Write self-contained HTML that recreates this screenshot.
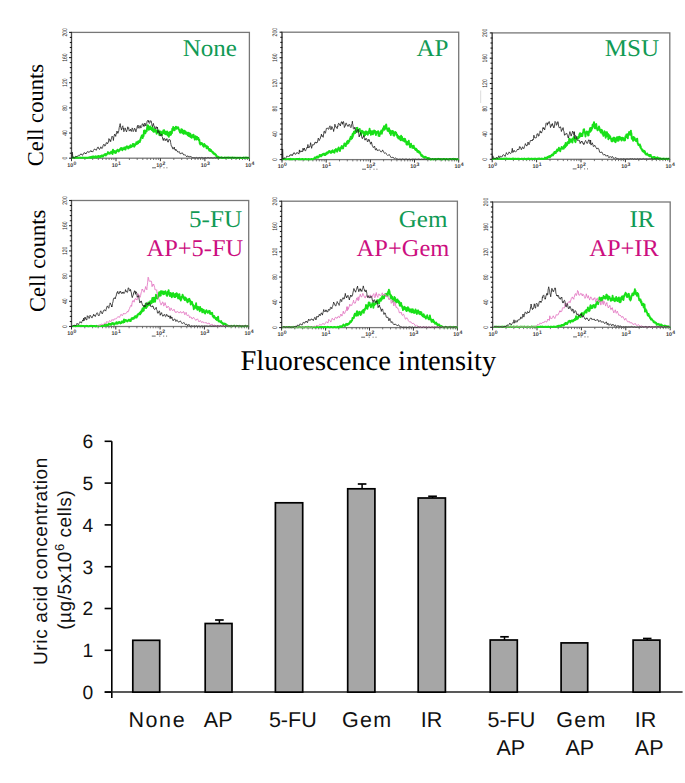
<!DOCTYPE html>
<html><head><meta charset="utf-8"><style>
html,body{margin:0;padding:0;background:#fff;}
svg{display:block;font-family:"Liberation Sans",sans-serif;}
text{text-rendering:geometricPrecision;}

</style></head><body>
<svg width="685" height="783" viewBox="0 0 685 783">
<rect width="685" height="783" fill="#fff"/>
<line x1="480.7" y1="90.5" x2="480.7" y2="103" stroke="#d8d8d8" stroke-width="0.9"/>
<rect x="71.5" y="32.4" width="177.9" height="125.8" fill="none" stroke="#777" stroke-width="1.3"/>
<line x1="71.5" y1="32.4" x2="71.5" y2="159.2" stroke="#4a4a4a" stroke-width="1.1"/>
<line x1="69.1" y1="158.2" x2="71.8" y2="158.2" stroke="#1a1a1a" stroke-width="1.1"/>
<line x1="69.8" y1="153.2" x2="71.8" y2="153.2" stroke="#1a1a1a" stroke-width="1.1"/>
<line x1="69.8" y1="148.1" x2="71.8" y2="148.1" stroke="#1a1a1a" stroke-width="1.1"/>
<line x1="69.8" y1="143.1" x2="71.8" y2="143.1" stroke="#1a1a1a" stroke-width="1.1"/>
<line x1="69.8" y1="138.1" x2="71.8" y2="138.1" stroke="#1a1a1a" stroke-width="1.1"/>
<line x1="69.1" y1="133.0" x2="71.8" y2="133.0" stroke="#1a1a1a" stroke-width="1.1"/>
<line x1="69.8" y1="128.0" x2="71.8" y2="128.0" stroke="#1a1a1a" stroke-width="1.1"/>
<line x1="69.8" y1="123.0" x2="71.8" y2="123.0" stroke="#1a1a1a" stroke-width="1.1"/>
<line x1="69.8" y1="117.9" x2="71.8" y2="117.9" stroke="#1a1a1a" stroke-width="1.1"/>
<line x1="69.8" y1="112.9" x2="71.8" y2="112.9" stroke="#1a1a1a" stroke-width="1.1"/>
<line x1="69.1" y1="107.9" x2="71.8" y2="107.9" stroke="#1a1a1a" stroke-width="1.1"/>
<line x1="69.8" y1="102.8" x2="71.8" y2="102.8" stroke="#1a1a1a" stroke-width="1.1"/>
<line x1="69.8" y1="97.8" x2="71.8" y2="97.8" stroke="#1a1a1a" stroke-width="1.1"/>
<line x1="69.8" y1="92.8" x2="71.8" y2="92.8" stroke="#1a1a1a" stroke-width="1.1"/>
<line x1="69.8" y1="87.8" x2="71.8" y2="87.8" stroke="#1a1a1a" stroke-width="1.1"/>
<line x1="69.1" y1="82.7" x2="71.8" y2="82.7" stroke="#1a1a1a" stroke-width="1.1"/>
<line x1="69.8" y1="77.7" x2="71.8" y2="77.7" stroke="#1a1a1a" stroke-width="1.1"/>
<line x1="69.8" y1="72.7" x2="71.8" y2="72.7" stroke="#1a1a1a" stroke-width="1.1"/>
<line x1="69.8" y1="67.6" x2="71.8" y2="67.6" stroke="#1a1a1a" stroke-width="1.1"/>
<line x1="69.8" y1="62.6" x2="71.8" y2="62.6" stroke="#1a1a1a" stroke-width="1.1"/>
<line x1="69.1" y1="57.6" x2="71.8" y2="57.6" stroke="#1a1a1a" stroke-width="1.1"/>
<line x1="69.8" y1="52.5" x2="71.8" y2="52.5" stroke="#1a1a1a" stroke-width="1.1"/>
<line x1="69.8" y1="47.5" x2="71.8" y2="47.5" stroke="#1a1a1a" stroke-width="1.1"/>
<line x1="69.8" y1="42.5" x2="71.8" y2="42.5" stroke="#1a1a1a" stroke-width="1.1"/>
<line x1="69.8" y1="37.4" x2="71.8" y2="37.4" stroke="#1a1a1a" stroke-width="1.1"/>
<line x1="69.1" y1="32.4" x2="71.8" y2="32.4" stroke="#1a1a1a" stroke-width="1.1"/>
<text x="0" y="0" transform="translate(66.6 158.2) rotate(-90) scale(0.76 1)" text-anchor="middle" font-size="6.6" fill="#2a2a2a" font-family="Liberation Sans">0</text>
<text x="0" y="0" transform="translate(66.6 133.0) rotate(-90) scale(0.76 1)" text-anchor="middle" font-size="6.6" fill="#2a2a2a" font-family="Liberation Sans">40</text>
<text x="0" y="0" transform="translate(66.6 107.9) rotate(-90) scale(0.76 1)" text-anchor="middle" font-size="6.6" fill="#2a2a2a" font-family="Liberation Sans">80</text>
<text x="0" y="0" transform="translate(66.6 82.7) rotate(-90) scale(0.76 1)" text-anchor="middle" font-size="6.6" fill="#2a2a2a" font-family="Liberation Sans">120</text>
<text x="0" y="0" transform="translate(66.6 57.6) rotate(-90) scale(0.76 1)" text-anchor="middle" font-size="6.6" fill="#2a2a2a" font-family="Liberation Sans">160</text>
<text x="0" y="0" transform="translate(66.6 32.4) rotate(-90) scale(0.76 1)" text-anchor="middle" font-size="6.6" fill="#2a2a2a" font-family="Liberation Sans">200</text>
<line x1="71.5" y1="158.2" x2="71.5" y2="161.2" stroke="#333" stroke-width="1"/>
<text x="67.3" y="166.6" font-size="5.4" font-weight="bold" fill="#3a3a3a" font-family="Liberation Sans">10<tspan dx="0.3" dy="-2.1" font-size="5.1">0</tspan></text>
<line x1="84.9" y1="158.2" x2="84.9" y2="160.0" stroke="#555" stroke-width="0.8"/>
<line x1="92.7" y1="158.2" x2="92.7" y2="160.0" stroke="#555" stroke-width="0.8"/>
<line x1="98.3" y1="158.2" x2="98.3" y2="160.0" stroke="#555" stroke-width="0.8"/>
<line x1="102.6" y1="158.2" x2="102.6" y2="160.0" stroke="#555" stroke-width="0.8"/>
<line x1="106.1" y1="158.2" x2="106.1" y2="160.0" stroke="#555" stroke-width="0.8"/>
<line x1="109.1" y1="158.2" x2="109.1" y2="160.0" stroke="#555" stroke-width="0.8"/>
<line x1="111.7" y1="158.2" x2="111.7" y2="160.0" stroke="#555" stroke-width="0.8"/>
<line x1="113.9" y1="158.2" x2="113.9" y2="160.0" stroke="#555" stroke-width="0.8"/>
<line x1="116.0" y1="158.2" x2="116.0" y2="161.2" stroke="#333" stroke-width="1"/>
<text x="111.8" y="166.6" font-size="5.4" font-weight="bold" fill="#3a3a3a" font-family="Liberation Sans">10<tspan dx="0.3" dy="-2.1" font-size="5.1">1</tspan></text>
<line x1="129.4" y1="158.2" x2="129.4" y2="160.0" stroke="#555" stroke-width="0.8"/>
<line x1="137.2" y1="158.2" x2="137.2" y2="160.0" stroke="#555" stroke-width="0.8"/>
<line x1="142.8" y1="158.2" x2="142.8" y2="160.0" stroke="#555" stroke-width="0.8"/>
<line x1="147.1" y1="158.2" x2="147.1" y2="160.0" stroke="#555" stroke-width="0.8"/>
<line x1="150.6" y1="158.2" x2="150.6" y2="160.0" stroke="#555" stroke-width="0.8"/>
<line x1="153.6" y1="158.2" x2="153.6" y2="160.0" stroke="#555" stroke-width="0.8"/>
<line x1="156.1" y1="158.2" x2="156.1" y2="160.0" stroke="#555" stroke-width="0.8"/>
<line x1="158.4" y1="158.2" x2="158.4" y2="160.0" stroke="#555" stroke-width="0.8"/>
<line x1="160.4" y1="158.2" x2="160.4" y2="161.2" stroke="#333" stroke-width="1"/>
<text x="156.2" y="166.6" font-size="5.4" font-weight="bold" fill="#3a3a3a" font-family="Liberation Sans">10<tspan dx="0.3" dy="-2.1" font-size="5.1">2</tspan></text>
<line x1="173.8" y1="158.2" x2="173.8" y2="160.0" stroke="#555" stroke-width="0.8"/>
<line x1="181.7" y1="158.2" x2="181.7" y2="160.0" stroke="#555" stroke-width="0.8"/>
<line x1="187.2" y1="158.2" x2="187.2" y2="160.0" stroke="#555" stroke-width="0.8"/>
<line x1="191.5" y1="158.2" x2="191.5" y2="160.0" stroke="#555" stroke-width="0.8"/>
<line x1="195.1" y1="158.2" x2="195.1" y2="160.0" stroke="#555" stroke-width="0.8"/>
<line x1="198.0" y1="158.2" x2="198.0" y2="160.0" stroke="#555" stroke-width="0.8"/>
<line x1="200.6" y1="158.2" x2="200.6" y2="160.0" stroke="#555" stroke-width="0.8"/>
<line x1="202.9" y1="158.2" x2="202.9" y2="160.0" stroke="#555" stroke-width="0.8"/>
<line x1="204.9" y1="158.2" x2="204.9" y2="161.2" stroke="#333" stroke-width="1"/>
<text x="200.7" y="166.6" font-size="5.4" font-weight="bold" fill="#3a3a3a" font-family="Liberation Sans">10<tspan dx="0.3" dy="-2.1" font-size="5.1">3</tspan></text>
<line x1="218.3" y1="158.2" x2="218.3" y2="160.0" stroke="#555" stroke-width="0.8"/>
<line x1="226.1" y1="158.2" x2="226.1" y2="160.0" stroke="#555" stroke-width="0.8"/>
<line x1="231.7" y1="158.2" x2="231.7" y2="160.0" stroke="#555" stroke-width="0.8"/>
<line x1="236.0" y1="158.2" x2="236.0" y2="160.0" stroke="#555" stroke-width="0.8"/>
<line x1="239.5" y1="158.2" x2="239.5" y2="160.0" stroke="#555" stroke-width="0.8"/>
<line x1="242.5" y1="158.2" x2="242.5" y2="160.0" stroke="#555" stroke-width="0.8"/>
<line x1="245.1" y1="158.2" x2="245.1" y2="160.0" stroke="#555" stroke-width="0.8"/>
<line x1="247.4" y1="158.2" x2="247.4" y2="160.0" stroke="#555" stroke-width="0.8"/>
<line x1="249.4" y1="158.2" x2="249.4" y2="161.2" stroke="#333" stroke-width="1"/>
<text x="245.2" y="166.6" font-size="5.4" font-weight="bold" fill="#3a3a3a" font-family="Liberation Sans">10<tspan dx="0.3" dy="-2.1" font-size="5.1">4</tspan></text>
<line x1="152.1" y1="167.8" x2="156.0" y2="167.8" stroke="#555" stroke-width="0.9"/>
<rect x="159.6" y="167.3" width="1" height="1" fill="#666"/>
<rect x="163.5" y="167.3" width="1" height="1" fill="#666"/>
<rect x="166.4" y="167.3" width="1" height="1" fill="#666"/>
<path d="M72.0,157.7 L72.5,157.8 L72.9,157.4 L73.3,157.5 L73.8,157.4 L74.2,157.9 L74.7,157.8 L75.2,157.9 L75.6,157.6 L76.0,157.8 L76.5,157.3 L77.0,157.7 L77.4,157.6 L77.8,157.9 L78.3,157.6 L78.8,157.8 L79.2,157.6 L79.7,157.6 L80.1,157.5 L80.5,157.8 L81.0,157.8 L81.5,157.9 L81.9,157.8 L82.3,157.8 L82.8,157.5 L83.2,157.7 L83.7,157.7 L84.2,157.8 L84.6,157.6 L85.0,157.8 L85.5,157.7 L86.0,157.8 L86.4,157.7 L86.8,157.9 L86.9,157.7 L87.3,158.0 L87.8,157.7 L88.2,157.6 L88.7,157.5 L89.1,157.5 L89.5,157.2 L90.0,157.5 L90.5,157.0 L90.9,157.9 L91.3,157.1 L91.8,157.7 L92.2,156.6 L92.7,157.4 L93.2,156.4 L93.6,157.3 L94.0,156.7 L94.5,157.5 L95.0,156.6 L95.4,157.0 L95.8,156.3 L96.3,157.7 L96.8,156.8 L97.2,157.1 L97.7,156.2 L98.1,156.7 L98.5,155.9 L99.0,157.1 L99.5,156.3 L99.9,157.0 L100.3,156.3 L100.8,157.0 L101.2,155.6 L101.5,155.7 L101.7,155.4 L102.2,156.2 L102.6,155.7 L103.0,156.7 L103.5,155.3 L104.0,155.3 L104.4,154.4 L104.8,154.6 L105.3,153.9 L105.8,155.6 L106.2,154.2 L106.7,154.6 L107.1,153.7 L107.5,153.6 L108.0,152.1 L108.5,153.6 L108.8,153.1 L108.9,153.2 L109.3,153.3 L109.8,153.8 L110.2,152.5 L110.7,152.5 L111.2,151.6 L111.6,153.1 L112.0,152.3 L112.5,154.1 L113.0,149.6 L113.4,152.2 L113.8,151.1 L114.3,152.3 L114.8,151.1 L115.2,153.1 L115.7,151.4 L116.1,152.7 L116.5,150.7 L117.0,151.2 L117.5,149.7 L117.9,150.7 L118.3,150.6 L118.8,151.5 L119.2,149.9 L119.7,150.3 L120.2,148.7 L120.6,149.0 L121.0,148.0 L121.5,149.4 L122.0,148.2 L122.4,150.2 L122.8,149.0 L123.3,149.0 L123.4,148.3 L123.8,148.7 L124.2,147.5 L124.7,149.3 L125.1,148.5 L125.5,149.6 L126.0,147.0 L126.5,147.5 L126.9,146.3 L127.3,147.2 L127.8,146.6 L128.2,148.5 L128.7,147.8 L129.2,147.8 L129.6,146.2 L130.1,147.4 L130.5,145.1 L130.7,147.4 L130.9,146.4 L131.4,146.7 L131.8,146.0 L132.3,146.3 L132.8,144.0 L133.2,144.9 L133.7,144.1 L134.1,146.7 L134.6,144.5 L135.0,145.5 L135.4,144.1 L135.9,144.5 L136.3,142.3 L136.8,144.1 L137.2,143.0 L137.7,142.7 L138.0,141.4 L138.2,143.3 L138.6,141.1 L139.1,141.9 L139.5,141.0 L139.9,142.0 L140.2,139.7 L140.4,140.4 L140.8,137.9 L141.3,137.1 L141.8,135.5 L142.2,137.3 L142.4,135.3 L142.7,138.1 L143.1,135.3 L143.6,136.0 L144.0,130.6 L144.4,133.4 L144.9,130.4 L145.3,133.4 L145.8,131.5 L146.0,131.8 L146.2,130.8 L146.7,131.3 L147.2,127.0 L147.6,125.1 L148.1,125.7 L148.2,128.4 L148.5,126.7 L148.9,129.8 L149.4,128.9 L149.8,129.1 L150.3,126.5 L150.8,129.1 L151.2,128.2 L151.7,130.1 L152.1,128.8 L152.6,130.3 L152.6,127.2 L153.0,131.2 L153.4,129.9 L153.9,131.9 L154.3,129.1 L154.8,131.6 L155.2,129.7 L155.7,131.1 L156.2,130.3 L156.6,133.7 L157.1,132.1 L157.5,132.7 L157.9,130.8 L158.4,132.5 L158.8,130.5 L159.3,135.0 L159.8,132.7 L160.2,134.3 L160.7,131.5 L161.1,133.3 L161.6,132.2 L162.0,135.1 L162.4,132.2 L162.9,133.0 L163.3,130.5 L163.8,133.2 L164.2,130.2 L164.7,133.7 L165.0,131.4 L165.2,134.0 L165.6,133.5 L166.1,134.4 L166.5,131.7 L166.9,133.0 L167.4,131.6 L167.8,135.3 L168.3,134.7 L168.8,136.9 L169.2,132.8 L169.6,135.2 L169.7,132.3 L170.1,135.0 L170.6,131.8 L171.0,134.7 L171.4,132.2 L171.9,133.2 L172.3,128.6 L172.8,130.7 L173.2,126.9 L173.7,129.3 L174.2,129.1 L174.6,130.3 L175.1,127.6 L175.5,128.1 L175.9,126.6 L176.4,128.8 L176.8,127.1 L176.9,128.5 L177.3,127.9 L177.8,128.2 L178.2,127.3 L178.7,129.3 L179.1,129.7 L179.6,131.6 L179.8,131.3 L180.0,132.6 L180.4,130.9 L180.9,132.7 L181.3,129.2 L181.8,130.7 L182.2,129.6 L182.7,133.1 L183.2,130.7 L183.6,133.9 L184.1,132.3 L184.2,132.7 L184.5,130.8 L184.9,133.3 L185.4,131.4 L185.8,133.8 L186.3,132.3 L186.8,134.1 L187.2,132.7 L187.7,135.4 L188.1,134.3 L188.6,135.7 L188.6,132.7 L189.0,136.1 L189.4,133.5 L189.9,136.6 L190.3,133.6 L190.8,137.2 L191.2,135.7 L191.7,137.8 L192.2,135.1 L192.6,136.9 L193.0,135.5 L193.1,136.4 L193.5,134.7 L193.9,137.5 L194.4,137.5 L194.8,139.7 L195.3,136.3 L195.8,137.7 L196.2,136.7 L196.7,139.6 L197.1,137.0 L197.3,138.7 L197.6,138.1 L198.0,139.1 L198.4,138.0 L198.9,140.3 L199.3,139.8 L199.8,143.7 L200.2,142.7 L200.3,144.5 L200.7,143.7 L201.2,144.0 L201.6,142.9 L202.1,143.4 L202.5,144.0 L202.9,145.8 L203.4,145.7 L203.8,146.8 L204.3,143.9 L204.8,145.7 L205.2,145.0 L205.7,146.0 L206.1,146.0 L206.6,148.2 L207.0,146.3 L207.4,147.8 L207.9,146.9 L208.3,148.8 L208.8,149.3 L209.2,150.5 L209.7,148.9 L210.2,151.1 L210.5,149.8 L210.6,150.7 L211.1,150.1 L211.5,151.4 L211.9,151.4 L212.4,152.4 L212.8,151.7 L213.3,153.4 L213.8,153.0 L214.2,154.3 L214.7,153.5 L214.9,154.4 L215.1,153.9 L215.6,154.9 L216.0,154.8 L216.4,156.6 L216.9,156.2 L217.3,157.6 L217.8,156.6 L218.2,156.8 L218.7,157.0 L219.2,157.8 L219.2,157.5 L219.6,157.9 L220.1,157.6 L220.5,157.7 L220.9,157.5 L221.4,157.6 L221.8,157.3 L222.3,157.8 L222.8,157.6 L223.2,158.1 L223.7,157.8 L224.1,157.7 L224.6,157.5 L225.0,157.7 L225.4,157.5 L225.9,157.9 L226.3,157.6 L226.8,157.8 L227.2,157.6 L227.7,157.6 L228.0,157.3 L228.2,157.6 L228.6,157.4 L229.1,157.7 L229.5,157.6 L229.9,157.8 L230.4,157.6 L230.8,157.8 L231.3,157.6 L231.8,157.6 L232.2,157.4 L232.7,157.7 L233.1,157.6 L233.6,157.8 L234.0,157.5 L234.4,157.8 L234.9,157.6 L235.3,157.8 L235.8,157.8 L236.2,157.9 L236.7,157.7 L237.2,157.8 L237.6,157.6 L238.1,157.9 L238.5,157.8 L238.9,157.9 L239.4,157.7 L239.8,157.7 L240.3,157.6 L240.8,157.9 L241.2,157.7 L241.7,158.0 L242.1,157.8 L242.6,158.0 L243.0,157.7 L243.4,157.7 L243.9,157.5 L244.3,157.8 L244.8,157.8 L245.2,158.0 L245.7,157.6 L246.2,157.8 L246.6,157.5 L247.1,157.6 L247.5,157.6 L247.9,157.9 L248.4,157.7 L248.8,157.7 L249.2,157.4" fill="none" stroke="#18e018" stroke-width="1.9" stroke-linejoin="round"/>
<path d="M72.0,157.9 L72.3,152.2 L72.5,153.5 L72.8,157.8 L72.9,157.7 L73.3,157.5 L73.8,157.4 L74.2,158.3 L74.7,157.7 L75.2,157.2 L75.6,156.3 L76.0,156.4 L76.5,156.6 L77.0,156.9 L77.4,156.0 L77.8,155.7 L78.3,155.3 L78.8,155.9 L79.2,155.7 L79.6,155.5 L79.7,155.2 L80.1,155.0 L80.5,154.0 L81.0,154.0 L81.5,154.0 L81.9,155.0 L82.3,155.3 L82.8,155.1 L83.2,153.7 L83.7,153.5 L84.2,152.5 L84.6,152.9 L85.0,152.9 L85.4,153.7 L85.5,153.0 L86.0,153.9 L86.4,152.7 L86.8,152.6 L87.3,151.7 L87.8,151.7 L88.2,151.5 L88.7,152.5 L89.1,152.5 L89.5,152.1 L90.0,151.1 L90.5,151.2 L90.9,150.5 L91.3,151.4 L91.3,151.0 L91.8,151.9 L92.2,151.5 L92.7,152.1 L93.2,150.8 L93.6,150.3 L94.0,149.3 L94.5,149.2 L95.0,149.1 L95.4,149.9 L95.8,149.8 L96.3,150.3 L96.8,148.9 L97.1,148.6 L97.2,147.8 L97.7,147.5 L98.1,146.9 L98.5,148.4 L99.0,148.6 L99.5,149.5 L99.9,148.4 L100.3,148.3 L100.8,146.8 L101.2,147.4 L101.5,147.6 L101.7,148.4 L102.2,148.4 L102.6,147.5 L103.0,145.7 L103.5,144.7 L104.0,144.1 L104.4,145.9 L104.8,146.0 L105.3,145.8 L105.8,144.4 L105.9,144.4 L106.2,142.7 L106.7,142.9 L107.1,142.5 L107.5,143.8 L108.0,142.8 L108.5,142.1 L108.9,138.6 L109.3,139.6 L109.8,139.4 L110.2,141.4 L110.3,140.5 L110.7,141.5 L111.2,139.0 L111.6,138.1 L112.0,136.1 L112.5,136.6 L113.0,137.7 L113.4,140.5 L113.8,137.0 L114.3,135.4 L114.6,134.2 L114.8,135.2 L115.2,135.0 L115.7,136.4 L116.1,133.5 L116.5,133.8 L117.0,131.0 L117.5,132.9 L117.6,132.5 L117.9,133.4 L118.3,132.6 L118.8,130.7 L119.2,127.6 L119.7,125.6 L120.2,123.6 L120.6,127.1 L121.0,128.2 L121.5,130.1 L122.0,127.7 L122.4,126.4 L122.8,125.8 L123.3,129.2 L123.4,128.3 L123.8,131.7 L124.2,131.0 L124.7,130.5 L125.1,127.9 L125.5,129.2 L126.0,130.3 L126.5,131.9 L126.9,130.4 L127.3,129.4 L127.8,126.8 L128.2,128.4 L128.7,127.8 L129.2,131.1 L129.6,130.5 L130.1,130.2 L130.5,129.1 L130.9,131.1 L131.4,131.4 L131.8,129.6 L132.2,127.9 L132.3,128.0 L132.8,128.9 L133.2,131.6 L133.7,130.7 L134.1,130.2 L134.6,128.2 L135.0,128.9 L135.4,129.4 L135.9,131.9 L136.3,129.8 L136.8,129.0 L137.2,126.7 L137.7,127.2 L138.0,125.0 L138.2,128.1 L138.6,127.7 L139.1,128.3 L139.5,126.2 L139.9,125.6 L140.4,125.7 L140.8,128.1 L141.3,127.3 L141.8,126.6 L142.2,123.8 L142.7,124.0 L143.1,123.8 L143.6,125.9 L143.8,125.0 L144.0,126.6 L144.4,124.1 L144.9,123.0 L145.3,124.0 L145.8,126.0 L146.2,124.6 L146.7,123.6 L147.2,121.0 L147.6,120.6 L148.1,120.1 L148.5,121.9 L148.9,120.8 L148.9,122.8 L149.4,123.4 L149.8,122.9 L150.3,120.8 L150.8,120.8 L151.2,120.9 L151.7,123.7 L152.1,125.8 L152.6,126.7 L152.6,125.4 L153.0,125.1 L153.4,123.4 L153.9,126.0 L154.3,126.1 L154.8,128.3 L155.2,127.9 L155.7,128.7 L156.2,126.6 L156.6,127.6 L157.0,127.5 L157.1,128.6 L157.5,127.1 L157.9,132.9 L158.4,130.8 L158.8,130.9 L159.3,131.7 L159.4,133.5 L159.8,133.1 L160.2,136.1 L160.7,135.3 L161.1,135.2 L161.6,134.3 L162.0,136.5 L162.4,136.9 L162.9,139.2 L163.0,138.7 L163.3,140.5 L163.8,138.7 L164.2,138.5 L164.7,138.5 L165.2,140.7 L165.6,139.6 L166.1,140.3 L166.5,139.1 L166.7,139.3 L166.9,138.6 L167.4,140.9 L167.8,142.1 L168.3,142.1 L168.8,139.6 L169.2,139.6 L169.7,139.4 L170.1,140.4 L170.3,140.2 L170.6,142.4 L171.0,144.5 L171.4,146.3 L171.8,146.7 L171.9,147.2 L172.3,146.9 L172.8,149.0 L173.2,148.8 L173.7,148.8 L174.2,147.0 L174.6,149.0 L175.1,150.0 L175.4,150.4 L175.5,149.4 L175.9,150.1 L176.4,149.7 L176.8,151.0 L177.3,151.1 L177.8,152.1 L178.2,151.8 L178.7,152.3 L179.1,151.5 L179.6,152.5 L179.8,152.7 L180.0,153.8 L180.4,153.7 L180.9,153.6 L181.3,153.1 L181.8,153.4 L182.2,152.7 L182.7,153.7 L183.2,153.8 L183.6,154.9 L184.1,154.9 L184.5,155.1 L184.9,154.6 L185.4,155.3 L185.7,155.5 L185.8,155.8 L186.3,156.2 L186.8,156.9 L187.2,156.0 L187.7,155.9 L188.1,155.9 L188.6,156.8 L189.0,156.9 L189.4,157.1 L189.9,156.2 L190.3,156.5 L190.8,156.4 L191.2,157.1 L191.7,157.2 L192.2,157.6 L192.6,157.6 L193.0,157.8 L193.1,157.6 L193.5,157.7 L193.9,157.6 L194.4,157.7 L194.8,157.7 L195.3,157.9 L195.8,157.6 L196.2,157.4 L196.7,157.5 L197.1,157.7 L197.6,157.9 L198.0,157.9 L198.4,157.8 L198.9,157.7 L199.3,157.5 L199.8,157.5 L200.2,157.6 L200.7,157.9 L201.2,157.6 L201.6,157.4 L202.1,157.4 L202.5,157.6 L202.9,157.6 L203.4,157.9 L203.8,157.9 L204.3,157.9 L204.8,157.6 L205.2,157.6 L205.7,157.6 L206.0,157.8 L206.1,157.9 L206.6,157.9 L207.0,157.7 L207.4,157.6 L207.9,157.4 L208.3,157.5 L208.8,157.6 L209.2,157.8 L209.7,157.9 L210.2,157.9 L210.6,157.6 L211.1,157.7 L211.5,157.6 L211.9,157.8 L212.4,157.8 L212.8,158.0 L213.3,157.9 L213.8,157.7 L214.2,157.4 L214.7,157.6 L215.1,157.7 L215.6,157.9 L216.0,157.7 L216.4,157.7 L216.9,157.5 L217.3,157.7 L217.8,157.8 L218.2,158.0 L218.7,157.8 L219.2,157.7 L219.6,157.5 L220.1,157.4 L220.5,157.4 L220.9,157.6 L221.4,157.7 L221.8,157.9 L222.3,157.7 L222.8,157.7 L223.2,157.5 L223.7,157.6 L224.1,157.5 L224.6,157.7 L225.0,157.7 L225.4,157.8 L225.9,157.6 L226.3,157.6 L226.8,157.4 L227.2,157.5 L227.7,157.6 L228.2,157.9 L228.6,157.8 L229.1,157.8 L229.5,157.5 L229.9,157.5 L230.4,157.6 L230.8,157.8 L231.3,157.9 L231.8,157.8 L232.2,157.4 L232.7,157.5 L233.1,157.6 L233.6,158.0 L234.0,158.0 L234.4,157.8 L234.9,157.5 L235.3,157.5 L235.8,157.7 L236.2,157.9 L236.7,158.0 L237.2,158.0 L237.6,157.7 L238.1,157.7 L238.5,157.5 L238.9,157.8 L239.4,157.8 L239.8,157.9 L240.3,157.7 L240.8,157.6 L241.2,157.7 L241.7,158.1 L242.1,157.7 L242.6,157.5 L243.0,157.4 L243.4,157.7 L243.9,157.7 L244.3,158.0 L244.8,157.6 L245.2,157.5 L245.7,157.3 L246.2,157.6 L246.6,157.7 L247.1,157.8 L247.5,157.6 L247.9,157.5 L248.4,157.5 L248.8,158.0 L249.0,157.9" fill="none" stroke="#1e1e1e" stroke-width="0.8"/>
<rect x="282.0" y="32.2" width="176.7" height="127.4" fill="none" stroke="#777" stroke-width="1.3"/>
<line x1="282.0" y1="32.2" x2="282.0" y2="160.6" stroke="#4a4a4a" stroke-width="1.1"/>
<line x1="279.6" y1="159.6" x2="282.3" y2="159.6" stroke="#1a1a1a" stroke-width="1.1"/>
<line x1="280.3" y1="154.5" x2="282.3" y2="154.5" stroke="#1a1a1a" stroke-width="1.1"/>
<line x1="280.3" y1="149.4" x2="282.3" y2="149.4" stroke="#1a1a1a" stroke-width="1.1"/>
<line x1="280.3" y1="144.3" x2="282.3" y2="144.3" stroke="#1a1a1a" stroke-width="1.1"/>
<line x1="280.3" y1="139.2" x2="282.3" y2="139.2" stroke="#1a1a1a" stroke-width="1.1"/>
<line x1="279.6" y1="134.1" x2="282.3" y2="134.1" stroke="#1a1a1a" stroke-width="1.1"/>
<line x1="280.3" y1="129.0" x2="282.3" y2="129.0" stroke="#1a1a1a" stroke-width="1.1"/>
<line x1="280.3" y1="123.9" x2="282.3" y2="123.9" stroke="#1a1a1a" stroke-width="1.1"/>
<line x1="280.3" y1="118.8" x2="282.3" y2="118.8" stroke="#1a1a1a" stroke-width="1.1"/>
<line x1="280.3" y1="113.7" x2="282.3" y2="113.7" stroke="#1a1a1a" stroke-width="1.1"/>
<line x1="279.6" y1="108.6" x2="282.3" y2="108.6" stroke="#1a1a1a" stroke-width="1.1"/>
<line x1="280.3" y1="103.5" x2="282.3" y2="103.5" stroke="#1a1a1a" stroke-width="1.1"/>
<line x1="280.3" y1="98.4" x2="282.3" y2="98.4" stroke="#1a1a1a" stroke-width="1.1"/>
<line x1="280.3" y1="93.4" x2="282.3" y2="93.4" stroke="#1a1a1a" stroke-width="1.1"/>
<line x1="280.3" y1="88.3" x2="282.3" y2="88.3" stroke="#1a1a1a" stroke-width="1.1"/>
<line x1="279.6" y1="83.2" x2="282.3" y2="83.2" stroke="#1a1a1a" stroke-width="1.1"/>
<line x1="280.3" y1="78.1" x2="282.3" y2="78.1" stroke="#1a1a1a" stroke-width="1.1"/>
<line x1="280.3" y1="73.0" x2="282.3" y2="73.0" stroke="#1a1a1a" stroke-width="1.1"/>
<line x1="280.3" y1="67.9" x2="282.3" y2="67.9" stroke="#1a1a1a" stroke-width="1.1"/>
<line x1="280.3" y1="62.8" x2="282.3" y2="62.8" stroke="#1a1a1a" stroke-width="1.1"/>
<line x1="279.6" y1="57.7" x2="282.3" y2="57.7" stroke="#1a1a1a" stroke-width="1.1"/>
<line x1="280.3" y1="52.6" x2="282.3" y2="52.6" stroke="#1a1a1a" stroke-width="1.1"/>
<line x1="280.3" y1="47.5" x2="282.3" y2="47.5" stroke="#1a1a1a" stroke-width="1.1"/>
<line x1="280.3" y1="42.4" x2="282.3" y2="42.4" stroke="#1a1a1a" stroke-width="1.1"/>
<line x1="280.3" y1="37.3" x2="282.3" y2="37.3" stroke="#1a1a1a" stroke-width="1.1"/>
<line x1="279.6" y1="32.2" x2="282.3" y2="32.2" stroke="#1a1a1a" stroke-width="1.1"/>
<text x="0" y="0" transform="translate(277.1 159.6) rotate(-90) scale(0.76 1)" text-anchor="middle" font-size="6.6" fill="#2a2a2a" font-family="Liberation Sans">0</text>
<text x="0" y="0" transform="translate(277.1 134.1) rotate(-90) scale(0.76 1)" text-anchor="middle" font-size="6.6" fill="#2a2a2a" font-family="Liberation Sans">40</text>
<text x="0" y="0" transform="translate(277.1 108.6) rotate(-90) scale(0.76 1)" text-anchor="middle" font-size="6.6" fill="#2a2a2a" font-family="Liberation Sans">80</text>
<text x="0" y="0" transform="translate(277.1 83.2) rotate(-90) scale(0.76 1)" text-anchor="middle" font-size="6.6" fill="#2a2a2a" font-family="Liberation Sans">120</text>
<text x="0" y="0" transform="translate(277.1 57.7) rotate(-90) scale(0.76 1)" text-anchor="middle" font-size="6.6" fill="#2a2a2a" font-family="Liberation Sans">160</text>
<text x="0" y="0" transform="translate(277.1 32.2) rotate(-90) scale(0.76 1)" text-anchor="middle" font-size="6.6" fill="#2a2a2a" font-family="Liberation Sans">200</text>
<line x1="282.0" y1="159.6" x2="282.0" y2="162.6" stroke="#333" stroke-width="1"/>
<text x="277.8" y="168.0" font-size="5.4" font-weight="bold" fill="#3a3a3a" font-family="Liberation Sans">10<tspan dx="0.3" dy="-2.1" font-size="5.1">0</tspan></text>
<line x1="295.3" y1="159.6" x2="295.3" y2="161.4" stroke="#555" stroke-width="0.8"/>
<line x1="303.1" y1="159.6" x2="303.1" y2="161.4" stroke="#555" stroke-width="0.8"/>
<line x1="308.6" y1="159.6" x2="308.6" y2="161.4" stroke="#555" stroke-width="0.8"/>
<line x1="312.9" y1="159.6" x2="312.9" y2="161.4" stroke="#555" stroke-width="0.8"/>
<line x1="316.4" y1="159.6" x2="316.4" y2="161.4" stroke="#555" stroke-width="0.8"/>
<line x1="319.3" y1="159.6" x2="319.3" y2="161.4" stroke="#555" stroke-width="0.8"/>
<line x1="321.9" y1="159.6" x2="321.9" y2="161.4" stroke="#555" stroke-width="0.8"/>
<line x1="324.2" y1="159.6" x2="324.2" y2="161.4" stroke="#555" stroke-width="0.8"/>
<line x1="326.2" y1="159.6" x2="326.2" y2="162.6" stroke="#333" stroke-width="1"/>
<text x="322.0" y="168.0" font-size="5.4" font-weight="bold" fill="#3a3a3a" font-family="Liberation Sans">10<tspan dx="0.3" dy="-2.1" font-size="5.1">1</tspan></text>
<line x1="339.5" y1="159.6" x2="339.5" y2="161.4" stroke="#555" stroke-width="0.8"/>
<line x1="347.3" y1="159.6" x2="347.3" y2="161.4" stroke="#555" stroke-width="0.8"/>
<line x1="352.8" y1="159.6" x2="352.8" y2="161.4" stroke="#555" stroke-width="0.8"/>
<line x1="357.1" y1="159.6" x2="357.1" y2="161.4" stroke="#555" stroke-width="0.8"/>
<line x1="360.5" y1="159.6" x2="360.5" y2="161.4" stroke="#555" stroke-width="0.8"/>
<line x1="363.5" y1="159.6" x2="363.5" y2="161.4" stroke="#555" stroke-width="0.8"/>
<line x1="366.1" y1="159.6" x2="366.1" y2="161.4" stroke="#555" stroke-width="0.8"/>
<line x1="368.3" y1="159.6" x2="368.3" y2="161.4" stroke="#555" stroke-width="0.8"/>
<line x1="370.4" y1="159.6" x2="370.4" y2="162.6" stroke="#333" stroke-width="1"/>
<text x="366.2" y="168.0" font-size="5.4" font-weight="bold" fill="#3a3a3a" font-family="Liberation Sans">10<tspan dx="0.3" dy="-2.1" font-size="5.1">2</tspan></text>
<line x1="383.6" y1="159.6" x2="383.6" y2="161.4" stroke="#555" stroke-width="0.8"/>
<line x1="391.4" y1="159.6" x2="391.4" y2="161.4" stroke="#555" stroke-width="0.8"/>
<line x1="396.9" y1="159.6" x2="396.9" y2="161.4" stroke="#555" stroke-width="0.8"/>
<line x1="401.2" y1="159.6" x2="401.2" y2="161.4" stroke="#555" stroke-width="0.8"/>
<line x1="404.7" y1="159.6" x2="404.7" y2="161.4" stroke="#555" stroke-width="0.8"/>
<line x1="407.7" y1="159.6" x2="407.7" y2="161.4" stroke="#555" stroke-width="0.8"/>
<line x1="410.2" y1="159.6" x2="410.2" y2="161.4" stroke="#555" stroke-width="0.8"/>
<line x1="412.5" y1="159.6" x2="412.5" y2="161.4" stroke="#555" stroke-width="0.8"/>
<line x1="414.5" y1="159.6" x2="414.5" y2="162.6" stroke="#333" stroke-width="1"/>
<text x="410.3" y="168.0" font-size="5.4" font-weight="bold" fill="#3a3a3a" font-family="Liberation Sans">10<tspan dx="0.3" dy="-2.1" font-size="5.1">3</tspan></text>
<line x1="427.8" y1="159.6" x2="427.8" y2="161.4" stroke="#555" stroke-width="0.8"/>
<line x1="435.6" y1="159.6" x2="435.6" y2="161.4" stroke="#555" stroke-width="0.8"/>
<line x1="441.1" y1="159.6" x2="441.1" y2="161.4" stroke="#555" stroke-width="0.8"/>
<line x1="445.4" y1="159.6" x2="445.4" y2="161.4" stroke="#555" stroke-width="0.8"/>
<line x1="448.9" y1="159.6" x2="448.9" y2="161.4" stroke="#555" stroke-width="0.8"/>
<line x1="451.9" y1="159.6" x2="451.9" y2="161.4" stroke="#555" stroke-width="0.8"/>
<line x1="454.4" y1="159.6" x2="454.4" y2="161.4" stroke="#555" stroke-width="0.8"/>
<line x1="456.7" y1="159.6" x2="456.7" y2="161.4" stroke="#555" stroke-width="0.8"/>
<line x1="458.7" y1="159.6" x2="458.7" y2="162.6" stroke="#333" stroke-width="1"/>
<text x="454.5" y="168.0" font-size="5.4" font-weight="bold" fill="#3a3a3a" font-family="Liberation Sans">10<tspan dx="0.3" dy="-2.1" font-size="5.1">4</tspan></text>
<line x1="362.1" y1="169.2" x2="366.0" y2="169.2" stroke="#555" stroke-width="0.9"/>
<rect x="369.6" y="168.7" width="1" height="1" fill="#666"/>
<rect x="373.5" y="168.7" width="1" height="1" fill="#666"/>
<rect x="376.4" y="168.7" width="1" height="1" fill="#666"/>
<path d="M282.3,159.1 L282.8,159.2 L283.2,158.7 L283.6,159.0 L284.1,158.8 L284.6,159.1 L285.0,159.0 L285.4,159.4 L285.9,159.2 L286.4,159.2 L286.8,159.0 L287.2,159.1 L287.7,159.1 L288.1,159.2 L288.6,159.0 L289.1,159.3 L289.5,158.9 L289.9,159.2 L290.4,158.8 L290.9,159.2 L291.3,159.0 L291.8,159.3 L292.2,159.0 L292.6,159.3 L293.1,158.9 L293.6,159.1 L294.0,159.1 L294.4,159.3 L294.9,159.0 L295.4,159.2 L295.8,159.1 L296.2,159.1 L296.7,158.9 L297.1,159.1 L297.6,159.0 L298.1,159.2 L298.5,159.0 L298.9,159.2 L299.4,158.8 L299.9,159.2 L300.3,159.2 L300.8,159.3 L301.2,159.1 L301.6,159.2 L302.1,158.9 L302.6,159.1 L303.0,159.0 L303.4,159.2 L303.9,159.2 L304.2,159.4 L304.4,159.2 L304.8,159.2 L305.2,158.9 L305.7,159.0 L306.1,159.1 L306.6,159.3 L307.1,159.1 L307.5,159.2 L307.9,159.1 L308.4,159.3 L308.9,158.9 L309.3,159.3 L309.8,159.1 L310.2,159.4 L310.6,159.1 L311.1,159.1 L311.6,158.9 L312.0,159.3 L312.4,159.1 L312.9,159.2 L313.0,159.0 L313.4,159.1 L313.8,158.7 L314.2,158.6 L314.7,157.4 L315.1,158.1 L315.6,158.0 L316.1,158.0 L316.5,156.8 L316.9,157.6 L317.4,156.4 L317.9,157.8 L318.3,157.1 L318.8,156.9 L318.8,156.4 L319.2,156.7 L319.6,155.0 L320.1,156.0 L320.6,155.1 L321.0,156.4 L321.4,154.9 L321.9,155.6 L322.4,154.2 L322.8,154.7 L323.2,154.1 L323.7,154.6 L324.1,153.6 L324.6,155.1 L325.1,154.3 L325.5,155.0 L325.9,153.4 L326.1,154.2 L326.4,152.8 L326.9,153.8 L327.3,152.2 L327.8,153.3 L328.2,152.7 L328.6,152.0 L329.1,150.9 L329.6,151.8 L330.0,151.2 L330.4,152.8 L330.9,152.7 L331.4,152.7 L331.8,150.9 L332.2,150.9 L332.7,150.2 L333.1,152.1 L333.4,151.5 L333.6,152.3 L334.1,151.7 L334.5,152.7 L334.9,150.0 L335.4,150.4 L335.9,149.1 L336.3,150.8 L336.8,150.5 L337.2,151.7 L337.6,149.0 L338.1,149.7 L338.6,147.5 L339.0,148.8 L339.4,149.0 L339.9,151.1 L340.4,148.4 L340.7,148.6 L340.8,147.5 L341.2,147.5 L341.7,146.1 L342.1,148.3 L342.6,147.0 L343.1,148.4 L343.5,145.8 L343.9,145.6 L344.4,143.5 L344.9,145.6 L345.3,144.9 L345.8,146.1 L346.2,143.3 L346.6,144.1 L347.1,141.4 L347.6,143.6 L348.0,140.7 L348.4,142.9 L348.9,141.1 L349.4,141.2 L349.8,139.1 L350.2,138.8 L350.7,136.8 L351.1,139.2 L351.6,136.5 L352.1,138.4 L352.5,134.2 L352.8,136.7 L352.9,133.5 L353.4,134.9 L353.9,131.8 L354.3,133.4 L354.8,131.2 L355.2,133.1 L355.6,130.5 L356.1,131.0 L356.6,127.9 L357.0,129.3 L357.4,127.8 L357.5,130.7 L357.9,130.0 L358.4,131.9 L358.8,130.2 L359.2,130.7 L359.7,128.9 L360.1,131.2 L360.6,131.5 L361.1,135.0 L361.1,131.6 L361.5,134.0 L361.9,130.8 L362.4,132.4 L362.9,131.3 L363.3,132.6 L363.8,132.0 L364.2,136.1 L364.6,133.2 L365.1,135.1 L365.6,131.4 L366.0,132.4 L366.4,131.5 L366.9,134.1 L367.4,132.3 L367.8,134.8 L368.2,132.7 L368.4,133.3 L368.7,131.2 L369.1,132.6 L369.6,128.8 L370.1,133.1 L370.5,130.7 L370.9,134.8 L371.4,132.7 L371.9,132.4 L372.3,131.2 L372.8,134.4 L373.2,132.9 L373.6,133.4 L374.1,130.5 L374.6,132.2 L375.0,131.0 L375.2,132.4 L375.4,131.7 L375.9,135.0 L376.4,132.1 L376.8,132.9 L377.2,131.7 L377.7,132.1 L378.1,131.2 L378.6,135.8 L379.1,134.1 L379.5,136.1 L379.6,133.8 L379.9,134.6 L380.4,131.8 L380.9,133.3 L381.3,130.5 L381.8,133.7 L382.2,131.6 L382.6,131.1 L383.1,128.1 L383.6,129.1 L384.0,126.2 L384.4,129.7 L384.9,128.9 L385.4,128.7 L385.8,125.2 L386.2,125.9 L386.2,124.4 L386.7,128.5 L387.1,128.2 L387.6,130.7 L388.1,129.2 L388.5,131.2 L388.9,128.1 L389.4,130.0 L389.8,130.2 L389.9,133.3 L390.3,130.8 L390.8,135.0 L391.2,132.5 L391.6,132.4 L392.1,130.9 L392.6,133.0 L393.0,131.2 L393.4,135.2 L393.9,133.5 L394.2,135.8 L394.4,132.5 L394.8,133.6 L395.2,131.9 L395.7,133.5 L396.1,132.6 L396.6,135.2 L397.1,134.6 L397.5,137.4 L397.9,136.1 L398.4,138.5 L398.6,136.1 L398.9,137.4 L399.3,136.8 L399.8,138.8 L400.2,139.3 L400.6,140.2 L401.1,135.7 L401.6,137.9 L402.0,136.8 L402.4,140.4 L402.9,138.7 L403.4,140.8 L403.8,140.0 L404.2,140.5 L404.4,138.7 L404.7,141.6 L405.1,138.9 L405.6,141.1 L406.1,141.4 L406.5,144.5 L406.9,142.9 L407.4,144.5 L407.9,141.6 L408.3,143.7 L408.8,140.8 L409.2,144.3 L409.6,145.1 L410.1,147.3 L410.3,144.9 L410.6,145.5 L411.0,143.7 L411.4,146.0 L411.9,146.1 L412.4,147.9 L412.8,146.0 L413.2,148.0 L413.7,145.8 L414.1,147.5 L414.6,148.0 L415.1,149.5 L415.5,149.1 L415.9,150.0 L416.1,148.7 L416.4,149.8 L416.9,149.6 L417.3,151.8 L417.8,151.7 L418.2,152.1 L418.6,151.0 L419.1,152.8 L419.6,151.8 L420.0,153.0 L420.4,153.2 L420.5,154.1 L420.9,154.6 L421.4,155.8 L421.8,154.9 L422.2,156.2 L422.7,155.7 L423.1,157.0 L423.4,156.9 L423.6,157.6 L424.1,157.5 L424.5,157.7 L424.9,156.7 L425.4,157.6 L425.9,156.9 L426.3,157.7 L426.8,157.6 L427.2,158.7 L427.6,158.0 L428.1,159.0 L428.6,158.1 L429.0,158.8 L429.4,158.3 L429.9,159.0 L430.4,159.0 L430.7,159.5 L430.8,159.2 L431.2,159.4 L431.7,159.0 L432.1,159.2 L432.6,158.9 L433.1,159.2 L433.5,159.1 L433.9,159.4 L434.4,158.9 L434.9,159.1 L435.3,159.0 L435.8,159.2 L436.2,159.2 L436.6,159.4 L437.1,158.9 L437.6,159.0 L438.0,158.8 L438.4,159.1 L438.9,159.0 L439.4,159.2 L439.8,158.9 L440.2,159.1 L440.7,158.9 L441.1,159.2 L441.6,159.1 L442.1,159.5 L442.5,159.2 L442.9,159.2 L443.4,159.0 L443.9,159.1 L444.3,159.0 L444.8,159.3 L445.2,159.2 L445.6,159.2 L446.1,158.9 L446.6,159.1 L447.0,159.0 L447.4,159.2 L447.9,159.1 L448.4,159.4 L448.8,159.1 L449.2,159.3 L449.7,158.9 L450.1,159.0 L450.6,158.9 L451.1,159.1 L451.5,159.1 L451.9,159.2 L452.4,158.9 L452.9,159.0 L453.3,158.8 L453.8,159.1 L454.2,159.0 L454.6,159.3 L455.1,159.0 L455.6,159.1 L456.0,159.0 L456.4,159.3 L456.9,159.2 L457.4,159.2 L457.8,159.0 L458.2,159.1 L458.4,158.9" fill="none" stroke="#18e018" stroke-width="1.9" stroke-linejoin="round"/>
<path d="M282.3,159.2 L282.6,149.1 L282.8,152.3 L283.0,159.2 L283.2,159.0 L283.6,158.7 L284.1,157.8 L284.6,158.1 L285.0,157.8 L285.4,158.3 L285.9,157.6 L286.4,157.3 L286.8,156.1 L287.2,156.4 L287.7,156.1 L288.1,156.5 L288.6,156.0 L289.1,156.5 L289.5,155.6 L289.6,155.8 L289.9,155.0 L290.4,155.3 L290.9,154.4 L291.3,155.1 L291.8,154.9 L292.2,155.8 L292.6,154.4 L293.1,154.5 L293.6,152.9 L294.0,152.5 L294.4,152.7 L294.9,154.1 L295.4,154.4 L295.8,154.2 L296.2,153.2 L296.7,153.3 L296.9,152.4 L297.1,152.6 L297.6,152.8 L298.1,153.6 L298.5,153.5 L298.9,154.1 L299.4,149.9 L299.9,152.4 L300.3,151.1 L300.8,151.1 L301.2,150.8 L301.6,151.9 L302.1,151.3 L302.6,151.8 L303.0,148.2 L303.4,150.3 L303.9,148.9 L304.2,148.7 L304.4,148.0 L304.8,150.2 L305.2,150.9 L305.7,150.7 L306.1,149.4 L306.6,148.3 L307.1,147.2 L307.5,148.1 L307.9,144.5 L308.4,148.0 L308.9,147.5 L309.3,147.5 L309.8,146.1 L310.0,146.4 L310.2,145.2 L310.6,142.7 L311.1,145.2 L311.6,148.3 L312.0,146.6 L312.4,145.8 L312.9,144.3 L313.4,144.9 L313.8,145.0 L314.2,144.7 L314.7,142.5 L315.1,142.2 L315.6,142.3 L315.9,143.2 L316.1,142.0 L316.5,142.8 L316.9,142.7 L317.4,142.5 L317.9,139.9 L318.3,138.1 L318.8,139.5 L319.2,140.6 L319.6,139.5 L320.1,139.2 L320.6,136.8 L321.0,137.0 L321.4,134.1 L321.7,135.4 L321.9,135.0 L322.4,136.5 L322.8,136.5 L323.2,137.3 L323.7,133.5 L324.1,131.2 L324.6,131.3 L325.1,133.4 L325.5,132.8 L325.9,131.0 L326.1,129.9 L326.4,128.3 L326.9,128.7 L327.3,128.3 L327.8,128.2 L328.2,129.1 L328.6,129.3 L329.0,129.0 L329.1,127.4 L329.6,126.5 L330.0,125.8 L330.4,128.4 L330.9,129.8 L331.4,129.2 L331.8,126.5 L332.2,127.1 L332.7,128.4 L333.1,129.6 L333.4,129.4 L333.6,131.5 L334.1,128.9 L334.5,128.2 L334.9,124.2 L335.4,126.5 L335.9,126.4 L336.3,127.7 L336.8,127.7 L337.2,128.6 L337.6,126.2 L337.8,126.8 L338.1,124.4 L338.6,123.3 L339.0,123.3 L339.4,124.8 L339.9,124.5 L340.4,126.0 L340.8,123.6 L341.2,122.5 L341.7,121.6 L342.1,123.4 L342.2,122.4 L342.6,124.3 L343.1,122.1 L343.5,121.5 L343.9,123.5 L344.4,127.5 L344.9,126.5 L345.3,126.0 L345.8,123.3 L346.2,122.9 L346.5,123.4 L346.6,124.4 L347.1,124.7 L347.6,126.2 L348.0,126.2 L348.4,126.2 L348.9,124.4 L349.4,124.5 L349.8,124.6 L350.2,126.7 L350.7,127.5 L351.1,127.5 L351.6,124.3 L352.1,123.5 L352.4,121.2 L352.5,123.1 L352.9,124.9 L353.4,128.8 L353.9,129.3 L354.3,129.0 L354.8,127.1 L355.2,128.2 L355.6,129.3 L356.1,131.8 L356.6,132.2 L356.8,132.7 L357.0,131.4 L357.4,130.9 L357.9,129.3 L358.4,129.4 L358.8,134.7 L359.2,137.0 L359.7,134.6 L360.1,134.3 L360.6,132.6 L361.1,134.7 L361.5,135.6 L361.9,137.8 L362.4,138.8 L362.6,138.6 L362.9,137.0 L363.3,137.1 L363.8,135.4 L364.2,137.3 L364.6,138.3 L365.0,140.2 L365.1,139.3 L365.6,139.9 L366.0,138.2 L366.4,138.8 L366.9,139.0 L367.4,141.8 L367.8,141.1 L368.2,141.3 L368.7,139.3 L369.1,140.0 L369.4,139.9 L369.6,141.6 L370.1,141.9 L370.5,144.2 L370.9,143.7 L371.4,141.9 L371.9,144.0 L372.3,145.9 L372.8,146.1 L373.2,147.6 L373.6,147.3 L374.1,147.2 L374.6,146.2 L375.0,148.1 L375.4,149.9 L375.9,150.0 L376.4,148.4 L376.7,149.0 L376.8,149.0 L377.2,150.6 L377.7,150.5 L378.1,150.7 L378.6,149.9 L379.1,150.0 L379.5,149.8 L379.9,150.6 L380.4,151.0 L380.9,151.9 L381.3,151.8 L381.8,151.7 L382.2,150.7 L382.5,150.6 L382.6,149.9 L383.1,151.2 L383.6,151.5 L384.0,152.6 L384.4,153.2 L384.9,153.4 L385.4,152.7 L385.8,153.0 L386.2,153.4 L386.7,154.5 L387.1,154.9 L387.6,155.4 L388.1,155.0 L388.4,155.1 L388.5,154.9 L388.9,155.1 L389.4,154.6 L389.9,155.7 L390.3,156.1 L390.8,157.3 L391.2,157.7 L391.6,157.6 L392.1,157.1 L392.6,157.3 L393.0,157.0 L393.4,158.0 L393.9,158.2 L394.4,158.6 L394.8,158.1 L395.2,157.9 L395.7,157.9 L396.1,158.7 L396.6,158.9 L397.1,159.1 L397.1,159.0 L397.5,158.9 L397.9,158.8 L398.4,159.2 L398.9,159.3 L399.3,159.2 L399.8,158.9 L400.2,159.0 L400.6,159.1 L401.1,159.3 L401.6,159.2 L402.0,159.1 L402.4,158.8 L402.9,159.0 L403.4,159.1 L403.8,159.2 L404.2,159.2 L404.7,159.2 L405.1,159.0 L405.6,159.0 L406.1,158.8 L406.5,159.0 L406.9,159.0 L407.4,159.3 L407.9,159.3 L408.3,159.3 L408.8,159.1 L408.8,159.2 L409.2,159.0 L409.6,159.0 L410.1,159.2 L410.6,159.4 L411.0,159.3 L411.4,159.3 L411.9,159.1 L412.4,159.1 L412.8,159.0 L413.2,159.1 L413.7,159.1 L414.1,159.2 L414.6,159.2 L415.1,159.2 L415.5,159.0 L415.9,159.0 L416.4,159.2 L416.9,159.3 L417.3,159.2 L417.8,159.2 L418.2,159.0 L418.6,159.0 L419.1,159.0 L419.6,159.2 L420.0,159.2 L420.4,159.4 L420.9,159.1 L421.4,159.1 L421.8,159.0 L422.2,159.2 L422.7,159.2 L423.1,159.3 L423.6,159.2 L424.1,159.2 L424.5,159.0 L424.9,159.0 L425.4,159.0 L425.9,159.3 L426.3,159.4 L426.8,159.3 L427.2,159.0 L427.6,158.9 L428.1,158.8 L428.6,159.2 L429.0,159.4 L429.4,159.3 L429.9,158.9 L430.4,158.9 L430.8,159.0 L431.2,159.2 L431.7,159.2 L432.1,159.1 L432.6,158.8 L433.1,159.0 L433.5,159.0 L433.9,159.3 L434.4,159.2 L434.9,159.3 L435.3,159.1 L435.8,159.0 L436.2,158.9 L436.6,159.1 L437.1,159.1 L437.6,159.2 L438.0,158.9 L438.4,158.8 L438.9,158.9 L439.4,159.1 L439.8,159.3 L440.2,159.4 L440.7,159.1 L441.1,159.0 L441.6,158.9 L442.1,159.1 L442.5,159.1 L442.9,159.2 L443.4,159.0 L443.9,159.0 L444.3,159.0 L444.8,159.1 L445.2,159.2 L445.6,159.4 L446.1,159.2 L446.6,159.0 L447.0,158.9 L447.4,159.2 L447.9,159.1 L448.4,159.1 L448.8,159.0 L449.2,158.9 L449.7,158.8 L450.1,159.0 L450.6,159.1 L451.1,159.4 L451.5,159.1 L451.9,159.1 L452.4,158.9 L452.9,159.0 L453.3,159.1 L453.8,159.3 L454.2,159.0 L454.6,159.0 L455.1,159.0 L455.6,159.2 L456.0,159.2 L456.4,159.3 L456.9,159.0 L457.4,159.0 L457.8,159.0 L458.0,159.2" fill="none" stroke="#1e1e1e" stroke-width="0.8"/>
<rect x="492.2" y="32.9" width="177.6" height="126.4" fill="none" stroke="#777" stroke-width="1.3"/>
<line x1="492.2" y1="32.9" x2="492.2" y2="160.3" stroke="#4a4a4a" stroke-width="1.1"/>
<line x1="489.8" y1="159.3" x2="492.5" y2="159.3" stroke="#1a1a1a" stroke-width="1.1"/>
<line x1="490.5" y1="154.2" x2="492.5" y2="154.2" stroke="#1a1a1a" stroke-width="1.1"/>
<line x1="490.5" y1="149.2" x2="492.5" y2="149.2" stroke="#1a1a1a" stroke-width="1.1"/>
<line x1="490.5" y1="144.1" x2="492.5" y2="144.1" stroke="#1a1a1a" stroke-width="1.1"/>
<line x1="490.5" y1="139.1" x2="492.5" y2="139.1" stroke="#1a1a1a" stroke-width="1.1"/>
<line x1="489.8" y1="134.0" x2="492.5" y2="134.0" stroke="#1a1a1a" stroke-width="1.1"/>
<line x1="490.5" y1="129.0" x2="492.5" y2="129.0" stroke="#1a1a1a" stroke-width="1.1"/>
<line x1="490.5" y1="123.9" x2="492.5" y2="123.9" stroke="#1a1a1a" stroke-width="1.1"/>
<line x1="490.5" y1="118.9" x2="492.5" y2="118.9" stroke="#1a1a1a" stroke-width="1.1"/>
<line x1="490.5" y1="113.8" x2="492.5" y2="113.8" stroke="#1a1a1a" stroke-width="1.1"/>
<line x1="489.8" y1="108.7" x2="492.5" y2="108.7" stroke="#1a1a1a" stroke-width="1.1"/>
<line x1="490.5" y1="103.7" x2="492.5" y2="103.7" stroke="#1a1a1a" stroke-width="1.1"/>
<line x1="490.5" y1="98.6" x2="492.5" y2="98.6" stroke="#1a1a1a" stroke-width="1.1"/>
<line x1="490.5" y1="93.6" x2="492.5" y2="93.6" stroke="#1a1a1a" stroke-width="1.1"/>
<line x1="490.5" y1="88.5" x2="492.5" y2="88.5" stroke="#1a1a1a" stroke-width="1.1"/>
<line x1="489.8" y1="83.5" x2="492.5" y2="83.5" stroke="#1a1a1a" stroke-width="1.1"/>
<line x1="490.5" y1="78.4" x2="492.5" y2="78.4" stroke="#1a1a1a" stroke-width="1.1"/>
<line x1="490.5" y1="73.3" x2="492.5" y2="73.3" stroke="#1a1a1a" stroke-width="1.1"/>
<line x1="490.5" y1="68.3" x2="492.5" y2="68.3" stroke="#1a1a1a" stroke-width="1.1"/>
<line x1="490.5" y1="63.2" x2="492.5" y2="63.2" stroke="#1a1a1a" stroke-width="1.1"/>
<line x1="489.8" y1="58.2" x2="492.5" y2="58.2" stroke="#1a1a1a" stroke-width="1.1"/>
<line x1="490.5" y1="53.1" x2="492.5" y2="53.1" stroke="#1a1a1a" stroke-width="1.1"/>
<line x1="490.5" y1="48.1" x2="492.5" y2="48.1" stroke="#1a1a1a" stroke-width="1.1"/>
<line x1="490.5" y1="43.0" x2="492.5" y2="43.0" stroke="#1a1a1a" stroke-width="1.1"/>
<line x1="490.5" y1="38.0" x2="492.5" y2="38.0" stroke="#1a1a1a" stroke-width="1.1"/>
<line x1="489.8" y1="32.9" x2="492.5" y2="32.9" stroke="#1a1a1a" stroke-width="1.1"/>
<text x="0" y="0" transform="translate(487.3 159.3) rotate(-90) scale(0.76 1)" text-anchor="middle" font-size="6.6" fill="#2a2a2a" font-family="Liberation Sans">0</text>
<text x="0" y="0" transform="translate(487.3 134.0) rotate(-90) scale(0.76 1)" text-anchor="middle" font-size="6.6" fill="#2a2a2a" font-family="Liberation Sans">40</text>
<text x="0" y="0" transform="translate(487.3 108.7) rotate(-90) scale(0.76 1)" text-anchor="middle" font-size="6.6" fill="#2a2a2a" font-family="Liberation Sans">80</text>
<text x="0" y="0" transform="translate(487.3 83.5) rotate(-90) scale(0.76 1)" text-anchor="middle" font-size="6.6" fill="#2a2a2a" font-family="Liberation Sans">120</text>
<text x="0" y="0" transform="translate(487.3 58.2) rotate(-90) scale(0.76 1)" text-anchor="middle" font-size="6.6" fill="#2a2a2a" font-family="Liberation Sans">160</text>
<text x="0" y="0" transform="translate(487.3 32.9) rotate(-90) scale(0.76 1)" text-anchor="middle" font-size="6.6" fill="#2a2a2a" font-family="Liberation Sans">200</text>
<line x1="492.2" y1="159.3" x2="492.2" y2="162.3" stroke="#333" stroke-width="1"/>
<text x="488.0" y="167.7" font-size="5.4" font-weight="bold" fill="#3a3a3a" font-family="Liberation Sans">10<tspan dx="0.3" dy="-2.1" font-size="5.1">0</tspan></text>
<line x1="505.6" y1="159.3" x2="505.6" y2="161.10000000000002" stroke="#555" stroke-width="0.8"/>
<line x1="513.4" y1="159.3" x2="513.4" y2="161.10000000000002" stroke="#555" stroke-width="0.8"/>
<line x1="518.9" y1="159.3" x2="518.9" y2="161.10000000000002" stroke="#555" stroke-width="0.8"/>
<line x1="523.2" y1="159.3" x2="523.2" y2="161.10000000000002" stroke="#555" stroke-width="0.8"/>
<line x1="526.7" y1="159.3" x2="526.7" y2="161.10000000000002" stroke="#555" stroke-width="0.8"/>
<line x1="529.7" y1="159.3" x2="529.7" y2="161.10000000000002" stroke="#555" stroke-width="0.8"/>
<line x1="532.3" y1="159.3" x2="532.3" y2="161.10000000000002" stroke="#555" stroke-width="0.8"/>
<line x1="534.6" y1="159.3" x2="534.6" y2="161.10000000000002" stroke="#555" stroke-width="0.8"/>
<line x1="536.6" y1="159.3" x2="536.6" y2="162.3" stroke="#333" stroke-width="1"/>
<text x="532.4" y="167.7" font-size="5.4" font-weight="bold" fill="#3a3a3a" font-family="Liberation Sans">10<tspan dx="0.3" dy="-2.1" font-size="5.1">1</tspan></text>
<line x1="550.0" y1="159.3" x2="550.0" y2="161.10000000000002" stroke="#555" stroke-width="0.8"/>
<line x1="557.8" y1="159.3" x2="557.8" y2="161.10000000000002" stroke="#555" stroke-width="0.8"/>
<line x1="563.3" y1="159.3" x2="563.3" y2="161.10000000000002" stroke="#555" stroke-width="0.8"/>
<line x1="567.6" y1="159.3" x2="567.6" y2="161.10000000000002" stroke="#555" stroke-width="0.8"/>
<line x1="571.1" y1="159.3" x2="571.1" y2="161.10000000000002" stroke="#555" stroke-width="0.8"/>
<line x1="574.1" y1="159.3" x2="574.1" y2="161.10000000000002" stroke="#555" stroke-width="0.8"/>
<line x1="576.7" y1="159.3" x2="576.7" y2="161.10000000000002" stroke="#555" stroke-width="0.8"/>
<line x1="579.0" y1="159.3" x2="579.0" y2="161.10000000000002" stroke="#555" stroke-width="0.8"/>
<line x1="581.0" y1="159.3" x2="581.0" y2="162.3" stroke="#333" stroke-width="1"/>
<text x="576.8" y="167.7" font-size="5.4" font-weight="bold" fill="#3a3a3a" font-family="Liberation Sans">10<tspan dx="0.3" dy="-2.1" font-size="5.1">2</tspan></text>
<line x1="594.4" y1="159.3" x2="594.4" y2="161.10000000000002" stroke="#555" stroke-width="0.8"/>
<line x1="602.2" y1="159.3" x2="602.2" y2="161.10000000000002" stroke="#555" stroke-width="0.8"/>
<line x1="607.7" y1="159.3" x2="607.7" y2="161.10000000000002" stroke="#555" stroke-width="0.8"/>
<line x1="612.0" y1="159.3" x2="612.0" y2="161.10000000000002" stroke="#555" stroke-width="0.8"/>
<line x1="615.5" y1="159.3" x2="615.5" y2="161.10000000000002" stroke="#555" stroke-width="0.8"/>
<line x1="618.5" y1="159.3" x2="618.5" y2="161.10000000000002" stroke="#555" stroke-width="0.8"/>
<line x1="621.1" y1="159.3" x2="621.1" y2="161.10000000000002" stroke="#555" stroke-width="0.8"/>
<line x1="623.4" y1="159.3" x2="623.4" y2="161.10000000000002" stroke="#555" stroke-width="0.8"/>
<line x1="625.4" y1="159.3" x2="625.4" y2="162.3" stroke="#333" stroke-width="1"/>
<text x="621.2" y="167.7" font-size="5.4" font-weight="bold" fill="#3a3a3a" font-family="Liberation Sans">10<tspan dx="0.3" dy="-2.1" font-size="5.1">3</tspan></text>
<line x1="638.8" y1="159.3" x2="638.8" y2="161.10000000000002" stroke="#555" stroke-width="0.8"/>
<line x1="646.6" y1="159.3" x2="646.6" y2="161.10000000000002" stroke="#555" stroke-width="0.8"/>
<line x1="652.1" y1="159.3" x2="652.1" y2="161.10000000000002" stroke="#555" stroke-width="0.8"/>
<line x1="656.4" y1="159.3" x2="656.4" y2="161.10000000000002" stroke="#555" stroke-width="0.8"/>
<line x1="659.9" y1="159.3" x2="659.9" y2="161.10000000000002" stroke="#555" stroke-width="0.8"/>
<line x1="662.9" y1="159.3" x2="662.9" y2="161.10000000000002" stroke="#555" stroke-width="0.8"/>
<line x1="665.5" y1="159.3" x2="665.5" y2="161.10000000000002" stroke="#555" stroke-width="0.8"/>
<line x1="667.8" y1="159.3" x2="667.8" y2="161.10000000000002" stroke="#555" stroke-width="0.8"/>
<line x1="669.8" y1="159.3" x2="669.8" y2="162.3" stroke="#333" stroke-width="1"/>
<text x="665.6" y="167.7" font-size="5.4" font-weight="bold" fill="#3a3a3a" font-family="Liberation Sans">10<tspan dx="0.3" dy="-2.1" font-size="5.1">4</tspan></text>
<line x1="572.7" y1="168.9" x2="576.6" y2="168.9" stroke="#555" stroke-width="0.9"/>
<rect x="580.2" y="168.4" width="1" height="1" fill="#666"/>
<rect x="584.1" y="168.4" width="1" height="1" fill="#666"/>
<rect x="587.0" y="168.4" width="1" height="1" fill="#666"/>
<path d="M492.3,158.7 L492.8,159.0 L493.2,158.8 L493.6,158.8 L494.1,158.6 L494.6,158.9 L495.0,158.8 L495.4,159.0 L495.9,158.9 L496.4,158.9 L496.8,158.5 L497.2,158.7 L497.7,158.5 L498.1,158.9 L498.6,158.8 L499.1,158.9 L499.5,158.6 L499.9,158.7 L500.4,158.6 L500.9,158.9 L501.3,158.8 L501.8,159.1 L502.2,158.9 L502.6,158.9 L503.1,158.6 L503.6,158.9 L504.0,158.7 L504.4,158.9 L504.9,158.7 L505.4,158.9 L505.8,158.7 L506.2,158.7 L506.7,158.5 L507.1,158.9 L507.6,158.7 L508.1,159.0 L508.5,158.7 L508.9,158.9 L509.4,158.6 L509.9,158.9 L510.3,158.7 L510.8,159.0 L511.2,158.8 L511.6,159.0 L512.1,158.7 L512.5,158.8 L513.0,158.5 L513.5,158.8 L513.9,158.7 L514.4,159.1 L514.8,158.7 L515.2,158.8 L515.7,158.7 L516.1,159.0 L516.6,158.8 L517.0,159.0 L517.5,158.8 L518.0,158.9 L518.4,158.6 L518.9,158.7 L519.3,158.7 L519.8,159.0 L520.2,158.9 L520.6,159.0 L521.1,158.8 L521.5,158.8 L522.0,158.7 L522.5,158.9 L522.9,158.9 L523.4,159.1 L523.8,158.7 L524.2,158.9 L524.7,158.5 L525.1,159.0 L525.6,158.9 L526.0,159.2 L526.5,158.8 L527.0,159.0 L527.4,158.7 L527.9,158.8 L528.3,158.5 L528.8,159.0 L529.2,158.7 L529.6,159.1 L530.1,158.8 L530.5,159.0 L531.0,158.7 L531.5,158.9 L531.9,158.7 L532.4,159.0 L532.8,158.7 L533.2,159.1 L533.7,158.8 L534.1,158.9 L534.6,158.6 L535.0,158.8 L535.5,158.6 L536.0,158.9 L536.4,158.9 L536.9,159.1 L537.3,158.7 L537.8,158.8 L538.2,158.7 L538.6,158.7 L539.1,158.5 L539.5,158.9 L540.0,158.8 L540.5,159.1 L540.9,158.7 L541.4,158.9 L541.8,158.5 L542.2,158.8 L542.7,158.6 L543.1,159.0 L543.4,158.8 L543.6,159.0 L544.0,158.6 L544.5,158.8 L545.0,157.6 L545.4,158.5 L545.9,157.9 L546.3,158.6 L546.8,157.5 L547.2,158.4 L547.6,157.0 L548.1,157.4 L548.5,156.4 L549.0,157.1 L549.5,156.1 L549.9,157.4 L550.4,155.9 L550.7,156.4 L550.8,155.8 L551.2,155.9 L551.7,154.7 L552.1,155.3 L552.6,154.4 L553.0,155.4 L553.5,153.1 L554.0,153.9 L554.4,152.0 L554.9,153.1 L555.3,151.6 L555.8,153.0 L556.2,151.3 L556.6,151.1 L557.1,149.5 L557.5,151.3 L558.0,149.8 L558.5,150.1 L558.9,147.8 L559.4,149.9 L559.8,149.6 L560.2,151.3 L560.7,148.7 L561.1,148.9 L561.6,147.0 L562.0,148.5 L562.5,147.6 L563.0,148.8 L563.4,147.4 L563.8,148.6 L563.9,146.0 L564.3,147.5 L564.8,145.0 L565.2,147.2 L565.6,143.0 L566.1,146.0 L566.5,144.8 L567.0,145.2 L567.5,142.3 L567.9,142.4 L568.4,141.7 L568.8,143.4 L569.2,138.8 L569.7,142.6 L570.1,141.1 L570.6,141.6 L571.0,139.3 L571.5,141.6 L572.0,141.1 L572.4,142.6 L572.9,138.5 L573.3,139.5 L573.8,137.0 L574.2,139.1 L574.6,138.2 L575.1,141.6 L575.5,139.6 L575.5,142.2 L576.0,139.2 L576.5,138.8 L576.9,137.1 L577.4,138.6 L577.8,137.7 L578.2,138.4 L578.7,136.5 L579.1,137.6 L579.4,134.2 L579.6,137.0 L580.0,133.1 L580.5,136.4 L581.0,133.6 L581.4,136.0 L581.9,135.7 L582.3,136.1 L582.8,133.2 L583.2,132.2 L583.6,129.5 L583.8,130.9 L584.1,129.2 L584.5,132.4 L585.0,132.8 L585.5,136.5 L585.9,132.2 L586.4,133.6 L586.8,131.4 L587.2,133.5 L587.7,132.0 L588.1,135.5 L588.1,133.2 L588.6,135.3 L589.0,131.5 L589.5,131.3 L590.0,128.3 L590.4,131.7 L590.9,127.9 L591.3,130.6 L591.8,127.6 L592.2,128.7 L592.6,124.6 L593.1,126.6 L593.5,124.4 L594.0,122.1 L594.5,126.5 L594.9,128.3 L595.4,124.8 L595.8,128.2 L596.2,123.9 L596.7,127.8 L597.1,128.8 L597.6,130.4 L598.0,129.3 L598.4,129.3 L598.5,128.2 L599.0,126.5 L599.4,127.7 L599.9,130.9 L600.3,130.3 L600.8,132.6 L601.2,129.6 L601.6,130.6 L602.1,130.3 L602.5,133.9 L603.0,133.9 L603.5,135.9 L603.9,132.6 L604.2,134.6 L604.4,131.3 L604.8,133.1 L605.2,132.9 L605.7,137.7 L606.1,132.2 L606.6,136.2 L607.0,132.3 L607.5,135.2 L608.0,134.0 L608.4,139.2 L608.6,136.3 L608.9,138.3 L609.3,135.2 L609.8,138.0 L610.2,136.3 L610.6,138.7 L611.1,138.6 L611.5,141.2 L612.0,138.8 L612.5,141.4 L612.9,138.6 L613.0,140.0 L613.4,137.8 L613.8,139.8 L614.2,137.8 L614.7,141.6 L615.1,140.6 L615.6,142.2 L616.0,138.1 L616.5,139.8 L617.0,137.1 L617.4,140.6 L617.9,137.3 L618.3,140.9 L618.8,137.7 L618.8,140.3 L619.2,136.7 L619.6,138.5 L620.1,137.2 L620.5,139.1 L621.0,138.7 L621.5,140.5 L621.9,137.6 L622.4,139.5 L622.8,137.8 L623.2,139.2 L623.7,138.3 L624.1,140.5 L624.6,138.5 L625.0,140.3 L625.5,136.1 L626.0,137.1 L626.4,134.5 L626.9,136.7 L627.3,135.7 L627.8,138.4 L628.2,133.7 L628.6,135.1 L629.1,132.0 L629.5,133.7 L630.0,134.2 L630.5,134.8 L630.9,130.6 L631.0,133.0 L631.4,133.2 L631.8,138.8 L631.9,136.7 L632.2,138.8 L632.7,138.8 L633.1,140.9 L633.6,137.0 L634.0,139.6 L634.5,137.6 L635.0,140.1 L635.4,140.2 L635.9,140.9 L636.3,139.1 L636.8,141.1 L637.2,138.6 L637.6,142.9 L638.1,144.1 L638.5,145.1 L639.0,144.7 L639.5,145.6 L639.9,144.5 L640.4,147.6 L640.7,146.2 L640.8,148.2 L641.2,148.3 L641.7,149.8 L642.1,149.2 L642.6,151.2 L643.0,150.3 L643.5,151.8 L644.0,150.8 L644.4,152.5 L644.9,151.3 L645.3,153.8 L645.8,153.8 L646.2,154.7 L646.5,153.6 L646.6,154.3 L647.1,153.4 L647.5,154.7 L648.0,154.6 L648.5,155.6 L648.9,154.8 L649.4,156.3 L649.8,155.1 L650.2,156.0 L650.7,154.9 L651.1,156.6 L651.6,156.7 L652.0,158.0 L652.4,157.3 L652.5,158.1 L653.0,157.2 L653.4,157.2 L653.9,156.9 L654.3,157.8 L654.8,157.1 L655.2,158.8 L655.6,157.8 L656.1,158.4 L656.5,157.7 L657.0,157.8 L657.5,157.3 L657.9,158.0 L658.4,158.0 L658.8,159.0 L659.2,158.2 L659.7,158.5 L660.1,158.2 L660.6,158.6 L661.0,158.6 L661.5,159.0 L662.0,158.8 L662.4,159.0 L662.6,158.8 L662.9,158.8 L663.3,158.5 L663.8,158.8 L664.2,158.6 L664.6,158.9 L665.1,158.7 L665.5,159.0 L666.0,158.7 L666.5,158.8 L666.9,158.8 L667.4,159.1 L667.8,158.8 L668.2,158.8 L668.7,158.6 L669.1,158.7 L669.5,158.7" fill="none" stroke="#18e018" stroke-width="1.9" stroke-linejoin="round"/>
<path d="M492.5,159.1 L492.6,155.5 L492.9,156.1 L493.4,157.4 L493.8,158.7 L493.9,158.7 L494.3,158.5 L494.8,158.5 L495.2,158.7 L495.6,158.5 L496.1,157.5 L496.6,157.7 L497.0,157.8 L497.4,158.6 L497.9,157.7 L498.4,157.0 L498.8,155.8 L499.2,156.9 L499.6,157.1 L499.7,157.7 L500.1,156.8 L500.6,156.2 L501.1,156.4 L501.5,157.2 L501.9,156.5 L502.4,156.3 L502.9,154.9 L503.3,154.7 L503.8,154.8 L504.2,155.4 L504.6,155.5 L505.1,156.5 L505.6,154.8 L506.0,153.9 L506.4,152.6 L506.9,153.9 L507.4,154.4 L507.8,154.6 L508.2,153.6 L508.7,153.3 L509.1,151.9 L509.6,152.8 L510.1,152.9 L510.5,153.6 L510.9,153.4 L511.4,152.5 L511.9,150.8 L512.3,148.3 L512.8,152.6 L513.2,152.2 L513.6,150.9 L514.1,151.0 L514.2,150.4 L514.5,151.3 L515.0,151.4 L515.5,152.0 L515.9,151.8 L516.4,151.3 L516.8,150.4 L517.2,150.0 L517.7,149.0 L518.1,149.8 L518.6,149.4 L519.0,149.5 L519.5,146.7 L520.0,147.3 L520.0,146.7 L520.4,147.6 L520.9,148.0 L521.3,149.7 L521.8,148.7 L522.2,147.7 L522.6,146.8 L523.1,148.2 L523.5,148.9 L524.0,148.3 L524.5,146.4 L524.9,145.4 L525.4,143.6 L525.8,144.8 L526.2,145.0 L526.7,146.1 L527.1,145.2 L527.3,145.2 L527.6,143.6 L528.0,142.0 L528.5,142.8 L529.0,144.8 L529.4,143.3 L529.9,142.3 L530.3,140.6 L530.8,140.5 L531.2,140.1 L531.6,140.9 L532.1,140.0 L532.5,140.6 L533.0,139.0 L533.2,139.7 L533.5,138.5 L533.9,135.2 L534.4,137.2 L534.8,138.0 L535.2,137.8 L535.7,138.0 L536.1,138.0 L536.6,136.6 L537.0,133.8 L537.5,133.9 L538.0,133.9 L538.4,136.2 L538.9,135.9 L539.0,136.0 L539.3,133.3 L539.8,132.4 L540.2,130.8 L540.6,132.5 L541.1,132.2 L541.5,133.1 L542.0,131.4 L542.5,130.7 L542.9,127.7 L543.4,128.7 L543.4,127.6 L543.8,128.9 L544.2,128.5 L544.7,130.0 L545.1,127.1 L545.6,126.7 L546.0,123.4 L546.5,122.8 L547.0,123.4 L547.4,125.2 L547.8,122.8 L547.9,123.8 L548.3,122.7 L548.8,122.4 L549.2,121.5 L549.6,123.5 L550.1,124.6 L550.5,127.6 L551.0,125.8 L551.5,125.9 L551.9,124.1 L552.2,124.7 L552.4,123.5 L552.8,125.8 L553.2,125.7 L553.7,128.0 L554.1,127.5 L554.6,125.1 L555.0,121.5 L555.5,122.1 L556.0,122.4 L556.4,125.3 L556.9,124.5 L557.3,122.5 L557.8,121.6 L558.0,123.2 L558.2,122.7 L558.6,126.2 L559.1,127.4 L559.5,128.1 L560.0,127.0 L560.5,126.8 L560.9,128.3 L561.4,131.5 L561.8,130.1 L562.2,130.0 L562.4,128.7 L562.7,128.8 L563.1,127.6 L563.6,130.8 L564.0,131.7 L564.5,135.3 L565.0,134.2 L565.4,134.5 L565.9,133.5 L566.3,133.5 L566.8,133.3 L567.2,135.2 L567.6,135.4 L568.1,137.6 L568.2,136.8 L568.5,137.9 L569.0,134.9 L569.5,133.9 L569.9,131.6 L570.4,134.1 L570.8,134.8 L571.2,136.1 L571.7,133.9 L572.1,133.8 L572.6,131.1 L573.0,132.3 L573.5,132.3 L574.0,135.5 L574.4,131.7 L574.9,138.7 L575.3,135.7 L575.8,135.6 L576.2,136.2 L576.6,138.4 L577.0,138.2 L577.1,140.0 L577.5,140.4 L578.0,140.9 L578.5,139.9 L578.9,140.3 L579.4,140.5 L579.4,141.6 L579.8,141.7 L580.2,143.6 L580.7,142.0 L581.1,142.4 L581.6,141.0 L582.0,142.2 L582.5,141.8 L583.0,143.7 L583.4,143.2 L583.8,144.7 L583.9,144.1 L584.3,143.9 L584.8,142.0 L585.2,141.3 L585.6,140.4 L586.1,141.7 L586.5,142.0 L587.0,143.6 L587.5,143.2 L587.9,142.3 L588.1,140.8 L588.4,141.0 L588.8,139.7 L589.2,140.0 L589.7,141.5 L590.1,144.0 L590.6,140.0 L591.0,145.1 L591.5,144.1 L592.0,144.1 L592.4,142.8 L592.5,143.9 L592.9,144.1 L593.3,146.5 L593.8,146.5 L594.2,146.4 L594.6,145.2 L595.1,145.7 L595.5,146.4 L596.0,147.8 L596.5,148.2 L596.9,149.1 L597.4,148.1 L597.8,148.4 L598.2,148.2 L598.7,148.9 L599.1,150.0 L599.6,152.2 L600.0,152.0 L600.5,152.5 L601.0,151.9 L601.3,152.4 L601.4,152.0 L601.9,152.1 L602.3,152.6 L602.8,153.9 L603.2,154.6 L603.6,155.2 L604.1,154.5 L604.5,154.5 L605.0,154.3 L605.5,155.7 L605.9,156.0 L606.4,156.1 L606.8,155.6 L607.2,155.6 L607.7,155.0 L608.1,156.4 L608.6,157.2 L609.0,157.8 L609.5,156.8 L610.0,156.9 L610.4,156.6 L610.9,157.3 L611.3,157.5 L611.8,157.5 L612.2,156.4 L612.6,156.9 L613.1,157.2 L613.5,158.3 L614.0,158.2 L614.5,158.3 L614.9,157.9 L615.4,157.8 L615.8,157.4 L616.2,158.6 L616.7,158.9 L617.1,158.6 L617.6,158.5 L618.0,158.6 L618.5,158.7 L618.8,158.9 L619.0,158.9 L619.4,159.1 L619.9,158.9 L620.3,158.9 L620.8,158.7 L621.2,158.8 L621.6,158.8 L622.1,159.0 L622.5,159.0 L623.0,158.9 L623.5,158.6 L623.9,158.9 L624.4,158.8 L624.8,159.1 L625.2,159.1 L625.7,159.0 L626.1,158.8 L626.6,158.8 L627.0,158.6 L627.5,158.8 L628.0,158.8 L628.4,159.0 L628.9,158.9 L629.3,158.9 L629.8,158.7 L630.2,158.6 L630.6,158.6 L631.1,158.9 L631.5,158.8 L632.0,158.7 L632.5,158.5 L632.9,158.8 L633.4,159.0 L633.8,159.0 L634.2,158.7 L634.7,158.7 L635.1,158.7 L635.6,159.0 L636.0,159.1 L636.5,159.0 L637.0,158.8 L637.4,158.7 L637.9,158.6 L638.3,158.9 L638.8,159.0 L639.2,159.0 L639.6,158.7 L640.1,158.7 L640.5,158.8 L641.0,159.0 L641.5,159.0 L641.9,159.0 L642.4,158.8 L642.8,158.7 L643.2,158.4 L643.7,158.7 L644.1,158.7 L644.6,159.0 L645.0,159.0 L645.5,158.9 L646.0,158.8 L646.4,158.8 L646.9,158.7 L647.3,158.9 L647.8,158.9 L648.2,159.0 L648.6,158.8 L649.1,158.5 L649.5,158.7 L650.0,159.0 L650.5,158.7 L650.9,158.7 L651.4,158.5 L651.8,158.7 L652.2,158.8 L652.7,159.0 L653.1,159.0 L653.6,158.9 L654.0,158.7 L654.5,158.7 L655.0,158.7 L655.4,158.9 L655.9,158.8 L656.3,158.9 L656.8,158.5 L657.2,158.6 L657.6,158.6 L658.1,158.9 L658.5,159.0 L659.0,158.9 L659.5,158.7 L659.9,158.6 L660.4,158.6 L660.8,158.8 L661.2,158.9 L661.7,159.1 L662.1,158.9 L662.6,158.8 L663.0,158.6 L663.5,158.7 L664.0,158.8 L664.4,159.0 L664.9,159.1 L665.3,159.1 L665.8,158.8 L666.2,158.7 L666.6,158.7 L667.1,159.0 L667.5,158.9 L668.0,158.9 L668.5,158.5 L668.9,158.7 L669.4,158.8 L669.5,159.1" fill="none" stroke="#1e1e1e" stroke-width="0.8"/>
<rect x="71.5" y="200.5" width="177.2" height="126.0" fill="none" stroke="#777" stroke-width="1.3"/>
<line x1="71.5" y1="200.5" x2="71.5" y2="327.5" stroke="#4a4a4a" stroke-width="1.1"/>
<line x1="69.1" y1="326.5" x2="71.8" y2="326.5" stroke="#1a1a1a" stroke-width="1.1"/>
<line x1="69.8" y1="321.5" x2="71.8" y2="321.5" stroke="#1a1a1a" stroke-width="1.1"/>
<line x1="69.8" y1="316.4" x2="71.8" y2="316.4" stroke="#1a1a1a" stroke-width="1.1"/>
<line x1="69.8" y1="311.4" x2="71.8" y2="311.4" stroke="#1a1a1a" stroke-width="1.1"/>
<line x1="69.8" y1="306.3" x2="71.8" y2="306.3" stroke="#1a1a1a" stroke-width="1.1"/>
<line x1="69.1" y1="301.3" x2="71.8" y2="301.3" stroke="#1a1a1a" stroke-width="1.1"/>
<line x1="69.8" y1="296.3" x2="71.8" y2="296.3" stroke="#1a1a1a" stroke-width="1.1"/>
<line x1="69.8" y1="291.2" x2="71.8" y2="291.2" stroke="#1a1a1a" stroke-width="1.1"/>
<line x1="69.8" y1="286.2" x2="71.8" y2="286.2" stroke="#1a1a1a" stroke-width="1.1"/>
<line x1="69.8" y1="281.1" x2="71.8" y2="281.1" stroke="#1a1a1a" stroke-width="1.1"/>
<line x1="69.1" y1="276.1" x2="71.8" y2="276.1" stroke="#1a1a1a" stroke-width="1.1"/>
<line x1="69.8" y1="271.1" x2="71.8" y2="271.1" stroke="#1a1a1a" stroke-width="1.1"/>
<line x1="69.8" y1="266.0" x2="71.8" y2="266.0" stroke="#1a1a1a" stroke-width="1.1"/>
<line x1="69.8" y1="261.0" x2="71.8" y2="261.0" stroke="#1a1a1a" stroke-width="1.1"/>
<line x1="69.8" y1="255.9" x2="71.8" y2="255.9" stroke="#1a1a1a" stroke-width="1.1"/>
<line x1="69.1" y1="250.9" x2="71.8" y2="250.9" stroke="#1a1a1a" stroke-width="1.1"/>
<line x1="69.8" y1="245.9" x2="71.8" y2="245.9" stroke="#1a1a1a" stroke-width="1.1"/>
<line x1="69.8" y1="240.8" x2="71.8" y2="240.8" stroke="#1a1a1a" stroke-width="1.1"/>
<line x1="69.8" y1="235.8" x2="71.8" y2="235.8" stroke="#1a1a1a" stroke-width="1.1"/>
<line x1="69.8" y1="230.7" x2="71.8" y2="230.7" stroke="#1a1a1a" stroke-width="1.1"/>
<line x1="69.1" y1="225.7" x2="71.8" y2="225.7" stroke="#1a1a1a" stroke-width="1.1"/>
<line x1="69.8" y1="220.7" x2="71.8" y2="220.7" stroke="#1a1a1a" stroke-width="1.1"/>
<line x1="69.8" y1="215.6" x2="71.8" y2="215.6" stroke="#1a1a1a" stroke-width="1.1"/>
<line x1="69.8" y1="210.6" x2="71.8" y2="210.6" stroke="#1a1a1a" stroke-width="1.1"/>
<line x1="69.8" y1="205.5" x2="71.8" y2="205.5" stroke="#1a1a1a" stroke-width="1.1"/>
<line x1="69.1" y1="200.5" x2="71.8" y2="200.5" stroke="#1a1a1a" stroke-width="1.1"/>
<text x="0" y="0" transform="translate(66.6 326.5) rotate(-90) scale(0.76 1)" text-anchor="middle" font-size="6.6" fill="#2a2a2a" font-family="Liberation Sans">0</text>
<text x="0" y="0" transform="translate(66.6 301.3) rotate(-90) scale(0.76 1)" text-anchor="middle" font-size="6.6" fill="#2a2a2a" font-family="Liberation Sans">40</text>
<text x="0" y="0" transform="translate(66.6 276.1) rotate(-90) scale(0.76 1)" text-anchor="middle" font-size="6.6" fill="#2a2a2a" font-family="Liberation Sans">80</text>
<text x="0" y="0" transform="translate(66.6 250.9) rotate(-90) scale(0.76 1)" text-anchor="middle" font-size="6.6" fill="#2a2a2a" font-family="Liberation Sans">120</text>
<text x="0" y="0" transform="translate(66.6 225.7) rotate(-90) scale(0.76 1)" text-anchor="middle" font-size="6.6" fill="#2a2a2a" font-family="Liberation Sans">160</text>
<text x="0" y="0" transform="translate(66.6 200.5) rotate(-90) scale(0.76 1)" text-anchor="middle" font-size="6.6" fill="#2a2a2a" font-family="Liberation Sans">200</text>
<line x1="71.5" y1="326.5" x2="71.5" y2="329.5" stroke="#333" stroke-width="1"/>
<text x="67.3" y="334.9" font-size="5.4" font-weight="bold" fill="#3a3a3a" font-family="Liberation Sans">10<tspan dx="0.3" dy="-2.1" font-size="5.1">0</tspan></text>
<line x1="84.8" y1="326.5" x2="84.8" y2="328.3" stroke="#555" stroke-width="0.8"/>
<line x1="92.6" y1="326.5" x2="92.6" y2="328.3" stroke="#555" stroke-width="0.8"/>
<line x1="98.2" y1="326.5" x2="98.2" y2="328.3" stroke="#555" stroke-width="0.8"/>
<line x1="102.5" y1="326.5" x2="102.5" y2="328.3" stroke="#555" stroke-width="0.8"/>
<line x1="106.0" y1="326.5" x2="106.0" y2="328.3" stroke="#555" stroke-width="0.8"/>
<line x1="108.9" y1="326.5" x2="108.9" y2="328.3" stroke="#555" stroke-width="0.8"/>
<line x1="111.5" y1="326.5" x2="111.5" y2="328.3" stroke="#555" stroke-width="0.8"/>
<line x1="113.8" y1="326.5" x2="113.8" y2="328.3" stroke="#555" stroke-width="0.8"/>
<line x1="115.8" y1="326.5" x2="115.8" y2="329.5" stroke="#333" stroke-width="1"/>
<text x="111.6" y="334.9" font-size="5.4" font-weight="bold" fill="#3a3a3a" font-family="Liberation Sans">10<tspan dx="0.3" dy="-2.1" font-size="5.1">1</tspan></text>
<line x1="129.1" y1="326.5" x2="129.1" y2="328.3" stroke="#555" stroke-width="0.8"/>
<line x1="136.9" y1="326.5" x2="136.9" y2="328.3" stroke="#555" stroke-width="0.8"/>
<line x1="142.5" y1="326.5" x2="142.5" y2="328.3" stroke="#555" stroke-width="0.8"/>
<line x1="146.8" y1="326.5" x2="146.8" y2="328.3" stroke="#555" stroke-width="0.8"/>
<line x1="150.3" y1="326.5" x2="150.3" y2="328.3" stroke="#555" stroke-width="0.8"/>
<line x1="153.2" y1="326.5" x2="153.2" y2="328.3" stroke="#555" stroke-width="0.8"/>
<line x1="155.8" y1="326.5" x2="155.8" y2="328.3" stroke="#555" stroke-width="0.8"/>
<line x1="158.1" y1="326.5" x2="158.1" y2="328.3" stroke="#555" stroke-width="0.8"/>
<line x1="160.1" y1="326.5" x2="160.1" y2="329.5" stroke="#333" stroke-width="1"/>
<text x="155.9" y="334.9" font-size="5.4" font-weight="bold" fill="#3a3a3a" font-family="Liberation Sans">10<tspan dx="0.3" dy="-2.1" font-size="5.1">2</tspan></text>
<line x1="173.4" y1="326.5" x2="173.4" y2="328.3" stroke="#555" stroke-width="0.8"/>
<line x1="181.2" y1="326.5" x2="181.2" y2="328.3" stroke="#555" stroke-width="0.8"/>
<line x1="186.8" y1="326.5" x2="186.8" y2="328.3" stroke="#555" stroke-width="0.8"/>
<line x1="191.1" y1="326.5" x2="191.1" y2="328.3" stroke="#555" stroke-width="0.8"/>
<line x1="194.6" y1="326.5" x2="194.6" y2="328.3" stroke="#555" stroke-width="0.8"/>
<line x1="197.5" y1="326.5" x2="197.5" y2="328.3" stroke="#555" stroke-width="0.8"/>
<line x1="200.1" y1="326.5" x2="200.1" y2="328.3" stroke="#555" stroke-width="0.8"/>
<line x1="202.4" y1="326.5" x2="202.4" y2="328.3" stroke="#555" stroke-width="0.8"/>
<line x1="204.4" y1="326.5" x2="204.4" y2="329.5" stroke="#333" stroke-width="1"/>
<text x="200.2" y="334.9" font-size="5.4" font-weight="bold" fill="#3a3a3a" font-family="Liberation Sans">10<tspan dx="0.3" dy="-2.1" font-size="5.1">3</tspan></text>
<line x1="217.7" y1="326.5" x2="217.7" y2="328.3" stroke="#555" stroke-width="0.8"/>
<line x1="225.5" y1="326.5" x2="225.5" y2="328.3" stroke="#555" stroke-width="0.8"/>
<line x1="231.1" y1="326.5" x2="231.1" y2="328.3" stroke="#555" stroke-width="0.8"/>
<line x1="235.4" y1="326.5" x2="235.4" y2="328.3" stroke="#555" stroke-width="0.8"/>
<line x1="238.9" y1="326.5" x2="238.9" y2="328.3" stroke="#555" stroke-width="0.8"/>
<line x1="241.8" y1="326.5" x2="241.8" y2="328.3" stroke="#555" stroke-width="0.8"/>
<line x1="244.4" y1="326.5" x2="244.4" y2="328.3" stroke="#555" stroke-width="0.8"/>
<line x1="246.7" y1="326.5" x2="246.7" y2="328.3" stroke="#555" stroke-width="0.8"/>
<line x1="248.7" y1="326.5" x2="248.7" y2="329.5" stroke="#333" stroke-width="1"/>
<text x="244.5" y="334.9" font-size="5.4" font-weight="bold" fill="#3a3a3a" font-family="Liberation Sans">10<tspan dx="0.3" dy="-2.1" font-size="5.1">4</tspan></text>
<line x1="151.8" y1="336.1" x2="155.7" y2="336.1" stroke="#555" stroke-width="0.9"/>
<rect x="159.3" y="335.6" width="1" height="1" fill="#666"/>
<rect x="163.2" y="335.6" width="1" height="1" fill="#666"/>
<rect x="166.1" y="335.6" width="1" height="1" fill="#666"/>
<path d="M72.3,326.0 L72.8,326.2 L73.2,325.9 L73.7,326.0 L74.1,325.8 L74.5,326.0 L75.0,325.9 L75.5,326.2 L75.9,325.9 L76.3,326.0 L76.8,325.9 L77.2,326.1 L77.7,326.0 L78.2,326.1 L78.6,325.9 L79.0,325.9 L79.5,325.7 L80.0,325.9 L80.4,325.8 L80.8,326.2 L81.3,325.8 L81.8,325.9 L82.2,325.9 L82.7,326.1 L83.1,326.0 L83.5,326.0 L84.0,325.9 L84.5,326.1 L84.9,326.1 L85.3,326.1 L85.8,325.9 L86.2,326.0 L86.7,325.8 L87.2,326.1 L87.6,325.9 L88.0,326.3 L88.5,326.1 L89.0,326.2 L89.4,325.9 L89.8,326.0 L90.3,325.8 L90.8,326.0 L91.2,325.8 L91.7,326.1 L92.1,326.0 L92.5,326.2 L93.0,325.9 L93.5,326.0 L93.9,325.9 L94.3,326.0 L94.8,326.0 L95.2,326.4 L95.7,326.0 L96.2,326.3 L96.6,325.8 L97.0,326.0 L97.5,325.9 L98.0,326.2 L98.4,326.0 L98.8,326.1 L99.3,325.8 L99.8,325.8 L100.2,325.6 L100.7,326.0 L101.1,325.9 L101.5,326.1 L101.5,325.9 L102.0,326.1 L102.5,325.8 L102.9,325.8 L103.3,325.6 L103.8,325.7 L104.2,325.1 L104.7,325.7 L105.2,324.8 L105.6,326.0 L106.0,324.6 L106.5,325.5 L107.0,324.5 L107.4,325.1 L107.8,325.4 L108.3,325.2 L108.8,323.7 L109.2,324.6 L109.7,323.8 L110.1,324.6 L110.5,324.2 L111.0,324.9 L111.5,323.6 L111.7,324.0 L111.9,323.1 L112.3,323.7 L112.8,322.9 L113.2,324.1 L113.7,323.5 L114.2,324.8 L114.6,323.6 L115.0,323.9 L115.5,323.1 L116.0,323.2 L116.4,322.2 L116.8,323.9 L117.3,323.3 L117.8,323.6 L118.2,322.3 L118.7,322.7 L119.1,321.9 L119.5,322.8 L120.0,322.3 L120.5,323.4 L120.9,322.4 L121.3,322.9 L121.8,321.4 L122.2,322.3 L122.7,321.5 L123.2,322.6 L123.4,320.9 L123.6,322.3 L124.0,319.4 L124.5,322.1 L125.0,320.4 L125.4,320.5 L125.8,319.9 L126.3,320.7 L126.8,320.8 L127.2,321.4 L127.7,321.0 L128.1,320.7 L128.6,319.7 L129.0,320.4 L129.4,319.7 L129.9,321.0 L130.3,320.2 L130.7,321.1 L130.8,319.5 L131.2,319.9 L131.7,318.1 L132.2,318.6 L132.6,318.1 L133.1,319.0 L133.5,317.9 L133.9,318.6 L134.4,317.0 L134.8,317.5 L135.3,316.1 L135.8,317.5 L136.2,316.9 L136.7,317.5 L137.1,315.3 L137.6,315.9 L138.0,314.2 L138.4,314.1 L138.9,313.6 L139.3,314.2 L139.8,312.6 L140.2,314.3 L140.7,311.6 L141.2,312.8 L141.6,310.3 L142.1,311.5 L142.5,308.4 L142.9,311.0 L143.4,308.8 L143.8,310.6 L143.8,306.7 L144.3,307.9 L144.8,306.1 L145.2,306.7 L145.7,303.8 L146.1,308.1 L146.6,306.9 L147.0,306.8 L147.4,304.4 L147.9,305.7 L148.3,302.4 L148.8,305.1 L149.2,303.9 L149.7,304.7 L150.2,301.2 L150.6,303.0 L151.1,301.2 L151.5,303.3 L151.9,300.7 L152.4,297.9 L152.8,300.1 L153.3,302.0 L153.8,297.7 L154.2,301.6 L154.7,300.9 L155.1,301.7 L155.5,297.1 L155.6,298.7 L156.0,294.7 L156.4,296.7 L156.9,296.5 L157.3,298.5 L157.8,296.3 L158.2,297.5 L158.7,294.2 L159.2,292.1 L159.6,292.4 L160.1,295.8 L160.5,292.9 L160.8,295.4 L160.9,291.1 L161.4,291.9 L161.8,291.2 L162.3,293.1 L162.8,291.6 L163.2,294.3 L163.7,291.8 L164.1,294.1 L164.6,291.9 L165.0,292.9 L165.4,291.1 L165.9,293.6 L166.3,294.0 L166.7,295.5 L166.8,294.4 L167.2,295.9 L167.7,291.7 L168.2,293.5 L168.6,290.2 L169.1,294.1 L169.5,294.2 L169.9,296.1 L170.4,293.0 L170.8,295.0 L171.3,293.5 L171.8,297.3 L172.2,294.5 L172.7,295.8 L173.1,292.9 L173.6,294.9 L174.0,294.3 L174.4,297.0 L174.9,294.3 L175.3,297.0 L175.8,293.6 L176.2,296.3 L176.7,293.3 L177.2,296.1 L177.6,294.3 L178.1,298.4 L178.5,296.8 L178.9,296.0 L179.4,294.2 L179.8,298.9 L180.3,297.1 L180.8,300.6 L181.2,298.8 L181.3,299.4 L181.7,296.7 L182.1,297.5 L182.6,294.6 L183.0,297.1 L183.4,296.3 L183.9,298.8 L184.3,298.9 L184.8,300.0 L185.2,297.4 L185.7,298.8 L186.2,298.2 L186.6,300.9 L187.1,299.6 L187.5,302.4 L187.9,300.2 L188.4,301.4 L188.6,299.1 L188.8,300.0 L189.3,298.8 L189.8,300.8 L190.2,300.4 L190.7,304.5 L191.1,301.7 L191.6,303.4 L192.0,302.0 L192.4,303.9 L192.9,304.5 L193.0,305.6 L193.3,305.0 L193.8,309.2 L194.2,306.2 L194.7,307.9 L195.2,306.0 L195.6,306.1 L196.1,303.3 L196.5,308.3 L196.9,307.4 L197.4,309.8 L197.8,306.6 L198.3,307.8 L198.8,307.4 L198.8,309.3 L199.2,308.2 L199.7,311.2 L200.1,306.9 L200.6,310.4 L201.0,308.7 L201.4,309.7 L201.9,308.9 L202.3,312.3 L202.8,310.4 L203.2,310.5 L203.7,309.8 L204.2,312.5 L204.6,312.0 L205.1,313.5 L205.5,311.3 L205.9,312.0 L206.4,310.2 L206.8,311.7 L207.3,311.2 L207.8,312.9 L208.2,311.7 L208.7,312.1 L209.1,310.8 L209.6,311.8 L209.7,310.9 L210.0,313.7 L210.4,312.3 L210.9,314.0 L211.3,313.1 L211.8,313.7 L212.2,312.8 L212.7,316.2 L213.2,315.8 L213.6,317.5 L214.1,315.9 L214.5,317.2 L214.9,317.1 L214.9,317.9 L215.4,317.9 L215.8,319.3 L216.3,318.0 L216.8,320.0 L217.2,318.4 L217.7,319.6 L218.1,316.6 L218.6,321.4 L219.0,320.7 L219.4,321.6 L219.9,321.4 L220.3,321.6 L220.7,321.2 L220.8,322.2 L221.2,321.1 L221.7,322.9 L222.2,322.7 L222.6,323.8 L223.1,323.4 L223.5,324.4 L223.9,323.5 L224.4,323.8 L224.8,323.5 L225.3,324.6 L225.8,323.9 L226.2,325.3 L226.7,324.9 L227.1,325.8 L227.6,325.4 L228.0,325.9 L228.4,325.9 L228.9,326.3 L229.3,326.0 L229.8,326.1 L230.2,325.9 L230.7,325.9 L231.2,325.8 L231.6,326.2 L232.1,325.9 L232.5,326.2 L232.9,326.0 L233.4,326.0 L233.8,325.8 L234.3,325.8 L234.8,325.7 L235.2,326.0 L235.7,326.0 L236.1,326.0 L236.6,325.8 L237.0,326.1 L237.4,325.9 L237.9,326.2 L238.3,326.1 L238.8,326.1 L239.2,325.8 L239.7,326.1 L240.2,325.9 L240.6,326.2 L241.1,326.0 L241.5,326.3 L241.9,325.9 L242.4,326.1 L242.8,326.0 L243.3,326.2 L243.8,326.1 L244.2,326.2 L244.7,325.9 L245.1,325.9 L245.6,325.8 L246.0,326.1 L246.4,326.1 L246.9,326.3 L247.3,325.9 L247.8,326.0 L248.2,325.8 L248.4,326.0" fill="none" stroke="#18e018" stroke-width="1.9" stroke-linejoin="round"/>
<path d="M97.1,326.1 L97.6,325.9 L98.1,325.6 L98.6,325.2 L99.1,325.0 L99.6,325.8 L100.1,325.8 L100.6,325.1 L101.1,324.1 L101.6,324.1 L102.1,324.1 L102.6,324.7 L103.0,324.9 L103.1,325.0 L103.6,324.3 L104.1,323.8 L104.6,322.8 L105.1,323.5 L105.6,323.9 L106.1,323.0 L106.6,321.6 L107.1,322.0 L107.6,321.8 L108.1,322.5 L108.6,322.1 L109.1,321.7 L109.6,320.5 L110.1,321.4 L110.6,321.4 L111.1,321.5 L111.6,320.2 L111.7,320.3 L112.1,319.5 L112.6,320.2 L113.1,320.0 L113.6,320.3 L114.1,318.9 L114.6,319.0 L115.1,318.6 L115.6,318.9 L116.1,318.8 L116.6,318.6 L117.1,317.7 L117.6,317.1 L118.1,316.5 L118.6,317.2 L119.1,316.9 L119.6,317.4 L120.1,315.7 L120.5,315.4 L120.6,314.7 L121.1,314.3 L121.6,314.6 L122.1,315.8 L122.6,315.4 L123.1,314.3 L123.6,313.1 L124.1,313.7 L124.6,313.7 L125.1,314.1 L125.6,313.5 L126.1,313.4 L126.6,312.4 L127.1,311.6 L127.6,311.6 L127.8,312.2 L128.1,311.0 L128.6,311.1 L129.1,309.2 L129.6,308.4 L130.1,306.8 L130.6,306.2 L131.1,305.2 L131.6,306.4 L132.1,302.9 L132.2,302.6 L132.6,300.8 L133.1,301.1 L133.6,300.7 L134.1,302.2 L134.6,299.4 L135.1,298.7 L135.6,298.4 L136.1,299.9 L136.6,299.3 L137.1,300.1 L137.6,296.7 L138.0,295.7 L138.1,293.7 L138.6,295.1 L139.1,294.9 L139.6,297.2 L140.1,297.4 L140.6,295.5 L141.1,292.9 L141.6,291.5 L142.1,289.1 L142.4,290.0 L142.6,289.3 L143.1,290.9 L143.6,291.2 L144.1,292.3 L144.6,289.9 L145.1,289.2 L145.6,286.6 L146.1,288.3 L146.6,288.8 L146.8,289.8 L147.1,286.4 L147.6,282.9 L148.1,277.4 L148.2,277.2 L148.6,278.2 L149.1,281.1 L149.6,281.1 L150.1,281.6 L150.6,280.8 L151.1,281.0 L151.6,282.0 L152.1,286.7 L152.6,284.6 L153.1,285.4 L153.6,284.0 L154.1,285.4 L154.6,287.3 L155.1,290.0 L155.6,289.7 L156.1,290.2 L156.6,289.7 L157.0,292.7 L157.1,292.3 L157.6,296.4 L158.1,298.1 L158.6,299.0 L159.0,298.7 L159.1,299.4 L159.6,299.9 L160.1,302.3 L160.6,303.1 L161.1,305.1 L161.6,303.5 L162.1,303.7 L162.6,301.8 L163.1,302.6 L163.6,304.4 L163.8,306.1 L164.1,304.4 L164.6,304.5 L165.1,302.6 L165.6,305.0 L166.1,305.4 L166.6,307.8 L167.1,307.0 L167.6,307.4 L168.1,306.0 L168.6,306.7 L169.1,307.2 L169.6,310.2 L170.1,310.7 L170.6,309.9 L171.1,307.9 L171.6,309.3 L172.1,310.1 L172.6,310.7 L173.1,309.8 L173.6,310.0 L174.1,309.3 L174.6,311.3 L175.1,311.2 L175.4,312.4 L175.6,312.3 L176.1,312.8 L176.6,311.7 L177.1,311.6 L177.6,311.4 L178.1,312.4 L178.6,312.3 L179.1,313.1 L179.6,312.3 L180.1,312.5 L180.6,311.5 L181.1,312.7 L181.6,312.9 L182.1,313.0 L182.6,312.1 L183.1,311.6 L183.6,311.6 L184.1,313.0 L184.2,312.7 L184.6,314.6 L185.1,314.6 L185.6,313.8 L186.1,312.3 L186.6,314.5 L187.1,315.6 L187.6,315.6 L188.1,314.7 L188.6,315.1 L189.1,315.9 L189.6,317.7 L190.1,317.0 L190.6,316.9 L191.1,317.0 L191.5,318.0 L191.6,317.9 L192.1,319.1 L192.6,318.2 L193.1,318.3 L193.6,317.3 L194.1,318.1 L194.6,318.6 L195.1,319.7 L195.6,320.1 L196.1,320.4 L196.6,319.3 L197.1,319.3 L197.6,318.8 L198.1,320.3 L198.6,320.7 L198.8,321.8 L199.1,321.4 L199.6,321.4 L200.1,320.6 L200.6,320.8 L201.1,321.6 L201.6,322.5 L202.1,321.8 L202.6,321.9 L203.1,321.7 L203.6,322.6 L204.1,322.5 L204.6,323.1 L205.1,322.6 L205.6,322.9 L206.1,322.4 L206.6,323.2 L207.1,323.3 L207.6,324.1 L208.1,323.3 L208.6,323.2 L209.1,323.0 L209.6,323.9 L210.1,324.3 L210.6,325.3 L211.1,324.8 L211.6,324.4 L212.1,324.1 L212.6,324.9 L213.1,325.2 L213.6,325.8 L214.1,325.1 L214.6,324.9 L215.1,325.5 L215.6,325.9 L216.1,326.1 L216.3,326.1 L216.6,326.0 L217.1,325.9 L217.6,325.7 L218.1,326.0 L218.6,326.1 L219.1,326.1 L219.6,325.9 L220.1,325.9 L220.6,325.8 L221.1,326.0 L221.6,326.1 L222.1,326.2 L222.6,325.9 L223.1,325.9 L223.6,325.9 L224.1,326.1 L224.6,326.0 L225.1,326.0 L225.6,325.8 L226.1,326.0 L226.6,326.1 L227.1,326.2 L227.6,326.0 L228.1,325.9 L228.6,325.9 L229.1,326.1 L229.6,326.1 L230.1,326.1 L230.6,325.8 L231.1,326.0 L231.6,326.2 L232.1,326.2 L232.6,325.9 L233.1,326.0 L233.6,326.2 L234.1,326.3 L234.6,326.1 L235.1,326.0 L235.6,325.9 L236.1,326.2 L236.6,326.1 L237.1,326.2 L237.6,325.9 L238.1,325.9 L238.6,326.0 L239.1,326.2 L239.6,326.1 L240.1,325.9 L240.6,325.8 L241.1,326.1 L241.6,326.0 L242.1,325.9 L242.6,325.7 L243.1,325.8 L243.6,325.9 L244.1,326.0 L244.6,326.1 L245.1,326.1 L245.6,325.8 L246.1,325.9 L246.6,325.8 L247.1,326.1 L247.6,326.0 L248.1,325.8 L248.5,325.7" fill="none" stroke="#e47cc4" stroke-width="0.9"/>
<path d="M72.0,326.1 L72.3,326.2 L72.5,326.0 L72.9,325.9 L73.3,325.6 L73.8,325.3 L74.2,325.1 L74.7,325.5 L75.2,325.3 L75.6,325.9 L76.0,325.2 L76.5,324.6 L77.0,323.4 L77.4,324.0 L77.8,323.8 L78.3,324.7 L78.8,323.8 L79.2,323.3 L79.6,322.5 L79.7,322.4 L80.1,321.6 L80.5,322.5 L81.0,322.8 L81.5,323.0 L81.9,321.6 L82.3,321.0 L82.8,319.9 L83.2,321.1 L83.7,318.0 L84.2,320.6 L84.6,319.4 L85.0,317.0 L85.4,318.0 L85.5,318.8 L86.0,318.7 L86.4,319.9 L86.8,320.0 L87.3,315.7 L87.8,316.7 L88.2,316.4 L88.7,316.8 L89.1,318.5 L89.5,316.9 L89.8,316.3 L90.0,315.2 L90.5,315.8 L90.9,315.9 L91.3,317.5 L91.8,317.7 L92.2,317.8 L92.7,316.2 L93.2,316.0 L93.6,314.3 L94.0,315.4 L94.2,314.9 L94.5,315.8 L95.0,316.2 L95.4,316.6 L95.8,314.7 L96.3,314.4 L96.8,313.1 L97.2,312.7 L97.7,313.3 L98.1,315.3 L98.5,315.4 L99.0,315.9 L99.5,314.3 L99.9,313.4 L100.0,312.7 L100.3,311.7 L100.8,310.8 L101.2,312.3 L101.7,312.4 L102.2,313.9 L102.6,312.9 L103.0,312.1 L103.5,310.5 L104.0,310.0 L104.4,309.7 L104.8,310.7 L105.3,310.4 L105.8,311.1 L105.9,310.2 L106.2,309.4 L106.7,307.2 L107.1,306.4 L107.5,305.9 L108.0,307.3 L108.5,308.1 L108.9,308.2 L109.3,305.0 L109.8,304.5 L110.2,302.9 L110.7,304.4 L111.2,304.7 L111.6,307.0 L111.7,306.1 L112.0,306.8 L112.5,303.5 L113.0,301.7 L113.4,299.0 L113.8,298.2 L114.3,297.7 L114.8,298.7 L115.2,298.1 L115.4,298.6 L115.7,296.6 L116.1,296.4 L116.5,294.1 L117.0,292.5 L117.5,291.6 L117.6,292.4 L117.9,291.7 L118.3,293.9 L118.8,293.5 L119.2,293.7 L119.7,291.6 L120.2,291.9 L120.6,291.2 L121.0,293.1 L121.5,293.0 L122.0,293.7 L122.4,292.0 L122.8,292.7 L123.3,291.9 L123.4,293.0 L123.8,293.5 L124.2,293.4 L124.7,292.4 L125.1,292.1 L125.5,289.6 L126.0,291.3 L126.5,291.2 L126.9,292.2 L127.3,292.5 L127.8,291.1 L128.2,287.8 L128.7,288.0 L129.2,289.3 L129.2,290.0 L129.6,290.7 L130.1,291.1 L130.5,289.4 L130.9,291.3 L131.4,292.9 L131.8,296.2 L132.2,297.1 L132.3,297.6 L132.8,295.6 L133.2,295.4 L133.7,292.4 L134.1,292.0 L134.6,290.7 L135.0,292.5 L135.1,291.5 L135.4,294.3 L135.9,291.6 L136.3,292.0 L136.8,293.2 L137.2,297.2 L137.7,296.4 L138.2,296.8 L138.6,295.6 L139.1,299.1 L139.5,301.1 L139.9,302.9 L140.4,301.5 L140.8,301.8 L141.3,300.9 L141.8,303.1 L142.2,304.0 L142.7,305.6 L143.1,305.9 L143.6,306.4 L143.8,305.2 L144.0,305.7 L144.4,305.2 L144.9,307.1 L145.3,306.0 L145.8,306.0 L146.2,302.7 L146.7,303.0 L147.2,303.2 L147.6,304.7 L148.1,304.2 L148.2,304.5 L148.5,303.4 L148.9,303.7 L149.4,302.5 L149.8,303.8 L150.3,304.4 L150.8,306.5 L151.2,306.5 L151.7,307.1 L152.1,306.2 L152.6,306.6 L152.6,305.7 L153.0,306.1 L153.4,306.9 L153.9,309.0 L154.3,309.4 L154.8,309.6 L155.2,308.7 L155.7,308.5 L156.2,307.3 L156.6,309.6 L157.1,310.3 L157.5,313.1 L157.9,313.2 L158.4,313.1 L158.8,311.7 L159.3,310.8 L159.8,312.1 L160.2,315.3 L160.7,313.8 L161.1,313.8 L161.6,312.6 L162.0,314.4 L162.4,315.1 L162.9,316.3 L163.3,315.2 L163.8,315.5 L164.2,314.6 L164.3,314.8 L164.7,314.4 L165.2,316.3 L165.6,316.7 L166.1,316.3 L166.5,314.4 L166.7,314.5 L166.9,314.4 L167.4,315.6 L167.8,315.7 L168.3,317.0 L168.8,315.7 L169.2,315.9 L169.7,316.7 L170.1,318.6 L170.6,315.8 L171.0,318.1 L171.1,317.8 L171.4,318.3 L171.9,317.0 L172.3,318.5 L172.8,320.1 L173.2,320.8 L173.7,319.7 L174.2,319.7 L174.6,318.9 L175.1,319.2 L175.5,320.4 L175.9,321.5 L176.4,320.4 L176.8,319.9 L176.9,319.8 L177.3,320.8 L177.8,321.1 L178.2,321.9 L178.7,322.1 L179.1,322.2 L179.6,321.5 L180.0,321.5 L180.4,320.8 L180.9,321.8 L181.3,322.3 L181.8,323.4 L182.2,323.3 L182.7,323.4 L183.2,322.8 L183.6,322.7 L184.1,322.5 L184.2,322.9 L184.5,323.2 L184.9,324.1 L185.4,324.7 L185.8,324.9 L186.3,324.0 L186.8,324.2 L187.2,325.0 L187.7,325.8 L188.1,324.8 L188.6,324.9 L189.0,324.4 L189.4,325.5 L189.9,325.8 L190.3,326.5 L190.8,325.8 L191.2,325.9 L191.5,325.7 L191.7,325.8 L192.2,325.9 L192.6,326.1 L193.1,326.2 L193.5,326.1 L193.9,325.7 L194.4,325.9 L194.8,326.0 L195.3,326.2 L195.8,326.0 L196.2,325.8 L196.7,325.8 L197.1,326.2 L197.6,326.2 L198.0,326.2 L198.4,326.0 L198.9,326.0 L199.3,326.0 L199.8,326.1 L200.2,326.2 L200.7,326.3 L201.2,326.0 L201.6,325.9 L201.7,325.8 L202.1,326.0 L202.5,326.0 L202.9,326.1 L203.4,326.1 L203.8,326.2 L204.3,325.9 L204.8,325.9 L205.2,325.8 L205.7,326.0 L206.1,325.9 L206.6,325.9 L207.0,325.8 L207.4,326.0 L207.9,326.0 L208.3,326.2 L208.8,326.0 L209.2,326.0 L209.7,325.8 L210.2,325.9 L210.6,325.9 L211.1,326.1 L211.5,326.1 L211.9,326.1 L212.4,325.9 L212.8,325.9 L213.3,325.9 L213.8,326.2 L214.2,326.1 L214.7,325.9 L215.1,325.7 L215.6,326.0 L216.0,326.0 L216.4,326.1 L216.9,325.9 L217.3,325.9 L217.8,325.7 L218.2,325.9 L218.7,325.9 L219.2,326.1 L219.6,326.1 L220.1,326.0 L220.5,325.6 L220.9,326.0 L221.4,326.0 L221.8,326.2 L222.3,326.0 L222.8,325.9 L223.2,325.6 L223.7,325.9 L224.1,326.0 L224.6,326.3 L225.0,326.0 L225.4,325.9 L225.9,325.7 L226.3,326.0 L226.8,326.1 L227.2,326.3 L227.7,326.1 L228.2,326.0 L228.6,325.8 L229.1,326.0 L229.5,326.1 L229.9,326.3 L230.4,326.0 L230.8,325.9 L231.3,325.8 L231.8,326.1 L232.2,326.1 L232.7,326.1 L233.1,325.9 L233.6,325.9 L234.0,325.7 L234.4,325.9 L234.9,326.0 L235.3,326.3 L235.8,326.2 L236.2,326.1 L236.7,325.9 L237.2,325.8 L237.6,325.7 L238.1,325.9 L238.5,325.9 L238.9,326.2 L239.4,326.0 L239.8,326.0 L240.3,325.9 L240.8,326.1 L241.2,326.1 L241.7,326.3 L242.1,326.0 L242.6,325.9 L243.0,325.8 L243.4,326.1 L243.9,326.2 L244.3,326.2 L244.8,325.9 L245.2,325.9 L245.7,325.7 L246.2,325.9 L246.6,326.1 L247.1,326.2 L247.5,326.0 L247.9,326.0 L248.4,325.8 L248.5,325.9" fill="none" stroke="#1e1e1e" stroke-width="0.8"/>
<rect x="281.6" y="201.2" width="175.8" height="126.4" fill="none" stroke="#777" stroke-width="1.3"/>
<line x1="281.6" y1="201.2" x2="281.6" y2="328.6" stroke="#4a4a4a" stroke-width="1.1"/>
<line x1="279.2" y1="327.6" x2="281.9" y2="327.6" stroke="#1a1a1a" stroke-width="1.1"/>
<line x1="279.9" y1="322.5" x2="281.9" y2="322.5" stroke="#1a1a1a" stroke-width="1.1"/>
<line x1="279.9" y1="317.5" x2="281.9" y2="317.5" stroke="#1a1a1a" stroke-width="1.1"/>
<line x1="279.9" y1="312.4" x2="281.9" y2="312.4" stroke="#1a1a1a" stroke-width="1.1"/>
<line x1="279.9" y1="307.4" x2="281.9" y2="307.4" stroke="#1a1a1a" stroke-width="1.1"/>
<line x1="279.2" y1="302.3" x2="281.9" y2="302.3" stroke="#1a1a1a" stroke-width="1.1"/>
<line x1="279.9" y1="297.3" x2="281.9" y2="297.3" stroke="#1a1a1a" stroke-width="1.1"/>
<line x1="279.9" y1="292.2" x2="281.9" y2="292.2" stroke="#1a1a1a" stroke-width="1.1"/>
<line x1="279.9" y1="287.2" x2="281.9" y2="287.2" stroke="#1a1a1a" stroke-width="1.1"/>
<line x1="279.9" y1="282.1" x2="281.9" y2="282.1" stroke="#1a1a1a" stroke-width="1.1"/>
<line x1="279.2" y1="277.0" x2="281.9" y2="277.0" stroke="#1a1a1a" stroke-width="1.1"/>
<line x1="279.9" y1="272.0" x2="281.9" y2="272.0" stroke="#1a1a1a" stroke-width="1.1"/>
<line x1="279.9" y1="266.9" x2="281.9" y2="266.9" stroke="#1a1a1a" stroke-width="1.1"/>
<line x1="279.9" y1="261.9" x2="281.9" y2="261.9" stroke="#1a1a1a" stroke-width="1.1"/>
<line x1="279.9" y1="256.8" x2="281.9" y2="256.8" stroke="#1a1a1a" stroke-width="1.1"/>
<line x1="279.2" y1="251.8" x2="281.9" y2="251.8" stroke="#1a1a1a" stroke-width="1.1"/>
<line x1="279.9" y1="246.7" x2="281.9" y2="246.7" stroke="#1a1a1a" stroke-width="1.1"/>
<line x1="279.9" y1="241.6" x2="281.9" y2="241.6" stroke="#1a1a1a" stroke-width="1.1"/>
<line x1="279.9" y1="236.6" x2="281.9" y2="236.6" stroke="#1a1a1a" stroke-width="1.1"/>
<line x1="279.9" y1="231.5" x2="281.9" y2="231.5" stroke="#1a1a1a" stroke-width="1.1"/>
<line x1="279.2" y1="226.5" x2="281.9" y2="226.5" stroke="#1a1a1a" stroke-width="1.1"/>
<line x1="279.9" y1="221.4" x2="281.9" y2="221.4" stroke="#1a1a1a" stroke-width="1.1"/>
<line x1="279.9" y1="216.4" x2="281.9" y2="216.4" stroke="#1a1a1a" stroke-width="1.1"/>
<line x1="279.9" y1="211.3" x2="281.9" y2="211.3" stroke="#1a1a1a" stroke-width="1.1"/>
<line x1="279.9" y1="206.3" x2="281.9" y2="206.3" stroke="#1a1a1a" stroke-width="1.1"/>
<line x1="279.2" y1="201.2" x2="281.9" y2="201.2" stroke="#1a1a1a" stroke-width="1.1"/>
<text x="0" y="0" transform="translate(276.7 327.6) rotate(-90) scale(0.76 1)" text-anchor="middle" font-size="6.6" fill="#2a2a2a" font-family="Liberation Sans">0</text>
<text x="0" y="0" transform="translate(276.7 302.3) rotate(-90) scale(0.76 1)" text-anchor="middle" font-size="6.6" fill="#2a2a2a" font-family="Liberation Sans">40</text>
<text x="0" y="0" transform="translate(276.7 277.0) rotate(-90) scale(0.76 1)" text-anchor="middle" font-size="6.6" fill="#2a2a2a" font-family="Liberation Sans">80</text>
<text x="0" y="0" transform="translate(276.7 251.8) rotate(-90) scale(0.76 1)" text-anchor="middle" font-size="6.6" fill="#2a2a2a" font-family="Liberation Sans">120</text>
<text x="0" y="0" transform="translate(276.7 226.5) rotate(-90) scale(0.76 1)" text-anchor="middle" font-size="6.6" fill="#2a2a2a" font-family="Liberation Sans">160</text>
<text x="0" y="0" transform="translate(276.7 201.2) rotate(-90) scale(0.76 1)" text-anchor="middle" font-size="6.6" fill="#2a2a2a" font-family="Liberation Sans">200</text>
<line x1="281.6" y1="327.6" x2="281.6" y2="330.6" stroke="#333" stroke-width="1"/>
<text x="277.4" y="336.0" font-size="5.4" font-weight="bold" fill="#3a3a3a" font-family="Liberation Sans">10<tspan dx="0.3" dy="-2.1" font-size="5.1">0</tspan></text>
<line x1="294.8" y1="327.6" x2="294.8" y2="329.40000000000003" stroke="#555" stroke-width="0.8"/>
<line x1="302.6" y1="327.6" x2="302.6" y2="329.40000000000003" stroke="#555" stroke-width="0.8"/>
<line x1="308.1" y1="327.6" x2="308.1" y2="329.40000000000003" stroke="#555" stroke-width="0.8"/>
<line x1="312.3" y1="327.6" x2="312.3" y2="329.40000000000003" stroke="#555" stroke-width="0.8"/>
<line x1="315.8" y1="327.6" x2="315.8" y2="329.40000000000003" stroke="#555" stroke-width="0.8"/>
<line x1="318.7" y1="327.6" x2="318.7" y2="329.40000000000003" stroke="#555" stroke-width="0.8"/>
<line x1="321.3" y1="327.6" x2="321.3" y2="329.40000000000003" stroke="#555" stroke-width="0.8"/>
<line x1="323.5" y1="327.6" x2="323.5" y2="329.40000000000003" stroke="#555" stroke-width="0.8"/>
<line x1="325.6" y1="327.6" x2="325.6" y2="330.6" stroke="#333" stroke-width="1"/>
<text x="321.4" y="336.0" font-size="5.4" font-weight="bold" fill="#3a3a3a" font-family="Liberation Sans">10<tspan dx="0.3" dy="-2.1" font-size="5.1">1</tspan></text>
<line x1="338.8" y1="327.6" x2="338.8" y2="329.40000000000003" stroke="#555" stroke-width="0.8"/>
<line x1="346.5" y1="327.6" x2="346.5" y2="329.40000000000003" stroke="#555" stroke-width="0.8"/>
<line x1="352.0" y1="327.6" x2="352.0" y2="329.40000000000003" stroke="#555" stroke-width="0.8"/>
<line x1="356.3" y1="327.6" x2="356.3" y2="329.40000000000003" stroke="#555" stroke-width="0.8"/>
<line x1="359.7" y1="327.6" x2="359.7" y2="329.40000000000003" stroke="#555" stroke-width="0.8"/>
<line x1="362.7" y1="327.6" x2="362.7" y2="329.40000000000003" stroke="#555" stroke-width="0.8"/>
<line x1="365.2" y1="327.6" x2="365.2" y2="329.40000000000003" stroke="#555" stroke-width="0.8"/>
<line x1="367.5" y1="327.6" x2="367.5" y2="329.40000000000003" stroke="#555" stroke-width="0.8"/>
<line x1="369.5" y1="327.6" x2="369.5" y2="330.6" stroke="#333" stroke-width="1"/>
<text x="365.3" y="336.0" font-size="5.4" font-weight="bold" fill="#3a3a3a" font-family="Liberation Sans">10<tspan dx="0.3" dy="-2.1" font-size="5.1">2</tspan></text>
<line x1="382.7" y1="327.6" x2="382.7" y2="329.40000000000003" stroke="#555" stroke-width="0.8"/>
<line x1="390.5" y1="327.6" x2="390.5" y2="329.40000000000003" stroke="#555" stroke-width="0.8"/>
<line x1="396.0" y1="327.6" x2="396.0" y2="329.40000000000003" stroke="#555" stroke-width="0.8"/>
<line x1="400.2" y1="327.6" x2="400.2" y2="329.40000000000003" stroke="#555" stroke-width="0.8"/>
<line x1="403.7" y1="327.6" x2="403.7" y2="329.40000000000003" stroke="#555" stroke-width="0.8"/>
<line x1="406.6" y1="327.6" x2="406.6" y2="329.40000000000003" stroke="#555" stroke-width="0.8"/>
<line x1="409.2" y1="327.6" x2="409.2" y2="329.40000000000003" stroke="#555" stroke-width="0.8"/>
<line x1="411.4" y1="327.6" x2="411.4" y2="329.40000000000003" stroke="#555" stroke-width="0.8"/>
<line x1="413.4" y1="327.6" x2="413.4" y2="330.6" stroke="#333" stroke-width="1"/>
<text x="409.2" y="336.0" font-size="5.4" font-weight="bold" fill="#3a3a3a" font-family="Liberation Sans">10<tspan dx="0.3" dy="-2.1" font-size="5.1">3</tspan></text>
<line x1="426.7" y1="327.6" x2="426.7" y2="329.40000000000003" stroke="#555" stroke-width="0.8"/>
<line x1="434.4" y1="327.6" x2="434.4" y2="329.40000000000003" stroke="#555" stroke-width="0.8"/>
<line x1="439.9" y1="327.6" x2="439.9" y2="329.40000000000003" stroke="#555" stroke-width="0.8"/>
<line x1="444.2" y1="327.6" x2="444.2" y2="329.40000000000003" stroke="#555" stroke-width="0.8"/>
<line x1="447.6" y1="327.6" x2="447.6" y2="329.40000000000003" stroke="#555" stroke-width="0.8"/>
<line x1="450.6" y1="327.6" x2="450.6" y2="329.40000000000003" stroke="#555" stroke-width="0.8"/>
<line x1="453.1" y1="327.6" x2="453.1" y2="329.40000000000003" stroke="#555" stroke-width="0.8"/>
<line x1="455.4" y1="327.6" x2="455.4" y2="329.40000000000003" stroke="#555" stroke-width="0.8"/>
<line x1="457.4" y1="327.6" x2="457.4" y2="330.6" stroke="#333" stroke-width="1"/>
<text x="453.2" y="336.0" font-size="5.4" font-weight="bold" fill="#3a3a3a" font-family="Liberation Sans">10<tspan dx="0.3" dy="-2.1" font-size="5.1">4</tspan></text>
<line x1="361.2" y1="337.2" x2="365.1" y2="337.2" stroke="#555" stroke-width="0.9"/>
<rect x="368.7" y="336.7" width="1" height="1" fill="#666"/>
<rect x="372.6" y="336.7" width="1" height="1" fill="#666"/>
<rect x="375.5" y="336.7" width="1" height="1" fill="#666"/>
<path d="M282.3,327.3 L282.8,327.3 L283.2,326.9 L283.6,327.1 L284.1,326.9 L284.6,327.1 L285.0,327.0 L285.4,327.2 L285.9,327.1 L286.4,327.1 L286.8,326.9 L287.2,327.0 L287.7,327.1 L288.1,327.2 L288.6,327.0 L289.1,327.2 L289.5,326.9 L289.9,327.1 L290.4,326.9 L290.9,327.2 L291.3,327.1 L291.8,327.3 L292.2,327.0 L292.6,327.1 L293.1,326.8 L293.6,327.1 L294.0,326.9 L294.4,327.2 L294.9,327.2 L295.4,327.2 L295.8,327.1 L296.2,327.1 L296.7,326.9 L297.1,327.2 L297.6,327.2 L298.1,327.4 L298.5,327.0 L298.9,327.1 L299.4,326.8 L299.9,327.1 L300.3,327.0 L300.8,327.3 L301.2,327.1 L301.6,327.3 L302.1,327.0 L302.6,327.2 L303.0,327.1 L303.4,327.3 L303.9,327.2 L304.2,327.4 L304.4,327.1 L304.8,327.2 L305.2,327.0 L305.7,327.1 L306.1,326.9 L306.6,327.2 L307.1,327.2 L307.5,327.2 L307.9,326.8 L308.4,326.9 L308.9,327.0 L309.3,327.4 L309.8,327.2 L310.2,327.3 L310.6,327.0 L311.1,327.2 L311.6,327.0 L312.0,327.2 L312.4,327.1 L312.9,327.2 L313.4,326.9 L313.8,327.1 L314.2,326.8 L314.7,327.2 L315.1,327.0 L315.6,327.3 L316.1,327.0 L316.5,327.3 L316.9,326.9 L317.4,327.1 L317.9,327.0 L318.3,327.3 L318.8,327.1 L319.2,327.3 L319.6,326.9 L320.1,327.0 L320.6,326.9 L321.0,327.2 L321.4,327.0 L321.9,327.0 L322.4,327.0 L322.8,327.1 L323.2,327.0 L323.7,327.3 L324.1,327.0 L324.6,327.1 L325.1,326.9 L325.5,327.0 L325.9,327.1 L326.4,327.4 L326.9,327.0 L327.3,327.1 L327.8,326.8 L328.2,327.0 L328.6,327.0 L329.1,327.3 L329.6,327.1 L330.0,327.2 L330.4,326.9 L330.9,327.1 L331.4,326.9 L331.8,327.1 L332.2,327.1 L332.7,327.4 L333.1,327.2 L333.6,327.2 L334.1,327.0 L334.5,327.1 L334.9,326.9 L335.4,327.2 L335.9,327.1 L336.3,327.4 L336.8,327.1 L337.2,327.1 L337.6,326.8 L338.1,327.3 L338.4,327.1 L338.6,327.4 L339.0,326.8 L339.4,326.9 L339.9,326.2 L340.4,326.6 L340.8,326.2 L341.2,327.1 L341.7,326.2 L342.1,326.7 L342.6,325.4 L343.1,325.4 L343.5,324.5 L343.9,325.6 L344.4,325.6 L344.9,326.3 L345.3,325.0 L345.8,325.3 L346.2,323.8 L346.6,324.8 L347.1,323.9 L347.6,324.9 L347.7,324.2 L348.0,324.5 L348.4,323.5 L348.9,324.0 L349.4,323.0 L349.8,323.0 L350.2,321.3 L350.5,322.4 L350.7,321.3 L351.1,322.0 L351.6,320.5 L352.1,320.5 L352.5,317.9 L352.9,318.7 L353.4,317.6 L353.9,318.0 L354.3,315.0 L354.7,315.5 L354.8,313.7 L355.2,315.1 L355.6,314.0 L356.1,315.8 L356.6,312.5 L357.0,311.2 L357.4,313.4 L357.9,315.5 L358.4,313.7 L358.8,313.7 L359.2,311.7 L359.7,313.8 L360.1,312.7 L360.6,315.0 L361.1,312.0 L361.5,313.8 L361.7,311.9 L361.9,312.3 L362.4,310.7 L362.9,311.7 L363.3,310.0 L363.8,312.8 L364.2,309.4 L364.6,310.4 L365.1,308.4 L365.6,308.5 L366.0,305.0 L366.4,308.2 L366.9,306.6 L367.4,308.9 L367.8,305.1 L368.2,306.6 L368.7,302.4 L369.1,304.5 L369.6,302.7 L370.1,305.6 L370.5,304.6 L370.9,307.4 L371.4,304.6 L371.9,305.6 L372.3,303.3 L372.8,305.3 L373.2,303.5 L373.4,307.7 L373.6,305.5 L374.1,305.5 L374.6,304.2 L375.0,304.4 L375.4,302.0 L375.9,302.4 L376.4,301.8 L376.8,303.6 L377.2,300.3 L377.7,302.8 L378.1,300.4 L378.1,301.2 L378.6,301.0 L379.1,303.6 L379.5,299.7 L379.9,300.4 L380.4,298.4 L380.9,300.9 L381.3,298.7 L381.8,299.4 L382.2,296.1 L382.6,296.8 L382.7,296.0 L383.1,298.3 L383.6,296.4 L384.0,298.4 L384.4,294.8 L384.9,295.9 L385.4,294.2 L385.8,295.3 L386.2,293.7 L386.7,295.8 L387.1,294.2 L387.6,296.2 L388.1,291.8 L388.5,291.8 L388.9,289.7 L388.9,290.5 L389.4,291.0 L389.9,294.4 L390.3,294.5 L390.8,298.2 L391.2,295.4 L391.6,297.1 L392.1,296.8 L392.6,300.7 L392.7,298.9 L393.0,301.5 L393.4,299.2 L393.9,300.7 L394.4,297.0 L394.8,298.2 L395.2,297.9 L395.7,301.9 L396.1,300.6 L396.6,302.4 L397.1,299.8 L397.1,300.8 L397.5,299.5 L397.9,301.8 L398.4,300.8 L398.9,303.1 L399.3,301.7 L399.8,305.6 L400.2,303.4 L400.6,305.7 L401.1,303.0 L401.6,306.1 L402.0,305.8 L402.4,308.1 L402.9,307.8 L403.0,310.1 L403.4,308.4 L403.8,309.2 L404.2,306.6 L404.7,308.0 L405.1,307.4 L405.6,309.9 L406.1,308.0 L406.5,311.0 L406.9,308.2 L407.4,310.5 L407.9,307.2 L408.3,309.7 L408.8,308.3 L408.8,310.2 L409.2,309.4 L409.6,311.5 L410.1,310.4 L410.6,311.2 L411.0,309.1 L411.4,312.3 L411.9,311.1 L412.4,312.2 L412.8,309.2 L413.2,310.3 L413.7,310.8 L414.1,313.0 L414.6,311.6 L415.1,312.4 L415.5,309.4 L415.9,312.5 L416.4,311.6 L416.9,314.0 L417.3,310.8 L417.8,311.7 L418.2,310.4 L418.6,312.9 L419.0,311.6 L419.1,313.6 L419.6,312.3 L420.0,314.4 L420.4,312.0 L420.9,313.1 L421.4,312.3 L421.8,315.2 L422.2,314.9 L422.7,316.3 L423.1,314.5 L423.4,316.1 L423.6,314.2 L424.1,317.1 L424.5,315.4 L424.9,317.4 L425.4,317.2 L425.9,318.6 L426.3,316.7 L426.8,317.0 L427.2,315.2 L427.6,317.6 L428.1,317.9 L428.6,319.2 L429.0,318.5 L429.4,319.2 L429.9,315.5 L430.4,319.4 L430.7,318.5 L430.8,319.6 L431.2,320.2 L431.7,321.9 L432.1,319.9 L432.6,321.5 L433.1,319.7 L433.5,322.0 L433.9,321.1 L434.4,322.6 L434.9,322.7 L435.1,323.8 L435.3,322.9 L435.8,322.8 L436.2,322.5 L436.6,324.1 L437.1,323.8 L437.6,325.5 L438.0,324.4 L438.4,325.3 L438.9,324.4 L439.4,325.1 L439.8,325.3 L440.2,326.9 L440.7,326.4 L441.1,326.5 L441.6,326.0 L442.1,326.8 L442.4,326.8 L442.5,327.0 L442.9,327.0 L443.4,327.4 L443.9,327.3 L444.3,327.3 L444.8,327.0 L445.2,327.1 L445.6,326.8 L446.1,327.2 L446.6,327.0 L447.0,327.4 L447.4,327.1 L447.9,327.2 L448.4,327.1 L448.8,327.3 L449.2,327.1 L449.7,327.1 L450.1,326.8 L450.6,326.9 L451.1,326.9 L451.5,327.1 L451.9,327.1 L452.4,327.3 L452.9,327.1 L453.3,327.1 L453.8,326.8 L454.2,327.1 L454.6,326.9 L455.1,327.3 L455.6,327.1 L456.0,327.3 L456.4,327.0 L456.9,327.3 L457.0,326.9" fill="none" stroke="#18e018" stroke-width="1.9" stroke-linejoin="round"/>
<path d="M282.3,327.2 L282.8,327.1 L283.3,326.9 L283.8,327.2 L284.3,327.2 L284.8,327.2 L285.3,326.9 L285.8,327.1 L286.3,327.2 L286.8,327.3 L287.3,327.0 L287.8,327.1 L288.3,327.2 L288.8,327.5 L289.3,327.3 L289.8,327.2 L290.3,327.0 L290.8,327.0 L291.3,327.1 L291.8,327.3 L292.3,327.1 L292.8,327.1 L293.3,327.0 L293.8,327.2 L294.3,327.1 L294.8,327.1 L295.3,326.9 L295.8,327.1 L296.3,327.1 L296.8,327.3 L297.3,327.2 L297.8,327.0 L298.3,326.9 L298.8,327.1 L299.3,327.1 L299.8,327.2 L300.3,327.1 L300.8,327.1 L301.3,326.9 L301.8,327.0 L302.3,327.1 L302.8,327.3 L303.3,327.1 L303.8,327.1 L304.3,326.9 L304.8,327.0 L305.3,327.1 L305.8,327.4 L306.3,327.3 L306.8,327.1 L307.3,327.0 L307.8,327.2 L308.3,327.2 L308.8,327.4 L309.3,327.3 L309.8,327.2 L310.3,327.0 L310.8,327.0 L311.3,327.1 L311.8,327.3 L312.0,327.2 L312.3,327.1 L312.8,326.7 L313.3,326.6 L313.8,326.2 L314.3,326.8 L314.8,326.6 L315.3,326.7 L315.8,326.1 L316.3,325.8 L316.8,325.2 L317.3,326.0 L317.8,325.9 L318.3,326.3 L318.8,325.4 L319.3,325.1 L319.8,324.3 L320.3,324.7 L320.8,324.9 L321.3,325.2 L321.8,324.4 L322.3,324.2 L322.8,323.5 L323.2,324.0 L323.3,323.7 L323.8,324.4 L324.3,324.6 L324.8,324.1 L325.3,323.1 L325.8,322.7 L326.3,321.7 L326.8,322.2 L327.3,322.1 L327.8,323.1 L328.3,321.9 L328.8,319.4 L329.3,320.1 L329.8,320.6 L330.3,320.9 L330.8,322.1 L331.3,320.6 L331.8,319.3 L332.3,318.2 L332.5,318.9 L332.8,318.9 L333.3,319.7 L333.8,319.7 L334.3,320.0 L334.8,318.1 L335.3,317.4 L335.8,317.1 L336.3,318.3 L336.8,318.1 L337.3,318.1 L337.8,316.7 L338.3,316.4 L338.8,316.5 L339.3,317.8 L339.8,317.0 L340.3,315.7 L340.8,314.1 L341.3,315.0 L341.8,315.0 L341.9,316.1 L342.3,314.5 L342.8,313.6 L343.3,311.2 L343.8,313.2 L344.3,313.8 L344.8,313.4 L345.3,311.5 L345.8,311.3 L346.0,310.1 L346.3,310.3 L346.8,306.7 L347.3,310.7 L347.8,306.7 L348.3,309.4 L348.8,307.5 L349.3,306.5 L349.8,304.1 L350.0,304.7 L350.3,304.9 L350.8,305.8 L351.3,305.4 L351.8,305.5 L352.3,303.5 L352.8,303.2 L353.3,301.5 L353.5,300.2 L353.8,301.6 L354.3,303.2 L354.8,303.2 L355.3,303.2 L355.8,301.4 L356.3,299.8 L356.8,297.9 L357.3,299.9 L357.8,299.9 L358.2,296.8 L358.3,300.7 L358.8,300.1 L359.3,297.3 L359.8,296.1 L360.3,294.2 L360.8,296.2 L361.3,296.9 L361.7,297.1 L361.8,296.0 L362.3,295.7 L362.8,293.4 L363.3,294.3 L363.8,295.7 L364.3,296.8 L364.8,297.2 L365.2,298.1 L365.3,296.8 L365.8,297.1 L366.3,295.6 L366.8,296.3 L367.3,296.0 L367.8,296.9 L368.3,297.3 L368.8,297.6 L369.3,296.4 L369.8,296.2 L369.9,295.0 L370.3,294.9 L370.8,295.8 L371.3,297.0 L371.8,297.6 L372.3,297.1 L372.8,294.9 L373.3,294.5 L373.8,293.6 L374.3,296.3 L374.8,297.8 L375.3,297.0 L375.7,294.4 L375.8,295.0 L376.3,292.5 L376.8,295.7 L377.3,296.2 L377.8,297.4 L378.3,294.3 L378.8,294.1 L379.3,294.1 L379.8,295.5 L380.3,295.5 L380.8,295.4 L381.3,294.4 L381.8,294.1 L382.3,292.8 L382.7,294.4 L382.8,294.0 L383.3,295.9 L383.8,295.3 L384.3,295.0 L384.8,293.8 L385.3,294.2 L385.8,295.2 L386.2,296.4 L386.3,295.8 L386.8,297.1 L387.3,295.9 L387.8,296.6 L388.3,297.3 L388.8,299.4 L389.0,298.4 L389.3,299.7 L389.8,298.7 L390.3,299.7 L390.8,300.4 L391.3,303.3 L391.7,302.8 L391.8,303.1 L392.3,301.1 L392.8,300.1 L393.3,302.2 L393.8,306.0 L394.3,303.2 L394.8,302.1 L395.3,303.0 L395.8,306.2 L396.0,306.0 L396.3,307.9 L396.8,307.3 L397.3,308.2 L397.8,308.1 L398.3,309.5 L398.8,310.7 L399.3,312.8 L399.8,312.5 L400.0,313.1 L400.3,312.4 L400.8,312.8 L401.3,312.2 L401.8,314.7 L402.3,315.4 L402.8,315.3 L403.3,313.9 L403.8,314.7 L404.3,315.7 L404.4,316.7 L404.8,317.1 L405.3,319.1 L405.8,319.1 L406.3,318.7 L406.8,317.7 L407.3,318.4 L407.8,319.2 L408.3,320.6 L408.8,321.4 L409.3,321.8 L409.8,321.7 L410.3,322.0 L410.8,321.7 L411.3,322.7 L411.8,322.9 L412.3,323.6 L412.8,323.3 L413.0,323.6 L413.3,323.1 L413.8,323.5 L414.3,324.0 L414.8,325.1 L415.3,325.7 L415.8,325.4 L416.3,324.9 L416.8,325.4 L417.3,325.6 L417.8,326.6 L418.3,326.9 L418.8,326.8 L419.3,326.9 L419.4,326.9 L419.8,327.0 L420.3,327.2 L420.8,327.2 L421.3,327.2 L421.8,327.0 L422.3,327.0 L422.8,327.1 L423.3,327.3 L423.8,327.2 L424.3,327.1 L424.8,326.8 L425.3,327.0 L425.8,327.1 L426.3,327.2 L426.8,327.0 L427.3,327.1 L427.8,327.1 L428.3,327.3 L428.8,327.2 L429.3,327.2 L429.8,327.0 L430.0,327.0 L430.3,326.9 L430.8,327.2 L431.3,327.3 L431.8,327.2 L432.3,327.1 L432.8,327.0 L433.3,327.1 L433.8,327.2 L434.3,327.1 L434.8,327.1 L435.3,326.9 L435.8,327.0 L436.3,327.0 L436.8,327.2 L437.3,327.1 L437.8,327.1 L438.3,326.8 L438.8,327.0 L439.3,327.1 L439.8,327.3 L440.3,327.3 L440.8,327.2 L441.3,326.9 L441.8,327.0 L442.3,327.1 L442.8,327.3 L443.3,327.0 L443.8,327.0 L444.3,326.9 L444.8,327.2 L445.3,327.3 L445.8,327.2 L446.3,327.0 L446.8,327.1 L447.3,327.1 L447.8,327.2 L448.3,327.0 L448.8,327.0 L449.3,326.9 L449.8,327.1 L450.3,327.1 L450.8,327.3 L451.3,327.1 L451.8,327.0 L452.3,326.9 L452.8,327.1 L453.3,327.3 L453.8,327.3 L454.3,327.1 L454.8,327.1 L455.3,327.1 L455.8,327.2 L456.3,327.2 L456.8,327.3 L457.0,327.1" fill="none" stroke="#e47cc4" stroke-width="0.9"/>
<path d="M282.3,327.1 L282.8,327.1 L283.2,326.8 L283.6,326.8 L284.1,326.9 L284.6,327.1 L285.0,327.2 L285.4,327.2 L285.9,327.0 L286.4,327.1 L286.8,327.0 L287.2,327.1 L287.7,327.1 L288.1,327.3 L288.6,327.1 L289.1,327.1 L289.5,327.0 L289.9,327.1 L290.4,327.2 L290.9,327.4 L291.3,327.2 L291.8,327.0 L292.2,326.9 L292.6,327.3 L293.1,327.2 L293.6,327.1 L294.0,326.8 L294.4,326.6 L294.9,326.4 L295.4,326.3 L295.8,326.4 L296.2,326.9 L296.7,325.9 L297.1,326.0 L297.6,325.1 L298.1,324.9 L298.5,325.3 L298.9,325.9 L299.4,324.7 L299.9,324.6 L300.3,323.7 L300.8,324.5 L301.2,324.4 L301.3,324.8 L301.6,324.8 L302.1,325.1 L302.6,323.5 L303.0,322.5 L303.4,322.4 L303.9,323.2 L304.4,323.0 L304.8,323.1 L305.2,321.9 L305.7,321.9 L306.1,321.0 L306.6,322.0 L307.1,321.9 L307.5,322.7 L307.9,321.1 L308.4,319.9 L308.6,319.2 L308.9,320.2 L309.3,319.7 L309.8,320.6 L310.2,320.2 L310.6,320.1 L311.1,318.9 L311.6,319.1 L312.0,319.0 L312.4,319.9 L312.9,319.6 L313.4,320.6 L313.8,319.1 L314.2,318.8 L314.7,317.4 L315.1,317.4 L315.6,318.6 L315.9,320.0 L316.1,319.2 L316.5,318.1 L316.9,316.1 L317.4,316.8 L317.9,317.1 L318.3,317.0 L318.8,315.6 L319.2,314.5 L319.6,314.1 L320.1,315.8 L320.6,314.6 L321.0,313.5 L321.4,312.8 L321.7,313.7 L321.9,313.4 L322.4,315.1 L322.8,313.3 L323.2,312.1 L323.7,309.5 L324.1,310.9 L324.6,311.4 L325.1,312.0 L325.5,309.9 L325.9,310.6 L326.4,310.2 L326.9,312.0 L327.3,311.8 L327.8,312.0 L328.2,309.8 L328.6,309.9 L329.0,309.2 L329.1,310.0 L329.6,310.3 L330.0,309.9 L330.4,307.4 L330.9,307.2 L331.4,307.5 L331.8,308.8 L332.2,306.9 L332.7,306.3 L333.1,304.5 L333.4,303.7 L333.6,302.0 L334.1,303.5 L334.5,303.6 L334.9,305.2 L335.4,305.7 L335.9,306.1 L336.3,303.7 L336.8,303.7 L337.2,301.5 L337.6,302.5 L338.1,303.0 L338.6,304.3 L339.0,304.7 L339.2,305.4 L339.4,303.3 L339.9,302.3 L340.4,299.3 L340.8,299.6 L341.2,300.6 L341.7,301.6 L342.1,299.0 L342.6,298.7 L343.1,297.6 L343.5,299.2 L343.9,298.6 L344.4,298.7 L344.9,295.7 L345.1,294.8 L345.3,293.4 L345.8,296.2 L346.2,296.4 L346.6,298.0 L347.1,295.8 L347.6,296.2 L348.0,295.4 L348.4,297.6 L348.9,298.3 L349.4,300.0 L349.8,297.2 L350.2,297.3 L350.7,295.0 L350.9,295.4 L351.1,295.1 L351.6,296.5 L352.1,296.3 L352.5,295.5 L352.9,292.9 L353.4,290.8 L353.9,288.5 L354.3,289.9 L354.6,289.8 L354.8,290.9 L355.2,290.9 L355.6,292.2 L356.1,290.5 L356.6,289.9 L357.0,287.2 L357.4,287.2 L357.5,286.0 L357.9,288.5 L358.4,289.3 L358.8,291.7 L359.2,289.9 L359.7,289.9 L360.1,288.6 L360.4,290.3 L360.6,289.2 L361.1,291.3 L361.5,290.5 L361.9,291.4 L362.4,288.6 L362.9,288.1 L363.3,285.9 L363.8,288.4 L364.2,289.0 L364.6,291.1 L365.1,290.7 L365.6,291.8 L366.0,289.9 L366.4,291.0 L366.9,293.7 L367.0,295.3 L367.4,296.6 L367.8,297.7 L368.2,295.6 L368.7,296.7 L369.1,296.6 L369.6,298.1 L370.1,297.6 L370.5,297.6 L370.9,295.9 L371.4,296.9 L371.9,297.9 L372.3,300.0 L372.8,301.5 L373.2,302.5 L373.6,300.3 L374.1,300.5 L374.6,299.7 L375.0,301.4 L375.4,302.4 L375.9,302.7 L376.4,301.3 L376.7,302.0 L376.8,300.6 L377.2,302.8 L377.7,304.0 L378.1,307.7 L378.6,305.9 L379.1,306.4 L379.5,305.1 L379.9,307.4 L380.4,307.5 L380.9,309.6 L381.1,309.4 L381.3,311.4 L381.8,309.2 L382.2,309.2 L382.6,309.0 L383.1,311.6 L383.6,312.5 L384.0,314.5 L384.4,313.0 L384.9,312.7 L385.4,313.1 L385.4,314.3 L385.8,314.8 L386.2,317.2 L386.7,317.3 L387.1,317.8 L387.6,316.9 L388.1,317.8 L388.5,319.0 L388.9,320.9 L389.4,319.3 L389.8,319.2 L389.9,318.4 L390.3,320.3 L390.8,321.4 L391.2,322.6 L391.6,321.8 L392.1,321.6 L392.6,322.1 L393.0,323.6 L393.4,324.2 L393.9,324.7 L394.2,324.4 L394.4,324.8 L394.8,323.9 L395.2,324.3 L395.7,324.2 L396.1,324.9 L396.6,325.1 L397.1,325.7 L397.5,325.6 L397.9,325.6 L398.4,324.7 L398.9,325.0 L399.3,325.8 L399.8,326.7 L400.2,326.5 L400.6,326.7 L401.1,326.7 L401.5,327.0 L401.6,326.8 L402.0,327.1 L402.4,327.2 L402.9,327.2 L403.4,327.0 L403.8,326.9 L404.2,326.9 L404.7,327.2 L405.1,327.1 L405.6,327.1 L406.1,326.9 L406.5,327.1 L406.9,327.1 L407.4,327.4 L407.9,327.2 L408.3,327.2 L408.8,326.9 L409.2,326.9 L409.6,326.7 L410.1,327.0 L410.6,327.0 L411.0,327.3 L411.4,327.2 L411.9,327.1 L412.4,326.8 L412.8,327.0 L413.2,327.3 L413.7,327.4 L414.1,327.1 L414.6,327.1 L415.1,326.8 L415.5,327.1 L415.9,327.2 L416.4,327.3 L416.9,327.3 L417.3,327.2 L417.8,326.9 L418.2,326.9 L418.6,326.9 L419.1,327.1 L419.6,327.1 L420.0,327.1 L420.4,326.8 L420.9,327.0 L421.4,327.1 L421.8,327.5 L422.2,327.3 L422.7,327.2 L423.1,326.9 L423.6,326.8 L424.1,326.9 L424.5,327.2 L424.9,327.4 L425.4,327.3 L425.9,327.0 L426.3,327.0 L426.8,327.0 L427.2,327.3 L427.6,327.4 L428.1,327.3 L428.6,327.0 L429.0,327.1 L429.4,327.1 L429.9,327.4 L430.4,327.4 L430.8,327.4 L431.2,327.1 L431.7,327.0 L432.1,326.8 L432.6,327.1 L433.1,327.2 L433.5,327.3 L433.9,327.0 L434.4,327.0 L434.9,327.1 L435.3,327.2 L435.8,327.2 L436.2,327.2 L436.6,327.0 L437.1,327.1 L437.6,327.0 L438.0,327.2 L438.4,327.3 L438.9,327.2 L439.4,327.0 L439.8,327.0 L440.2,327.1 L440.7,327.3 L441.1,327.1 L441.6,327.2 L442.1,326.9 L442.5,326.9 L442.9,326.9 L443.4,327.1 L443.9,327.0 L444.3,327.2 L444.8,327.0 L445.2,327.0 L445.6,326.8 L446.1,326.9 L446.6,326.9 L447.0,327.1 L447.4,327.2 L447.9,327.2 L448.4,327.0 L448.8,327.0 L449.2,326.9 L449.7,327.0 L450.1,327.1 L450.6,327.2 L451.1,327.1 L451.5,327.1 L451.9,327.0 L452.4,327.0 L452.9,327.1 L453.3,327.4 L453.8,327.3 L454.2,327.3 L454.6,327.0 L455.1,327.0 L455.6,326.8 L456.0,327.0 L456.4,327.1 L456.9,327.4 L457.0,327.3" fill="none" stroke="#1e1e1e" stroke-width="0.8"/>
<rect x="492.6" y="202.0" width="177.6" height="125.3" fill="none" stroke="#777" stroke-width="1.3"/>
<line x1="492.6" y1="202.0" x2="492.6" y2="328.3" stroke="#4a4a4a" stroke-width="1.1"/>
<line x1="490.2" y1="327.3" x2="492.9" y2="327.3" stroke="#1a1a1a" stroke-width="1.1"/>
<line x1="490.9" y1="322.3" x2="492.9" y2="322.3" stroke="#1a1a1a" stroke-width="1.1"/>
<line x1="490.9" y1="317.3" x2="492.9" y2="317.3" stroke="#1a1a1a" stroke-width="1.1"/>
<line x1="490.9" y1="312.3" x2="492.9" y2="312.3" stroke="#1a1a1a" stroke-width="1.1"/>
<line x1="490.9" y1="307.3" x2="492.9" y2="307.3" stroke="#1a1a1a" stroke-width="1.1"/>
<line x1="490.2" y1="302.2" x2="492.9" y2="302.2" stroke="#1a1a1a" stroke-width="1.1"/>
<line x1="490.9" y1="297.2" x2="492.9" y2="297.2" stroke="#1a1a1a" stroke-width="1.1"/>
<line x1="490.9" y1="292.2" x2="492.9" y2="292.2" stroke="#1a1a1a" stroke-width="1.1"/>
<line x1="490.9" y1="287.2" x2="492.9" y2="287.2" stroke="#1a1a1a" stroke-width="1.1"/>
<line x1="490.9" y1="282.2" x2="492.9" y2="282.2" stroke="#1a1a1a" stroke-width="1.1"/>
<line x1="490.2" y1="277.2" x2="492.9" y2="277.2" stroke="#1a1a1a" stroke-width="1.1"/>
<line x1="490.9" y1="272.2" x2="492.9" y2="272.2" stroke="#1a1a1a" stroke-width="1.1"/>
<line x1="490.9" y1="267.2" x2="492.9" y2="267.2" stroke="#1a1a1a" stroke-width="1.1"/>
<line x1="490.9" y1="262.1" x2="492.9" y2="262.1" stroke="#1a1a1a" stroke-width="1.1"/>
<line x1="490.9" y1="257.1" x2="492.9" y2="257.1" stroke="#1a1a1a" stroke-width="1.1"/>
<line x1="490.2" y1="252.1" x2="492.9" y2="252.1" stroke="#1a1a1a" stroke-width="1.1"/>
<line x1="490.9" y1="247.1" x2="492.9" y2="247.1" stroke="#1a1a1a" stroke-width="1.1"/>
<line x1="490.9" y1="242.1" x2="492.9" y2="242.1" stroke="#1a1a1a" stroke-width="1.1"/>
<line x1="490.9" y1="237.1" x2="492.9" y2="237.1" stroke="#1a1a1a" stroke-width="1.1"/>
<line x1="490.9" y1="232.1" x2="492.9" y2="232.1" stroke="#1a1a1a" stroke-width="1.1"/>
<line x1="490.2" y1="227.1" x2="492.9" y2="227.1" stroke="#1a1a1a" stroke-width="1.1"/>
<line x1="490.9" y1="222.0" x2="492.9" y2="222.0" stroke="#1a1a1a" stroke-width="1.1"/>
<line x1="490.9" y1="217.0" x2="492.9" y2="217.0" stroke="#1a1a1a" stroke-width="1.1"/>
<line x1="490.9" y1="212.0" x2="492.9" y2="212.0" stroke="#1a1a1a" stroke-width="1.1"/>
<line x1="490.9" y1="207.0" x2="492.9" y2="207.0" stroke="#1a1a1a" stroke-width="1.1"/>
<line x1="490.2" y1="202.0" x2="492.9" y2="202.0" stroke="#1a1a1a" stroke-width="1.1"/>
<text x="0" y="0" transform="translate(487.7 327.3) rotate(-90) scale(0.76 1)" text-anchor="middle" font-size="6.6" fill="#2a2a2a" font-family="Liberation Sans">0</text>
<text x="0" y="0" transform="translate(487.7 302.2) rotate(-90) scale(0.76 1)" text-anchor="middle" font-size="6.6" fill="#2a2a2a" font-family="Liberation Sans">40</text>
<text x="0" y="0" transform="translate(487.7 277.2) rotate(-90) scale(0.76 1)" text-anchor="middle" font-size="6.6" fill="#2a2a2a" font-family="Liberation Sans">80</text>
<text x="0" y="0" transform="translate(487.7 252.1) rotate(-90) scale(0.76 1)" text-anchor="middle" font-size="6.6" fill="#2a2a2a" font-family="Liberation Sans">120</text>
<text x="0" y="0" transform="translate(487.7 227.1) rotate(-90) scale(0.76 1)" text-anchor="middle" font-size="6.6" fill="#2a2a2a" font-family="Liberation Sans">160</text>
<text x="0" y="0" transform="translate(487.7 202.0) rotate(-90) scale(0.76 1)" text-anchor="middle" font-size="6.6" fill="#2a2a2a" font-family="Liberation Sans">200</text>
<line x1="492.6" y1="327.3" x2="492.6" y2="330.3" stroke="#333" stroke-width="1"/>
<text x="488.4" y="335.7" font-size="5.4" font-weight="bold" fill="#3a3a3a" font-family="Liberation Sans">10<tspan dx="0.3" dy="-2.1" font-size="5.1">0</tspan></text>
<line x1="506.0" y1="327.3" x2="506.0" y2="329.1" stroke="#555" stroke-width="0.8"/>
<line x1="513.8" y1="327.3" x2="513.8" y2="329.1" stroke="#555" stroke-width="0.8"/>
<line x1="519.3" y1="327.3" x2="519.3" y2="329.1" stroke="#555" stroke-width="0.8"/>
<line x1="523.6" y1="327.3" x2="523.6" y2="329.1" stroke="#555" stroke-width="0.8"/>
<line x1="527.1" y1="327.3" x2="527.1" y2="329.1" stroke="#555" stroke-width="0.8"/>
<line x1="530.1" y1="327.3" x2="530.1" y2="329.1" stroke="#555" stroke-width="0.8"/>
<line x1="532.7" y1="327.3" x2="532.7" y2="329.1" stroke="#555" stroke-width="0.8"/>
<line x1="535.0" y1="327.3" x2="535.0" y2="329.1" stroke="#555" stroke-width="0.8"/>
<line x1="537.0" y1="327.3" x2="537.0" y2="330.3" stroke="#333" stroke-width="1"/>
<text x="532.8" y="335.7" font-size="5.4" font-weight="bold" fill="#3a3a3a" font-family="Liberation Sans">10<tspan dx="0.3" dy="-2.1" font-size="5.1">1</tspan></text>
<line x1="550.4" y1="327.3" x2="550.4" y2="329.1" stroke="#555" stroke-width="0.8"/>
<line x1="558.2" y1="327.3" x2="558.2" y2="329.1" stroke="#555" stroke-width="0.8"/>
<line x1="563.7" y1="327.3" x2="563.7" y2="329.1" stroke="#555" stroke-width="0.8"/>
<line x1="568.0" y1="327.3" x2="568.0" y2="329.1" stroke="#555" stroke-width="0.8"/>
<line x1="571.5" y1="327.3" x2="571.5" y2="329.1" stroke="#555" stroke-width="0.8"/>
<line x1="574.5" y1="327.3" x2="574.5" y2="329.1" stroke="#555" stroke-width="0.8"/>
<line x1="577.1" y1="327.3" x2="577.1" y2="329.1" stroke="#555" stroke-width="0.8"/>
<line x1="579.4" y1="327.3" x2="579.4" y2="329.1" stroke="#555" stroke-width="0.8"/>
<line x1="581.4" y1="327.3" x2="581.4" y2="330.3" stroke="#333" stroke-width="1"/>
<text x="577.2" y="335.7" font-size="5.4" font-weight="bold" fill="#3a3a3a" font-family="Liberation Sans">10<tspan dx="0.3" dy="-2.1" font-size="5.1">2</tspan></text>
<line x1="594.8" y1="327.3" x2="594.8" y2="329.1" stroke="#555" stroke-width="0.8"/>
<line x1="602.6" y1="327.3" x2="602.6" y2="329.1" stroke="#555" stroke-width="0.8"/>
<line x1="608.1" y1="327.3" x2="608.1" y2="329.1" stroke="#555" stroke-width="0.8"/>
<line x1="612.4" y1="327.3" x2="612.4" y2="329.1" stroke="#555" stroke-width="0.8"/>
<line x1="615.9" y1="327.3" x2="615.9" y2="329.1" stroke="#555" stroke-width="0.8"/>
<line x1="618.9" y1="327.3" x2="618.9" y2="329.1" stroke="#555" stroke-width="0.8"/>
<line x1="621.5" y1="327.3" x2="621.5" y2="329.1" stroke="#555" stroke-width="0.8"/>
<line x1="623.8" y1="327.3" x2="623.8" y2="329.1" stroke="#555" stroke-width="0.8"/>
<line x1="625.8" y1="327.3" x2="625.8" y2="330.3" stroke="#333" stroke-width="1"/>
<text x="621.6" y="335.7" font-size="5.4" font-weight="bold" fill="#3a3a3a" font-family="Liberation Sans">10<tspan dx="0.3" dy="-2.1" font-size="5.1">3</tspan></text>
<line x1="639.2" y1="327.3" x2="639.2" y2="329.1" stroke="#555" stroke-width="0.8"/>
<line x1="647.0" y1="327.3" x2="647.0" y2="329.1" stroke="#555" stroke-width="0.8"/>
<line x1="652.5" y1="327.3" x2="652.5" y2="329.1" stroke="#555" stroke-width="0.8"/>
<line x1="656.8" y1="327.3" x2="656.8" y2="329.1" stroke="#555" stroke-width="0.8"/>
<line x1="660.3" y1="327.3" x2="660.3" y2="329.1" stroke="#555" stroke-width="0.8"/>
<line x1="663.3" y1="327.3" x2="663.3" y2="329.1" stroke="#555" stroke-width="0.8"/>
<line x1="665.9" y1="327.3" x2="665.9" y2="329.1" stroke="#555" stroke-width="0.8"/>
<line x1="668.2" y1="327.3" x2="668.2" y2="329.1" stroke="#555" stroke-width="0.8"/>
<line x1="670.2" y1="327.3" x2="670.2" y2="330.3" stroke="#333" stroke-width="1"/>
<text x="666.0" y="335.7" font-size="5.4" font-weight="bold" fill="#3a3a3a" font-family="Liberation Sans">10<tspan dx="0.3" dy="-2.1" font-size="5.1">4</tspan></text>
<line x1="573.1" y1="336.9" x2="577.0" y2="336.9" stroke="#555" stroke-width="0.9"/>
<rect x="580.6" y="336.4" width="1" height="1" fill="#666"/>
<rect x="584.5" y="336.4" width="1" height="1" fill="#666"/>
<rect x="587.4" y="336.4" width="1" height="1" fill="#666"/>
<path d="M493.8,326.8 L494.2,327.0 L494.7,326.6 L495.1,326.6 L495.6,326.6 L496.1,326.8 L496.5,326.6 L496.9,326.9 L497.4,326.7 L497.9,327.0 L498.3,326.7 L498.8,326.7 L499.2,326.7 L499.6,326.9 L500.1,326.9 L500.6,326.9 L501.0,326.7 L501.4,326.8 L501.9,326.7 L502.4,326.9 L502.8,326.7 L503.2,327.1 L503.7,326.8 L504.1,326.8 L504.6,326.6 L505.1,326.7 L505.5,326.6 L505.9,327.1 L506.4,326.8 L506.9,326.9 L507.3,326.5 L507.8,326.8 L508.2,326.6 L508.6,326.9 L509.1,326.8 L509.6,327.0 L510.0,326.7 L510.4,326.7 L510.9,326.4 L511.4,326.9 L511.8,326.6 L512.2,327.0 L512.7,326.9 L513.1,326.9 L513.6,326.5 L514.0,326.6 L514.5,326.7 L515.0,326.9 L515.4,326.8 L515.9,327.1 L516.3,326.8 L516.8,326.9 L517.2,326.5 L517.6,326.8 L518.1,326.7 L518.5,327.0 L519.0,327.0 L519.5,327.1 L519.9,326.8 L520.4,326.9 L520.8,326.6 L521.2,326.8 L521.7,326.7 L522.1,326.8 L522.6,326.8 L523.0,327.0 L523.5,326.7 L524.0,326.7 L524.4,326.5 L524.9,326.9 L525.3,326.8 L525.8,327.0 L526.2,326.9 L526.6,326.9 L527.1,326.7 L527.5,326.8 L528.0,326.6 L528.5,326.9 L528.9,326.7 L529.4,327.1 L529.8,327.0 L530.2,327.1 L530.7,326.8 L531.1,326.7 L531.6,326.5 L532.0,326.8 L532.5,326.7 L533.0,326.9 L533.4,326.8 L533.9,326.9 L534.3,326.7 L534.8,326.7 L535.2,326.7 L535.6,326.9 L536.1,326.8 L536.5,326.9 L537.0,326.6 L537.5,326.9 L537.9,326.7 L538.4,327.2 L538.8,327.0 L539.2,327.1 L539.7,326.8 L540.1,326.8 L540.6,326.5 L541.0,326.8 L541.5,326.8 L542.0,326.8 L542.4,326.4 L542.9,326.8 L543.3,326.8 L543.8,327.0 L544.2,326.9 L544.6,326.9 L545.1,326.7 L545.5,326.8 L546.0,326.7 L546.5,327.0 L546.9,326.7 L547.4,327.1 L547.8,326.7 L548.2,326.8 L548.4,326.6 L548.7,326.9 L549.1,326.9 L549.6,327.0 L550.0,326.8 L550.5,326.8 L551.0,326.6 L551.4,326.9 L551.9,326.7 L552.3,327.0 L552.8,326.8 L553.2,327.0 L553.6,326.5 L554.1,326.8 L554.5,326.7 L555.0,326.9 L555.4,326.8 L555.5,326.9 L555.9,326.6 L556.4,326.7 L556.8,326.3 L557.2,326.4 L557.7,325.9 L558.1,326.6 L558.6,325.7 L559.0,325.8 L559.5,325.6 L560.0,326.1 L560.4,325.9 L560.9,326.4 L561.3,325.0 L561.8,325.5 L562.2,325.0 L562.4,325.4 L562.6,325.0 L563.1,325.5 L563.5,324.8 L564.0,325.3 L564.5,323.8 L564.9,324.3 L565.4,323.0 L565.8,324.0 L566.2,322.8 L566.7,323.8 L567.1,323.4 L567.1,324.1 L567.6,323.1 L568.0,322.5 L568.5,321.2 L569.0,321.3 L569.4,320.7 L569.9,321.6 L570.0,320.9 L570.3,322.6 L570.8,321.0 L571.2,321.3 L571.6,320.4 L572.1,321.2 L572.5,320.5 L573.0,321.5 L573.5,320.0 L573.9,320.4 L574.4,319.6 L574.8,320.3 L575.0,318.6 L575.2,320.0 L575.7,319.2 L576.1,316.1 L576.6,319.4 L577.0,319.1 L577.5,317.8 L578.0,318.4 L578.4,316.2 L578.9,316.5 L579.3,316.2 L579.8,316.7 L580.2,316.0 L580.6,317.1 L581.1,313.8 L581.5,315.3 L582.0,312.9 L582.5,314.8 L582.9,314.5 L583.2,314.8 L583.4,314.5 L583.8,314.8 L584.2,312.3 L584.7,312.7 L585.1,311.3 L585.6,312.4 L586.0,310.3 L586.5,312.5 L587.0,309.6 L587.4,310.4 L587.9,307.4 L588.3,309.8 L588.8,309.7 L589.0,311.2 L589.2,309.4 L589.6,310.5 L590.1,307.1 L590.5,305.1 L591.0,306.2 L591.5,308.2 L591.9,306.9 L592.4,308.0 L592.8,305.5 L593.2,306.7 L593.7,304.9 L594.1,306.4 L594.6,305.8 L594.9,307.7 L595.0,305.3 L595.5,307.1 L596.0,304.6 L596.4,303.4 L596.9,301.6 L597.3,303.3 L597.8,302.5 L598.2,304.2 L598.6,300.7 L599.1,301.0 L599.5,297.4 L600.0,301.2 L600.5,300.2 L600.7,300.8 L600.9,298.3 L601.4,299.0 L601.8,297.8 L602.2,300.7 L602.7,298.0 L603.1,298.3 L603.6,295.9 L604.0,297.7 L604.5,296.9 L605.0,298.5 L605.4,298.3 L605.9,298.5 L606.3,294.7 L606.6,297.0 L606.8,294.8 L607.2,297.3 L607.6,295.8 L608.1,299.9 L608.5,296.4 L609.0,298.3 L609.5,296.8 L609.9,297.8 L610.4,298.8 L610.8,300.8 L611.2,298.6 L611.7,300.3 L612.1,298.0 L612.4,300.0 L612.6,295.8 L613.0,299.2 L613.5,298.4 L614.0,300.6 L614.4,298.8 L614.9,301.2 L615.3,298.4 L615.8,299.4 L616.2,297.0 L616.6,300.3 L617.1,299.1 L617.5,301.1 L618.0,298.3 L618.5,299.7 L618.9,297.4 L619.4,301.8 L619.8,301.3 L620.0,302.3 L620.2,300.0 L620.7,301.8 L621.1,297.5 L621.6,299.4 L622.0,296.5 L622.5,297.4 L623.0,296.2 L623.4,300.0 L623.9,296.8 L624.3,296.5 L624.8,294.2 L625.2,294.8 L625.6,292.8 L626.1,294.0 L626.5,293.7 L627.0,297.1 L627.5,295.5 L627.9,296.6 L628.4,294.4 L628.8,293.7 L629.2,295.9 L629.7,299.4 L630.1,298.1 L630.5,300.5 L630.6,298.8 L631.0,299.0 L631.5,295.6 L632.0,295.4 L632.4,293.4 L632.9,295.4 L633.3,295.1 L633.8,294.6 L634.2,292.0 L634.6,291.6 L634.9,289.2 L635.1,293.3 L635.5,290.7 L636.0,294.3 L636.5,293.5 L636.9,295.9 L637.4,293.0 L637.8,295.5 L638.2,293.8 L638.7,297.5 L639.1,299.1 L639.2,300.1 L639.6,299.4 L640.0,300.7 L640.5,299.5 L641.0,302.7 L641.4,301.4 L641.9,305.0 L642.3,304.0 L642.8,304.9 L643.2,303.7 L643.6,307.1 L643.6,305.4 L644.1,307.8 L644.5,304.4 L645.0,311.6 L645.5,309.0 L645.9,311.2 L646.4,310.4 L646.8,312.3 L647.2,312.9 L647.7,315.2 L648.0,314.7 L648.1,315.6 L648.6,314.0 L649.0,316.4 L649.5,316.1 L650.0,317.9 L650.4,317.6 L650.9,319.6 L651.3,318.6 L651.8,319.3 L652.2,319.6 L652.6,320.5 L653.1,320.8 L653.5,321.9 L653.8,321.2 L654.0,322.3 L654.5,322.5 L654.9,322.7 L655.4,322.3 L655.8,322.5 L656.2,323.1 L656.7,324.9 L657.1,324.1 L657.6,324.4 L658.0,323.8 L658.5,324.6 L659.0,324.3 L659.4,325.2 L659.9,324.5 L660.3,325.4 L660.8,324.9 L661.1,325.1 L661.2,324.4 L661.6,325.6 L662.1,325.2 L662.5,326.3 L663.0,325.7 L663.5,326.5 L663.9,325.9 L664.4,326.4 L664.8,325.6 L665.2,326.3 L665.7,325.8 L666.1,326.5 L666.6,326.2 L667.0,326.6 L667.5,326.3 L668.0,326.6 L668.4,326.3 L668.9,326.8 L669.3,326.7 L669.8,326.9 L669.9,326.7" fill="none" stroke="#18e018" stroke-width="1.9" stroke-linejoin="round"/>
<path d="M493.8,326.9 L494.3,326.9 L494.8,326.7 L495.3,326.6 L495.8,326.6 L496.3,326.9 L496.8,327.0 L497.3,326.9 L497.8,326.5 L498.3,326.6 L498.8,326.7 L499.3,327.0 L499.8,326.8 L500.3,326.9 L500.8,326.7 L501.3,326.8 L501.8,326.8 L502.3,327.0 L502.8,327.0 L503.3,326.9 L503.8,326.5 L504.3,326.7 L504.8,326.8 L505.3,327.0 L505.8,326.8 L506.3,326.7 L506.8,326.8 L507.3,326.9 L507.8,326.8 L508.3,326.9 L508.8,326.6 L509.3,326.8 L509.8,326.8 L510.3,327.1 L510.8,326.8 L511.3,326.7 L511.8,326.6 L512.3,326.9 L512.8,326.9 L513.3,327.0 L513.8,326.8 L514.3,326.7 L514.8,326.6 L515.3,326.8 L515.8,326.8 L516.3,327.0 L516.8,326.8 L517.3,326.7 L517.8,326.5 L518.3,326.7 L518.8,326.7 L519.3,326.9 L519.8,326.9 L520.3,326.7 L520.8,326.5 L521.3,326.9 L521.8,327.0 L522.3,326.9 L522.8,326.6 L523.3,326.8 L523.8,326.9 L524.3,327.1 L524.8,326.9 L525.0,327.0 L525.3,326.7 L525.8,326.7 L526.3,326.7 L526.8,326.9 L527.3,326.9 L527.8,326.9 L528.3,326.6 L528.8,326.8 L529.3,327.0 L529.8,327.1 L530.3,326.9 L530.8,326.8 L531.3,326.8 L531.8,327.0 L532.3,327.0 L532.8,327.0 L533.3,326.8 L533.8,326.8 L534.3,326.5 L534.4,326.6 L534.8,326.5 L535.3,326.7 L535.8,326.4 L536.3,326.3 L536.8,325.4 L537.3,325.0 L537.8,324.3 L538.3,325.2 L538.8,324.9 L539.3,324.4 L539.8,323.3 L540.2,323.3 L540.3,322.9 L540.8,323.6 L541.3,323.6 L541.8,323.4 L542.3,322.5 L542.8,322.5 L543.3,322.3 L543.8,322.9 L544.3,322.0 L544.8,321.2 L545.3,321.0 L545.8,321.5 L546.1,321.6 L546.3,322.2 L546.8,321.9 L547.3,320.8 L547.8,319.1 L548.3,319.8 L548.8,319.4 L549.3,320.5 L549.8,315.8 L550.3,318.3 L550.8,318.0 L551.3,318.6 L551.8,318.5 L551.9,318.6 L552.3,317.3 L552.8,316.9 L553.3,315.8 L553.8,317.3 L554.3,317.6 L554.8,318.5 L555.3,317.0 L555.8,316.2 L556.3,314.7 L556.6,315.1 L556.8,314.7 L557.3,315.0 L557.8,314.7 L558.3,314.7 L558.8,313.0 L559.3,312.3 L559.8,310.8 L560.1,312.0 L560.3,310.8 L560.8,312.1 L561.3,311.6 L561.8,311.3 L562.3,308.7 L562.8,307.6 L563.3,307.6 L563.8,308.3 L564.3,308.0 L564.7,306.4 L564.8,304.2 L565.3,303.4 L565.8,303.1 L566.3,305.7 L566.8,304.6 L567.3,304.5 L567.8,302.7 L568.3,302.5 L568.8,301.7 L569.3,302.0 L569.8,301.5 L570.0,302.7 L570.3,300.7 L570.8,300.7 L571.3,298.5 L571.8,298.0 L572.3,296.9 L572.8,298.4 L573.3,298.3 L573.8,299.3 L574.0,297.4 L574.3,297.0 L574.8,294.9 L575.3,293.7 L575.8,293.7 L576.3,295.6 L576.8,294.1 L577.3,292.5 L577.5,290.5 L577.8,290.7 L578.3,291.5 L578.8,295.1 L579.3,295.3 L579.8,295.1 L580.3,293.6 L580.8,293.3 L581.3,293.6 L581.4,294.3 L581.8,293.8 L582.3,296.0 L582.8,294.4 L583.3,294.4 L583.8,295.2 L584.3,296.6 L584.8,297.2 L585.0,298.4 L585.3,297.0 L585.8,296.7 L586.3,293.8 L586.8,296.1 L587.3,297.3 L587.8,298.2 L588.3,295.6 L588.8,297.5 L589.3,298.4 L589.6,300.1 L589.8,298.9 L590.3,298.5 L590.8,296.8 L591.3,298.1 L591.8,298.3 L592.3,300.0 L592.8,299.8 L593.3,300.0 L593.8,298.2 L594.3,298.7 L594.8,297.6 L595.3,300.1 L595.4,300.0 L595.8,302.1 L596.3,300.2 L596.8,298.5 L597.3,298.1 L597.8,300.1 L598.3,300.4 L598.8,302.0 L599.3,300.2 L599.8,300.7 L600.3,302.0 L600.8,305.1 L601.3,302.6 L601.8,301.6 L602.3,300.8 L602.8,303.7 L603.3,304.6 L603.8,300.9 L604.3,301.7 L604.8,303.0 L605.3,304.6 L605.7,306.1 L605.8,304.8 L606.3,304.0 L606.8,302.5 L607.3,304.7 L607.8,306.1 L608.3,308.0 L608.8,306.9 L609.3,306.6 L609.8,305.3 L610.3,307.3 L610.8,309.7 L611.3,309.4 L611.5,308.0 L611.8,308.9 L612.3,307.6 L612.8,310.1 L613.3,311.1 L613.8,312.9 L614.3,311.5 L614.8,311.0 L615.3,309.8 L615.8,312.0 L616.3,313.3 L616.8,312.5 L617.3,311.1 L617.8,312.7 L618.3,313.6 L618.8,315.3 L619.3,314.9 L619.8,315.6 L620.3,315.1 L620.8,316.2 L621.3,316.4 L621.8,317.6 L622.3,316.5 L622.8,316.4 L623.3,317.1 L623.8,318.5 L624.3,319.1 L624.6,320.2 L624.8,319.1 L625.3,319.2 L625.8,318.3 L626.3,319.8 L626.8,320.4 L627.3,321.5 L627.8,321.8 L628.3,322.1 L628.8,321.3 L629.3,321.6 L629.8,321.8 L630.3,323.2 L630.8,322.7 L631.3,322.9 L631.8,322.6 L632.3,323.5 L632.8,323.8 L633.3,324.6 L633.4,324.0 L633.8,324.3 L634.3,323.9 L634.8,324.1 L635.3,323.5 L635.8,324.7 L636.3,324.8 L636.8,325.7 L637.3,325.2 L637.8,325.1 L638.3,324.6 L638.8,324.9 L639.3,325.3 L639.8,326.3 L640.3,326.3 L640.8,326.4 L641.3,325.7 L641.8,325.9 L642.3,326.5 L642.8,326.8 L643.3,326.6 L643.6,326.7 L643.8,326.7 L644.3,327.0 L644.8,326.9 L645.3,326.8 L645.8,326.5 L646.3,326.8 L646.8,326.8 L647.3,327.0 L647.8,326.8 L648.3,326.7 L648.8,326.6 L649.3,326.8 L649.8,327.0 L650.3,326.9 L650.8,326.8 L651.3,326.8 L651.8,326.8 L652.3,327.0 L652.8,327.0 L653.3,327.1 L653.8,326.9 L654.3,326.9 L654.8,326.7 L655.3,326.8 L655.8,326.9 L656.3,327.0 L656.8,327.0 L657.3,326.9 L657.8,326.6 L658.3,326.6 L658.8,326.7 L659.3,327.1 L659.8,326.8 L660.3,326.7 L660.8,326.6 L661.3,326.9 L661.8,326.8 L662.3,326.8 L662.8,326.6 L663.3,326.6 L663.8,326.8 L664.3,327.1 L664.8,326.7 L665.3,326.6 L665.8,326.7 L666.3,327.0 L666.8,326.8 L667.3,326.6 L667.8,326.7 L668.3,327.0 L668.8,326.8 L669.3,326.7 L669.8,326.6 L670.0,326.7" fill="none" stroke="#e47cc4" stroke-width="0.9"/>
<path d="M493.8,326.9 L494.2,326.8 L494.7,326.6 L495.1,326.6 L495.6,326.6 L496.1,326.8 L496.5,326.8 L496.9,326.9 L497.4,326.7 L497.9,326.6 L498.3,326.6 L498.8,326.9 L499.2,327.0 L499.6,326.9 L500.1,326.7 L500.6,326.7 L501.0,326.6 L501.4,326.8 L501.9,326.8 L502.4,327.1 L502.8,327.0 L503.2,326.9 L503.7,326.6 L504.0,326.6 L504.1,326.4 L504.6,326.4 L505.1,326.1 L505.5,326.8 L505.9,326.2 L506.4,326.1 L506.9,325.2 L507.3,325.2 L507.8,324.8 L508.2,325.3 L508.6,324.9 L509.1,324.7 L509.6,323.3 L509.9,323.2 L510.0,323.1 L510.4,324.2 L510.9,324.4 L511.4,325.0 L511.8,323.9 L512.2,323.6 L512.7,322.6 L513.1,322.9 L513.6,322.8 L514.0,319.8 L514.5,323.2 L515.0,322.7 L515.4,321.5 L515.7,321.2 L515.9,320.5 L516.3,321.5 L516.8,322.3 L517.2,322.0 L517.6,320.2 L518.1,319.6 L518.5,319.9 L519.0,320.3 L519.5,319.7 L519.9,319.6 L520.4,318.2 L520.4,318.6 L520.8,316.9 L521.2,317.9 L521.7,318.3 L522.1,318.4 L522.6,315.3 L523.0,314.0 L523.5,315.4 L523.9,317.1 L524.0,316.3 L524.4,315.4 L524.9,312.9 L525.3,311.9 L525.8,312.5 L526.2,313.5 L526.6,313.6 L527.1,313.6 L527.5,311.6 L528.0,311.9 L528.5,312.5 L528.5,313.0 L528.9,312.1 L529.4,312.3 L529.8,310.8 L530.2,309.6 L530.7,306.4 L530.9,305.5 L531.1,304.0 L531.6,307.3 L532.0,308.6 L532.5,309.7 L533.0,308.0 L533.2,308.6 L533.4,307.3 L533.9,306.2 L534.3,303.8 L534.8,306.4 L535.2,308.0 L535.6,308.2 L536.1,303.8 L536.5,303.4 L536.7,303.1 L537.0,303.7 L537.5,304.2 L537.9,306.6 L538.4,305.0 L538.8,304.4 L539.2,301.7 L539.7,301.4 L540.1,301.6 L540.2,302.1 L540.6,301.0 L541.0,302.6 L541.5,301.2 L542.0,300.7 L542.4,296.9 L542.6,297.7 L542.9,295.9 L543.3,295.4 L543.8,294.9 L544.2,297.6 L544.6,298.1 L545.1,299.3 L545.5,298.1 L545.5,298.7 L546.0,295.3 L546.5,295.1 L546.9,293.4 L547.2,295.2 L547.4,293.7 L547.8,294.3 L548.2,289.0 L548.4,288.5 L548.7,286.8 L549.1,289.1 L549.6,290.1 L550.0,294.1 L550.5,295.0 L550.7,296.8 L551.0,294.0 L551.4,292.3 L551.9,288.3 L552.3,290.0 L552.8,290.0 L553.1,291.4 L553.2,290.9 L553.6,291.6 L554.1,289.7 L554.5,289.3 L555.0,287.8 L555.4,289.1 L555.5,288.7 L555.9,293.1 L556.4,294.5 L556.8,296.0 L557.2,295.2 L557.5,296.3 L557.7,295.1 L558.1,295.8 L558.6,295.7 L559.0,298.3 L559.5,297.9 L560.0,299.0 L560.0,299.1 L560.4,299.2 L560.9,297.5 L561.3,297.8 L561.8,297.0 L562.2,300.6 L562.6,302.7 L563.1,303.0 L563.4,301.8 L563.5,302.3 L564.0,300.6 L564.5,300.3 L564.9,301.2 L565.4,304.5 L565.8,306.5 L566.2,307.1 L566.7,305.2 L566.9,305.1 L567.1,303.5 L567.6,304.5 L568.0,307.0 L568.5,308.8 L569.0,307.8 L569.4,308.3 L569.9,306.2 L570.3,307.2 L570.8,308.0 L571.2,310.1 L571.6,310.3 L572.1,311.3 L572.5,309.1 L573.0,309.0 L573.5,310.5 L573.9,313.2 L574.4,312.1 L574.8,312.1 L575.2,310.5 L575.7,311.2 L576.1,311.7 L576.6,314.4 L577.0,313.9 L577.5,314.7 L578.0,313.8 L578.4,315.1 L578.6,315.1 L578.9,316.3 L579.3,315.6 L579.8,315.6 L580.2,314.2 L580.6,314.8 L581.1,315.5 L581.5,313.5 L582.0,317.2 L582.5,317.1 L582.9,315.9 L583.0,316.4 L583.4,315.5 L583.8,317.0 L584.2,317.4 L584.7,318.8 L585.1,319.1 L585.6,319.5 L586.0,318.1 L586.5,318.7 L586.7,317.8 L587.0,318.2 L587.4,318.4 L587.9,319.7 L588.3,319.9 L588.8,321.0 L589.2,320.1 L589.6,319.5 L590.1,318.5 L590.5,318.1 L591.0,317.9 L591.1,318.7 L591.5,318.4 L591.9,319.7 L592.4,319.3 L592.8,319.6 L593.2,319.2 L593.7,319.5 L594.1,318.9 L594.6,320.0 L595.0,319.9 L595.5,320.9 L596.0,320.3 L596.4,320.2 L596.9,319.6 L597.3,319.7 L597.8,319.6 L598.2,320.9 L598.4,320.7 L598.6,321.7 L599.1,321.5 L599.5,321.3 L600.0,320.4 L600.5,320.7 L600.9,320.9 L601.4,322.3 L601.8,321.9 L602.2,322.0 L602.7,321.8 L603.1,321.6 L603.6,321.8 L604.0,323.0 L604.5,323.4 L605.0,323.5 L605.4,322.8 L605.9,322.6 L606.3,321.8 L606.8,323.4 L607.1,323.8 L607.2,324.7 L607.6,323.4 L608.1,323.2 L608.5,323.8 L609.0,325.4 L609.5,324.8 L609.9,324.6 L610.4,323.8 L610.8,324.3 L611.2,324.7 L611.7,325.8 L612.1,324.9 L612.6,324.6 L613.0,324.1 L613.5,325.0 L614.0,325.6 L614.4,326.4 L614.9,325.3 L615.3,325.1 L615.8,325.3 L616.2,326.7 L616.6,326.9 L617.1,326.5 L617.5,325.7 L618.0,325.5 L618.5,325.7 L618.9,326.8 L619.4,327.0 L619.8,326.5 L620.2,325.7 L620.7,326.4 L621.1,326.4 L621.6,326.7 L622.0,326.9 L622.5,327.0 L623.0,326.6 L623.2,326.7 L623.4,326.4 L623.9,326.8 L624.3,326.9 L624.8,326.8 L625.2,326.6 L625.6,326.6 L626.1,326.5 L626.5,326.7 L627.0,326.8 L627.5,326.9 L627.9,326.8 L628.4,326.8 L628.8,326.6 L629.2,326.8 L629.7,326.8 L630.1,327.0 L630.6,326.7 L631.0,326.6 L631.5,326.4 L632.0,326.7 L632.4,326.7 L632.9,326.9 L633.3,327.0 L633.8,326.9 L634.2,326.7 L634.6,326.7 L635.1,326.8 L635.5,327.0 L636.0,327.0 L636.5,327.1 L636.9,326.8 L637.4,326.9 L637.8,326.7 L638.2,326.9 L638.7,326.9 L639.1,327.0 L639.6,326.7 L640.0,326.6 L640.5,326.7 L641.0,327.0 L641.4,327.0 L641.9,326.8 L642.3,326.5 L642.8,326.6 L643.2,326.7 L643.6,326.9 L644.1,326.9 L644.5,326.8 L645.0,326.6 L645.5,326.5 L645.9,326.4 L646.4,326.7 L646.8,326.7 L647.2,326.9 L647.7,327.0 L648.1,326.9 L648.6,326.7 L649.0,326.7 L649.5,326.5 L650.0,326.8 L650.4,326.9 L650.9,327.1 L651.3,326.8 L651.8,326.7 L652.2,326.6 L652.6,326.8 L653.1,326.8 L653.5,326.9 L654.0,326.9 L654.5,326.8 L654.9,326.6 L655.4,326.7 L655.8,326.7 L656.2,326.9 L656.7,326.8 L657.1,326.7 L657.6,326.6 L658.0,326.6 L658.5,326.6 L659.0,326.8 L659.4,326.8 L659.9,326.9 L660.3,326.8 L660.8,326.7 L661.2,326.5 L661.6,326.7 L662.1,326.8 L662.5,327.0 L663.0,327.1 L663.5,327.2 L663.9,326.8 L664.4,326.9 L664.8,326.6 L665.2,326.8 L665.7,326.9 L666.1,327.0 L666.6,326.8 L667.0,326.8 L667.5,326.6 L668.0,326.7 L668.4,326.7 L668.9,327.0 L669.3,327.0 L669.8,326.9 L670.0,326.7" fill="none" stroke="#1e1e1e" stroke-width="0.8"/>
<text x="0" y="0" transform="translate(237 56) scale(1.045 1.0)" text-anchor="end" font-size="24" fill="#119a55" style="font-family:'Liberation Serif',serif">None</text>
<text x="0" y="0" transform="translate(448.5 56) scale(1.045 1.0)" text-anchor="end" font-size="24" fill="#119a55" style="font-family:'Liberation Serif',serif">AP</text>
<text x="0" y="0" transform="translate(659 56) scale(1.045 1.0)" text-anchor="end" font-size="24" fill="#119a55" style="font-family:'Liberation Serif',serif">MSU</text>
<text x="0" y="0" transform="translate(242 226.5) scale(1.045 1.0)" text-anchor="end" font-size="24" fill="#119a55" style="font-family:'Liberation Serif',serif">5-FU</text>
<text x="0" y="0" transform="translate(243.3 256.2) scale(1.02 1.0)" text-anchor="end" font-size="24" fill="#cc0e80" style="font-family:'Liberation Serif',serif">AP+5-FU</text>
<text x="0" y="0" transform="translate(447.5 226.5) scale(1.045 1.0)" text-anchor="end" font-size="24" fill="#119a55" style="font-family:'Liberation Serif',serif">Gem</text>
<text x="0" y="0" transform="translate(449.3 256.2) scale(1.02 1.0)" text-anchor="end" font-size="24" fill="#cc0e80" style="font-family:'Liberation Serif',serif">AP+Gem</text>
<text x="0" y="0" transform="translate(654.5 226.5) scale(1.045 1.0)" text-anchor="end" font-size="24" fill="#119a55" style="font-family:'Liberation Serif',serif">IR</text>
<text x="0" y="0" transform="translate(658.8 256.2) scale(1.02 1.0)" text-anchor="end" font-size="24" fill="#cc0e80" style="font-family:'Liberation Serif',serif">AP+IR</text>
<text x="0" y="0" transform="translate(43.1 166.2) rotate(-90)" font-size="22.6" fill="#000" style="font-family:'Liberation Serif',serif">Cell counts</text>
<text x="0" y="0" transform="translate(45.2 312) rotate(-90)" font-size="22.6" fill="#000" style="font-family:'Liberation Serif',serif">Cell counts</text>
<text x="240.5" y="369.5" font-size="28.5" fill="#000" style="font-family:'Liberation Serif',serif">Fluorescence intensity</text>
<line x1="111.8" y1="441.2" x2="111.8" y2="698" stroke="#000" stroke-width="1.6"/>
<line x1="104.8" y1="692.1" x2="682.6" y2="692.1" stroke="#222" stroke-width="1.5"/>
<line x1="104.6" y1="692.1" x2="111.8" y2="692.1" stroke="#000" stroke-width="1.6"/>
<text x="93.2" y="699.0" text-anchor="end" font-size="19.3" fill="#111" style="font-family:'Liberation Sans',sans-serif">0</text>
<line x1="104.6" y1="650.3" x2="111.8" y2="650.3" stroke="#000" stroke-width="1.6"/>
<text x="93.2" y="657.2" text-anchor="end" font-size="19.3" fill="#111" style="font-family:'Liberation Sans',sans-serif">1</text>
<line x1="104.6" y1="608.5" x2="111.8" y2="608.5" stroke="#000" stroke-width="1.6"/>
<text x="93.2" y="615.4" text-anchor="end" font-size="19.3" fill="#111" style="font-family:'Liberation Sans',sans-serif">2</text>
<line x1="104.6" y1="566.7" x2="111.8" y2="566.7" stroke="#000" stroke-width="1.6"/>
<text x="93.2" y="573.6" text-anchor="end" font-size="19.3" fill="#111" style="font-family:'Liberation Sans',sans-serif">3</text>
<line x1="104.6" y1="524.9" x2="111.8" y2="524.9" stroke="#000" stroke-width="1.6"/>
<text x="93.2" y="531.8" text-anchor="end" font-size="19.3" fill="#111" style="font-family:'Liberation Sans',sans-serif">4</text>
<line x1="104.6" y1="483.1" x2="111.8" y2="483.1" stroke="#000" stroke-width="1.6"/>
<text x="93.2" y="490.0" text-anchor="end" font-size="19.3" fill="#111" style="font-family:'Liberation Sans',sans-serif">5</text>
<line x1="104.6" y1="441.3" x2="111.8" y2="441.3" stroke="#000" stroke-width="1.6"/>
<text x="93.2" y="448.2" text-anchor="end" font-size="19.3" fill="#111" style="font-family:'Liberation Sans',sans-serif">6</text>
<rect x="132.8" y="640.3" width="26.9" height="51.8" fill="#a6a6a6" stroke="#000" stroke-width="1.7"/>
<rect x="205.2" y="623.5" width="26.8" height="68.6" fill="#a6a6a6" stroke="#000" stroke-width="1.7"/>
<line x1="219.4" y1="620.0" x2="219.4" y2="623.5" stroke="#000" stroke-width="1.5"/>
<line x1="215.1" y1="620.0" x2="223.7" y2="620.0" stroke="#000" stroke-width="1.7"/>
<rect x="275.4" y="502.8" width="27.3" height="189.3" fill="#a6a6a6" stroke="#000" stroke-width="1.7"/>
<rect x="347.7" y="488.8" width="27.2" height="203.3" fill="#a6a6a6" stroke="#000" stroke-width="1.7"/>
<line x1="362.1" y1="484.0" x2="362.1" y2="488.8" stroke="#000" stroke-width="1.5"/>
<line x1="357.8" y1="484.0" x2="366.4" y2="484.0" stroke="#000" stroke-width="1.7"/>
<rect x="418.2" y="498.0" width="27.2" height="194.1" fill="#a6a6a6" stroke="#000" stroke-width="1.7"/>
<line x1="432.6" y1="496.3" x2="432.6" y2="498.0" stroke="#000" stroke-width="1.5"/>
<line x1="428.2" y1="496.3" x2="436.9" y2="496.3" stroke="#000" stroke-width="1.7"/>
<rect x="490.2" y="640.0" width="27.1" height="52.1" fill="#a6a6a6" stroke="#000" stroke-width="1.7"/>
<line x1="504.5" y1="636.8" x2="504.5" y2="640.0" stroke="#000" stroke-width="1.5"/>
<line x1="500.2" y1="636.8" x2="508.8" y2="636.8" stroke="#000" stroke-width="1.7"/>
<rect x="561.1" y="642.9" width="26.6" height="49.2" fill="#a6a6a6" stroke="#000" stroke-width="1.7"/>
<rect x="633.1" y="640.1" width="26.8" height="52.0" fill="#a6a6a6" stroke="#000" stroke-width="1.7"/>
<line x1="647.2" y1="638.5" x2="647.2" y2="640.1" stroke="#000" stroke-width="1.5"/>
<line x1="643.0" y1="638.5" x2="651.5" y2="638.5" stroke="#000" stroke-width="1.7"/>
<text x="157.3" y="727.3" text-anchor="middle" font-size="21.5" letter-spacing="1.6" fill="#111" style="font-family:'Liberation Sans',sans-serif">None</text>
<text x="218.2" y="727.3" text-anchor="middle" font-size="21.5" letter-spacing="0" fill="#111" style="font-family:'Liberation Sans',sans-serif">AP</text>
<text x="292.8" y="727.3" text-anchor="middle" font-size="21.5" letter-spacing="0" fill="#111" style="font-family:'Liberation Sans',sans-serif">5-FU</text>
<text x="367.2" y="727.3" text-anchor="middle" font-size="21.5" letter-spacing="1.3" fill="#111" style="font-family:'Liberation Sans',sans-serif">Gem</text>
<text x="431.5" y="727.3" text-anchor="middle" font-size="21.5" letter-spacing="0" fill="#111" style="font-family:'Liberation Sans',sans-serif">IR</text>
<text x="511.5" y="727.3" text-anchor="middle" font-size="21.5" letter-spacing="0" fill="#111" style="font-family:'Liberation Sans',sans-serif">5-FU</text>
<text x="581.4" y="727.3" text-anchor="middle" font-size="21.5" letter-spacing="1.3" fill="#111" style="font-family:'Liberation Sans',sans-serif">Gem</text>
<text x="645.5" y="727.3" text-anchor="middle" font-size="21.5" letter-spacing="0" fill="#111" style="font-family:'Liberation Sans',sans-serif">IR</text>
<text x="510.8" y="755.2" text-anchor="middle" font-size="21.5" letter-spacing="0" fill="#111" style="font-family:'Liberation Sans',sans-serif">AP</text>
<text x="579.8" y="755.2" text-anchor="middle" font-size="21.5" letter-spacing="0" fill="#111" style="font-family:'Liberation Sans',sans-serif">AP</text>
<text x="649.2" y="755.2" text-anchor="middle" font-size="21.5" letter-spacing="0" fill="#111" style="font-family:'Liberation Sans',sans-serif">AP</text>
<text x="0" y="0" transform="translate(46.5 665) rotate(-90)" font-size="19" letter-spacing="0.64" fill="#111" style="font-family:'Liberation Sans',sans-serif">Uric acid concentration</text>
<text x="0" y="0" transform="translate(70.5 629.8) rotate(-90)" font-size="19" letter-spacing="0.55" fill="#111" style="font-family:'Liberation Sans',sans-serif">(µg/5x10<tspan dy="-7" font-size="13">6</tspan><tspan dy="7"> cells)</tspan></text>
</svg>
</body></html>
